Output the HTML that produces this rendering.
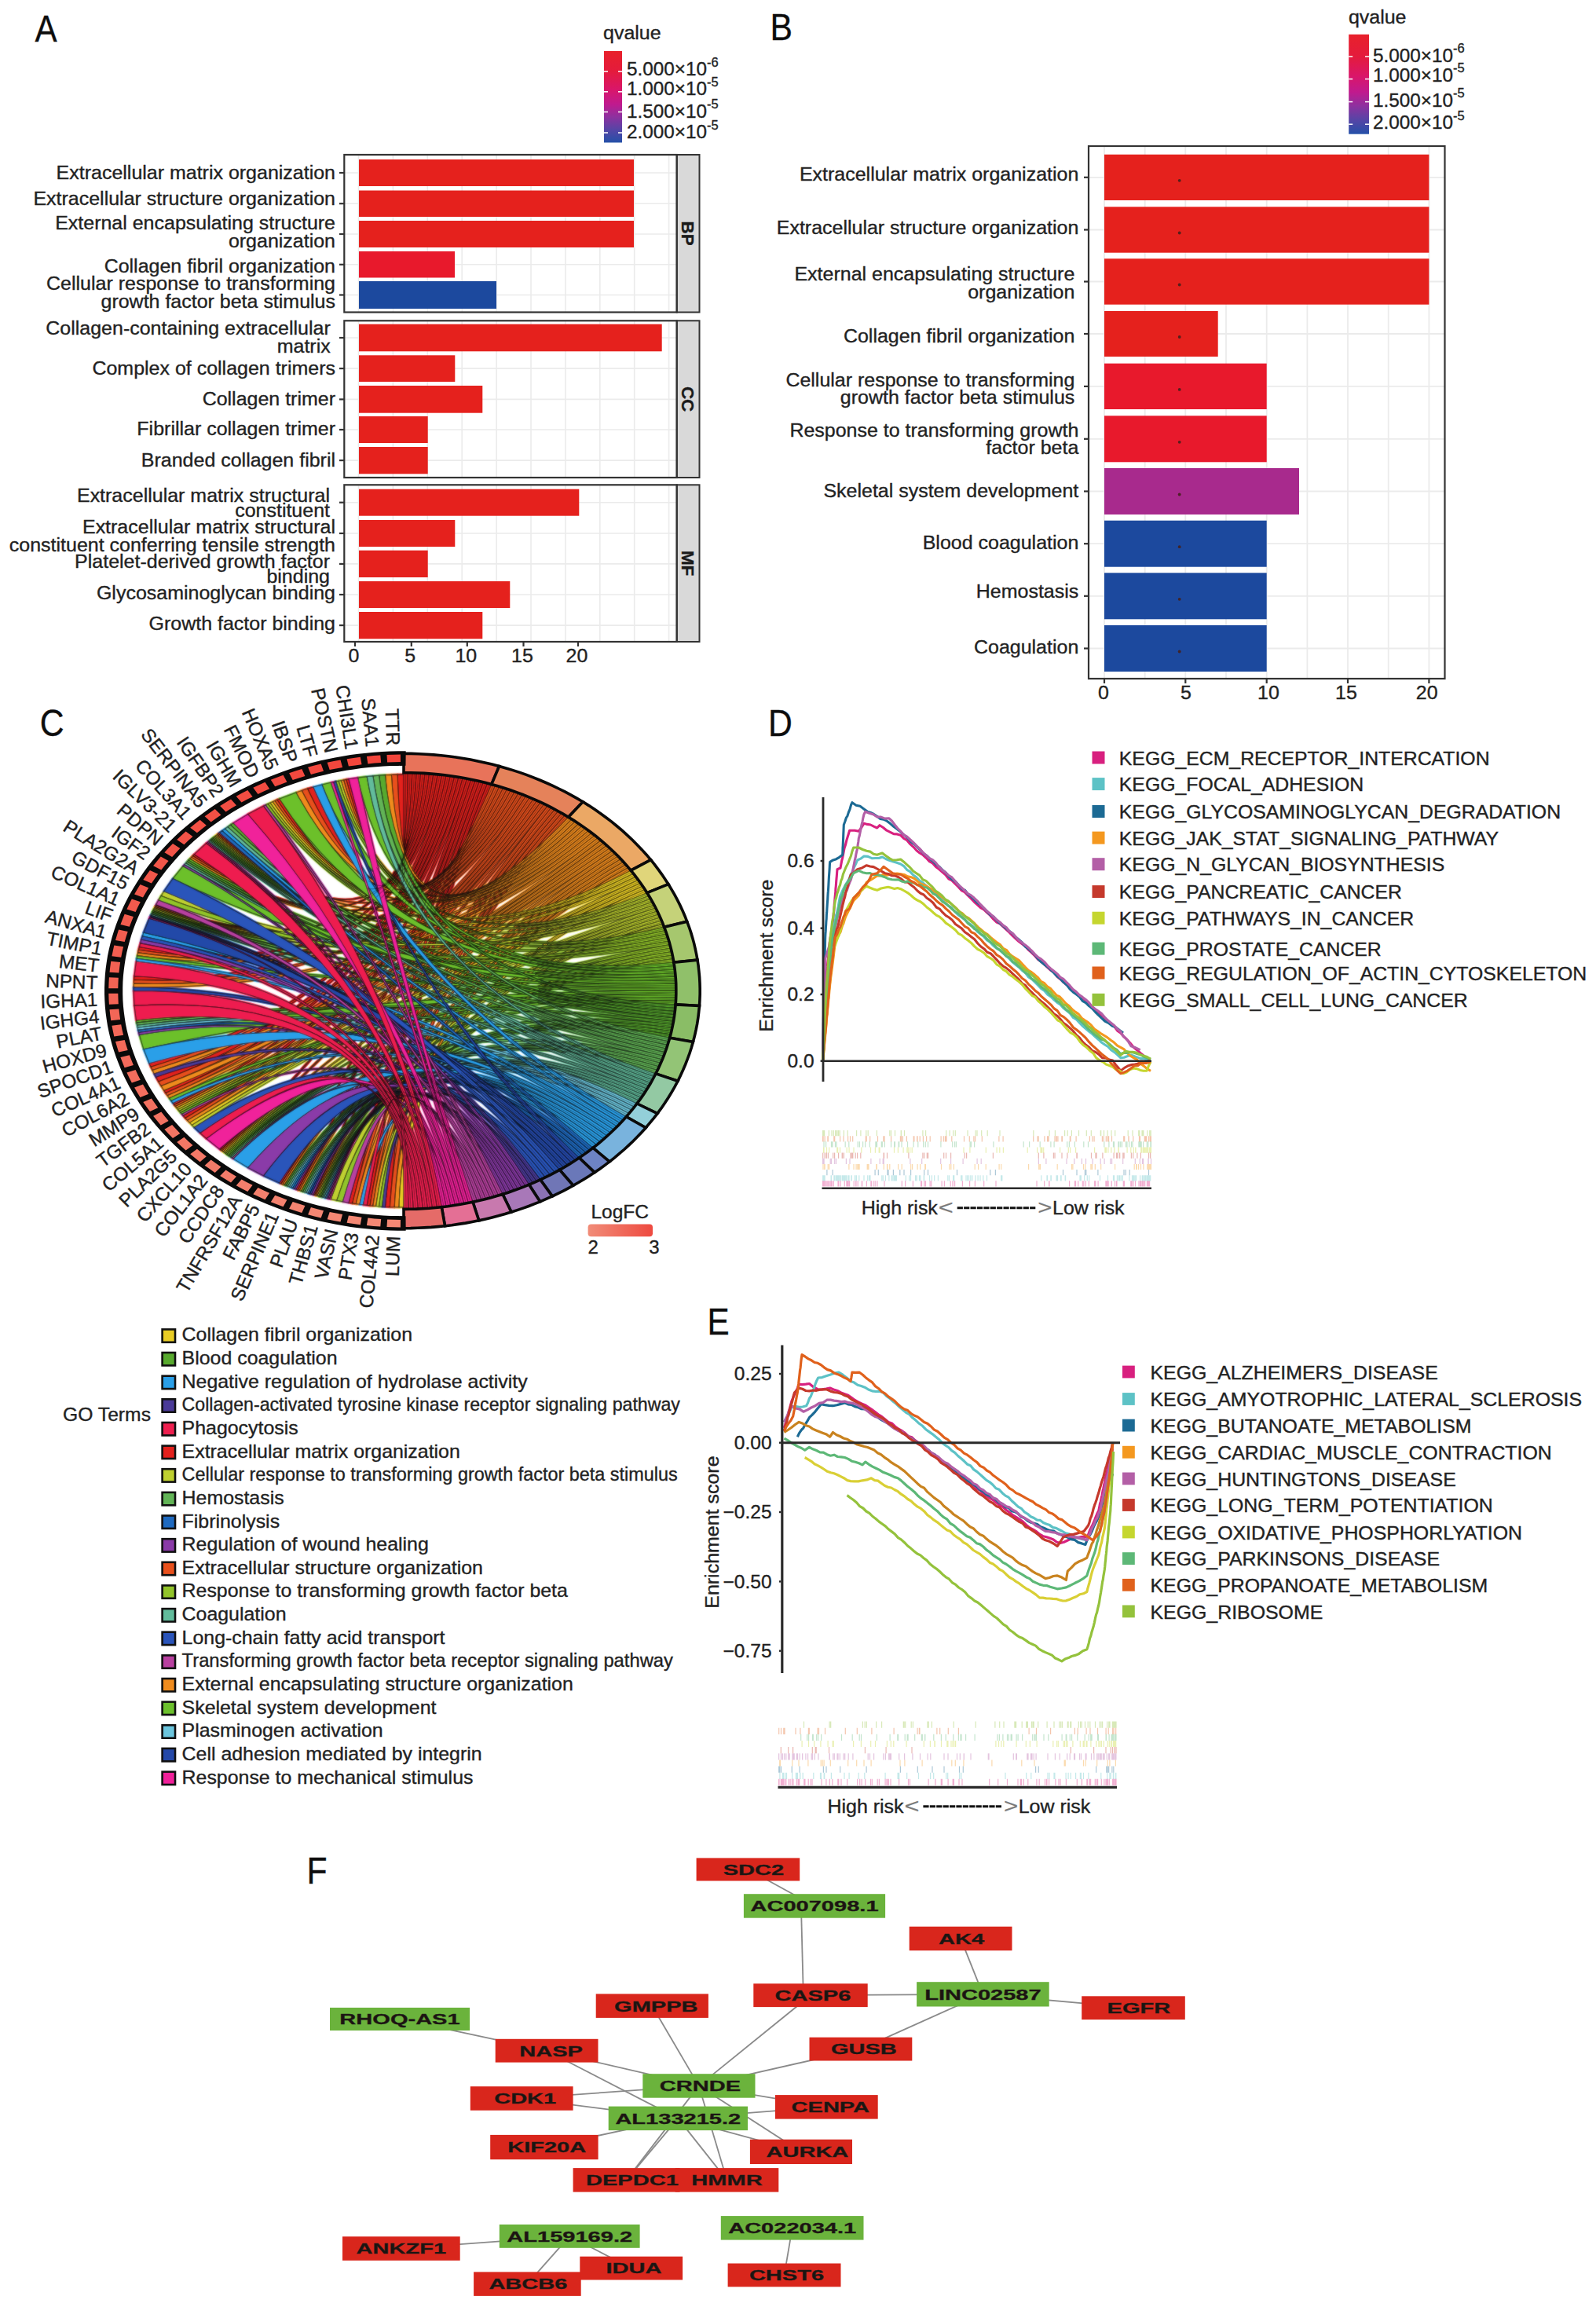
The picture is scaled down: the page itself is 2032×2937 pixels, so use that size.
<!DOCTYPE html>
<html><head><meta charset="utf-8"><title>figure</title>
<style>html,body{margin:0;padding:0;background:#fff}svg{display:block}
text{font-family:"Liberation Sans",sans-serif;stroke:#222;stroke-width:0.35px}
</style></head>
<body><svg width="2032" height="2937" viewBox="0 0 2032 2937">
<rect width="2032" height="2937" fill="#ffffff"/>
<text transform="translate(44.4,53.4) scale(0.8700,1)" font-size="48.5" fill="#0d0d0d">A</text>
<text transform="translate(980.6,50.6) scale(0.8800,1)" font-size="48.5" fill="#0d0d0d">B</text>
<rect x="438.3" y="197.0" width="423.4" height="200.5" fill="#fff"/>
<line x1="456.5" y1="197.0" x2="456.5" y2="397.5" stroke="#ebebeb" stroke-width="1.6"/>
<line x1="500.4" y1="197.0" x2="500.4" y2="397.5" stroke="#ebebeb" stroke-width="1.6"/>
<line x1="544.3" y1="197.0" x2="544.3" y2="397.5" stroke="#ebebeb" stroke-width="1.6"/>
<line x1="588.2" y1="197.0" x2="588.2" y2="397.5" stroke="#ebebeb" stroke-width="1.6"/>
<line x1="632.1" y1="197.0" x2="632.1" y2="397.5" stroke="#ebebeb" stroke-width="1.6"/>
<line x1="676.0" y1="197.0" x2="676.0" y2="397.5" stroke="#ebebeb" stroke-width="1.6"/>
<line x1="719.9" y1="197.0" x2="719.9" y2="397.5" stroke="#ebebeb" stroke-width="1.6"/>
<line x1="763.8" y1="197.0" x2="763.8" y2="397.5" stroke="#ebebeb" stroke-width="1.6"/>
<line x1="807.7" y1="197.0" x2="807.7" y2="397.5" stroke="#ebebeb" stroke-width="1.6"/>
<line x1="851.6" y1="197.0" x2="851.6" y2="397.5" stroke="#ebebeb" stroke-width="1.6"/>
<line x1="438.3" y1="220.0" x2="861.7" y2="220.0" stroke="#ebebeb" stroke-width="1.6"/>
<line x1="438.3" y1="259.2" x2="861.7" y2="259.2" stroke="#ebebeb" stroke-width="1.6"/>
<line x1="438.3" y1="298.0" x2="861.7" y2="298.0" stroke="#ebebeb" stroke-width="1.6"/>
<line x1="438.3" y1="336.8" x2="861.7" y2="336.8" stroke="#ebebeb" stroke-width="1.6"/>
<line x1="438.3" y1="375.5" x2="861.7" y2="375.5" stroke="#ebebeb" stroke-width="1.6"/>
<rect x="457.0" y="203.0" width="350.0" height="34.0" fill="#e5211d"/>
<line x1="432.0" y1="220.0" x2="438.3" y2="220.0" stroke="#333333" stroke-width="2.2"/>
<rect x="457.0" y="242.5" width="350.0" height="33.5" fill="#e5211d"/>
<line x1="432.0" y1="259.2" x2="438.3" y2="259.2" stroke="#333333" stroke-width="2.2"/>
<rect x="457.0" y="281.0" width="350.0" height="34.0" fill="#e5211d"/>
<line x1="432.0" y1="298.0" x2="438.3" y2="298.0" stroke="#333333" stroke-width="2.2"/>
<rect x="457.0" y="320.0" width="122.0" height="33.5" fill="#e8192c"/>
<line x1="432.0" y1="336.8" x2="438.3" y2="336.8" stroke="#333333" stroke-width="2.2"/>
<rect x="457.0" y="358.0" width="175.0" height="35.0" fill="#1c499e"/>
<line x1="432.0" y1="375.5" x2="438.3" y2="375.5" stroke="#333333" stroke-width="2.2"/>
<rect x="861.7" y="197.0" width="28.8" height="200.5" fill="#d9d9d9" stroke="#333333" stroke-width="2"/>
<rect x="438.3" y="197.0" width="423.4" height="200.5" fill="none" stroke="#333333" stroke-width="2.2"/>
<text transform="translate(868.0,297.2) rotate(90.00) scale(1.0200,1)" font-size="22" text-anchor="middle" font-weight="700" fill="#1a1a1a">BP</text>
<rect x="438.3" y="408.3" width="423.4" height="199.7" fill="#fff"/>
<line x1="456.5" y1="408.3" x2="456.5" y2="608.0" stroke="#ebebeb" stroke-width="1.6"/>
<line x1="500.4" y1="408.3" x2="500.4" y2="608.0" stroke="#ebebeb" stroke-width="1.6"/>
<line x1="544.3" y1="408.3" x2="544.3" y2="608.0" stroke="#ebebeb" stroke-width="1.6"/>
<line x1="588.2" y1="408.3" x2="588.2" y2="608.0" stroke="#ebebeb" stroke-width="1.6"/>
<line x1="632.1" y1="408.3" x2="632.1" y2="608.0" stroke="#ebebeb" stroke-width="1.6"/>
<line x1="676.0" y1="408.3" x2="676.0" y2="608.0" stroke="#ebebeb" stroke-width="1.6"/>
<line x1="719.9" y1="408.3" x2="719.9" y2="608.0" stroke="#ebebeb" stroke-width="1.6"/>
<line x1="763.8" y1="408.3" x2="763.8" y2="608.0" stroke="#ebebeb" stroke-width="1.6"/>
<line x1="807.7" y1="408.3" x2="807.7" y2="608.0" stroke="#ebebeb" stroke-width="1.6"/>
<line x1="851.6" y1="408.3" x2="851.6" y2="608.0" stroke="#ebebeb" stroke-width="1.6"/>
<line x1="438.3" y1="430.0" x2="861.7" y2="430.0" stroke="#ebebeb" stroke-width="1.6"/>
<line x1="438.3" y1="469.1" x2="861.7" y2="469.1" stroke="#ebebeb" stroke-width="1.6"/>
<line x1="438.3" y1="508.4" x2="861.7" y2="508.4" stroke="#ebebeb" stroke-width="1.6"/>
<line x1="438.3" y1="547.0" x2="861.7" y2="547.0" stroke="#ebebeb" stroke-width="1.6"/>
<line x1="438.3" y1="586.1" x2="861.7" y2="586.1" stroke="#ebebeb" stroke-width="1.6"/>
<rect x="457.0" y="412.7" width="385.7" height="34.6" fill="#e5211d"/>
<line x1="432.0" y1="430.0" x2="438.3" y2="430.0" stroke="#333333" stroke-width="2.2"/>
<rect x="457.0" y="452.3" width="122.3" height="33.7" fill="#e5211d"/>
<line x1="432.0" y1="469.1" x2="438.3" y2="469.1" stroke="#333333" stroke-width="2.2"/>
<rect x="457.0" y="491.0" width="157.3" height="34.7" fill="#e5211d"/>
<line x1="432.0" y1="508.4" x2="438.3" y2="508.4" stroke="#333333" stroke-width="2.2"/>
<rect x="457.0" y="530.0" width="87.7" height="34.0" fill="#e5211d"/>
<line x1="432.0" y1="547.0" x2="438.3" y2="547.0" stroke="#333333" stroke-width="2.2"/>
<rect x="457.0" y="569.0" width="87.7" height="34.3" fill="#e5211d"/>
<line x1="432.0" y1="586.1" x2="438.3" y2="586.1" stroke="#333333" stroke-width="2.2"/>
<rect x="861.7" y="408.3" width="28.8" height="199.7" fill="#d9d9d9" stroke="#333333" stroke-width="2"/>
<rect x="438.3" y="408.3" width="423.4" height="199.7" fill="none" stroke="#333333" stroke-width="2.2"/>
<text transform="translate(868.0,508.1) rotate(90.00) scale(1.0200,1)" font-size="22" text-anchor="middle" font-weight="700" fill="#1a1a1a">CC</text>
<rect x="438.3" y="617.3" width="423.4" height="199.7" fill="#fff"/>
<line x1="456.5" y1="617.3" x2="456.5" y2="817.0" stroke="#ebebeb" stroke-width="1.6"/>
<line x1="500.4" y1="617.3" x2="500.4" y2="817.0" stroke="#ebebeb" stroke-width="1.6"/>
<line x1="544.3" y1="617.3" x2="544.3" y2="817.0" stroke="#ebebeb" stroke-width="1.6"/>
<line x1="588.2" y1="617.3" x2="588.2" y2="817.0" stroke="#ebebeb" stroke-width="1.6"/>
<line x1="632.1" y1="617.3" x2="632.1" y2="817.0" stroke="#ebebeb" stroke-width="1.6"/>
<line x1="676.0" y1="617.3" x2="676.0" y2="817.0" stroke="#ebebeb" stroke-width="1.6"/>
<line x1="719.9" y1="617.3" x2="719.9" y2="817.0" stroke="#ebebeb" stroke-width="1.6"/>
<line x1="763.8" y1="617.3" x2="763.8" y2="817.0" stroke="#ebebeb" stroke-width="1.6"/>
<line x1="807.7" y1="617.3" x2="807.7" y2="817.0" stroke="#ebebeb" stroke-width="1.6"/>
<line x1="851.6" y1="617.3" x2="851.6" y2="817.0" stroke="#ebebeb" stroke-width="1.6"/>
<line x1="438.3" y1="639.7" x2="861.7" y2="639.7" stroke="#ebebeb" stroke-width="1.6"/>
<line x1="438.3" y1="679.0" x2="861.7" y2="679.0" stroke="#ebebeb" stroke-width="1.6"/>
<line x1="438.3" y1="717.9" x2="861.7" y2="717.9" stroke="#ebebeb" stroke-width="1.6"/>
<line x1="438.3" y1="757.0" x2="861.7" y2="757.0" stroke="#ebebeb" stroke-width="1.6"/>
<line x1="438.3" y1="796.1" x2="861.7" y2="796.1" stroke="#ebebeb" stroke-width="1.6"/>
<rect x="457.0" y="622.7" width="280.3" height="34.0" fill="#e5211d"/>
<line x1="432.0" y1="639.7" x2="438.3" y2="639.7" stroke="#333333" stroke-width="2.2"/>
<rect x="457.0" y="662.0" width="122.3" height="34.0" fill="#e5211d"/>
<line x1="432.0" y1="679.0" x2="438.3" y2="679.0" stroke="#333333" stroke-width="2.2"/>
<rect x="457.0" y="700.7" width="87.7" height="34.3" fill="#e5211d"/>
<line x1="432.0" y1="717.9" x2="438.3" y2="717.9" stroke="#333333" stroke-width="2.2"/>
<rect x="457.0" y="740.0" width="192.3" height="34.0" fill="#e5211d"/>
<line x1="432.0" y1="757.0" x2="438.3" y2="757.0" stroke="#333333" stroke-width="2.2"/>
<rect x="457.0" y="779.0" width="157.3" height="34.3" fill="#e5211d"/>
<line x1="432.0" y1="796.1" x2="438.3" y2="796.1" stroke="#333333" stroke-width="2.2"/>
<rect x="861.7" y="617.3" width="28.8" height="199.7" fill="#d9d9d9" stroke="#333333" stroke-width="2"/>
<rect x="438.3" y="617.3" width="423.4" height="199.7" fill="none" stroke="#333333" stroke-width="2.2"/>
<text transform="translate(868.0,717.1) rotate(90.00) scale(1.0200,1)" font-size="22" text-anchor="middle" font-weight="700" fill="#1a1a1a">MF</text>
<text transform="translate(427.0,228.3) scale(1.0200,1)" font-size="24.5" text-anchor="end" fill="#222222">Extracellular matrix organization</text>
<text transform="translate(427.0,261.0) scale(1.0200,1)" font-size="24.5" text-anchor="end" fill="#222222">Extracellular structure organization</text>
<text transform="translate(427.0,291.7) scale(1.0200,1)" font-size="24.5" text-anchor="end" fill="#222222">External encapsulating structure</text>
<text transform="translate(427.0,315.0) scale(1.0200,1)" font-size="24.5" text-anchor="end" fill="#222222">organization</text>
<text transform="translate(427.0,346.7) scale(1.0200,1)" font-size="24.5" text-anchor="end" fill="#222222">Collagen fibril organization</text>
<text transform="translate(427.0,369.3) scale(1.0200,1)" font-size="24.5" text-anchor="end" fill="#222222">Cellular response to transforming</text>
<text transform="translate(427.0,392.0) scale(1.0200,1)" font-size="24.5" text-anchor="end" fill="#222222">growth factor beta stimulus</text>
<text transform="translate(420.7,426.0) scale(1.0200,1)" font-size="24.5" text-anchor="end" fill="#222222">Collagen-containing extracellular</text>
<text transform="translate(420.7,448.7) scale(1.0200,1)" font-size="24.5" text-anchor="end" fill="#222222">matrix</text>
<text transform="translate(427.0,476.7) scale(1.0200,1)" font-size="24.5" text-anchor="end" fill="#222222">Complex of collagen trimers</text>
<text transform="translate(427.0,516.0) scale(1.0200,1)" font-size="24.5" text-anchor="end" fill="#222222">Collagen trimer</text>
<text transform="translate(427.0,554.0) scale(1.0200,1)" font-size="24.5" text-anchor="end" fill="#222222">Fibrillar collagen trimer</text>
<text transform="translate(427.0,594.3) scale(1.0200,1)" font-size="24.5" text-anchor="end" fill="#222222">Branded collagen fibril</text>
<text transform="translate(420.0,639.3) scale(1.0200,1)" font-size="24.5" text-anchor="end" fill="#222222">Extracellular matrix structural</text>
<text transform="translate(420.0,658.3) scale(1.0200,1)" font-size="24.5" text-anchor="end" fill="#222222">constituent</text>
<text transform="translate(427.0,679.3) scale(1.0200,1)" font-size="24.5" text-anchor="end" fill="#222222">Extracellular matrix structural</text>
<text transform="translate(427.0,702.3) scale(1.0200,1)" font-size="24.5" text-anchor="end" fill="#222222">constituent conferring tensile strength</text>
<text transform="translate(420.0,723.3) scale(1.0200,1)" font-size="24.5" text-anchor="end" fill="#222222">Platelet-derived growth factor</text>
<text transform="translate(420.0,742.3) scale(1.0200,1)" font-size="24.5" text-anchor="end" fill="#222222">binding</text>
<text transform="translate(427.0,763.3) scale(1.0200,1)" font-size="24.5" text-anchor="end" fill="#222222">Glycosaminoglycan binding</text>
<text transform="translate(427.0,801.7) scale(1.0200,1)" font-size="24.5" text-anchor="end" fill="#222222">Growth factor binding</text>
<line x1="452.0" y1="817.0" x2="452.0" y2="823.0" stroke="#333333" stroke-width="2.2"/>
<text transform="translate(450.5,843.3) scale(1.0200,1)" font-size="24.5" text-anchor="middle" fill="#222222">0</text>
<line x1="523.8" y1="817.0" x2="523.8" y2="823.0" stroke="#333333" stroke-width="2.2"/>
<text transform="translate(522.3,843.3) scale(1.0200,1)" font-size="24.5" text-anchor="middle" fill="#222222">5</text>
<line x1="594.8" y1="817.0" x2="594.8" y2="823.0" stroke="#333333" stroke-width="2.2"/>
<text transform="translate(593.3,843.3) scale(1.0200,1)" font-size="24.5" text-anchor="middle" fill="#222222">10</text>
<line x1="666.5" y1="817.0" x2="666.5" y2="823.0" stroke="#333333" stroke-width="2.2"/>
<text transform="translate(665.0,843.3) scale(1.0200,1)" font-size="24.5" text-anchor="middle" fill="#222222">15</text>
<line x1="736.0" y1="817.0" x2="736.0" y2="823.0" stroke="#333333" stroke-width="2.2"/>
<text transform="translate(734.5,843.3) scale(1.0200,1)" font-size="24.5" text-anchor="middle" fill="#222222">20</text>
<defs><linearGradient id="qg1" x1="0" y1="0" x2="0" y2="1"><stop offset="0" stop-color="#e8212b"/><stop offset="0.22" stop-color="#e41b3c"/><stop offset="0.42" stop-color="#d9166a"/><stop offset="0.58" stop-color="#c01a8e"/><stop offset="0.72" stop-color="#8d319f"/><stop offset="0.86" stop-color="#5545a6"/><stop offset="1" stop-color="#2450a8"/></linearGradient></defs>
<text transform="translate(768.0,50.3) scale(1.0200,1)" font-size="24.5" fill="#222222">qvalue</text>
<rect x="769" y="65" width="23.0" height="116.5" fill="url(#qg1)"/>
<line x1="769.0" y1="91.0" x2="774.0" y2="91.0" stroke="#fff" stroke-width="1.5"/>
<line x1="787.0" y1="91.0" x2="792.0" y2="91.0" stroke="#fff" stroke-width="1.5"/>
<line x1="769.0" y1="116.8" x2="774.0" y2="116.8" stroke="#fff" stroke-width="1.5"/>
<line x1="787.0" y1="116.8" x2="792.0" y2="116.8" stroke="#fff" stroke-width="1.5"/>
<line x1="769.0" y1="142.5" x2="774.0" y2="142.5" stroke="#fff" stroke-width="1.5"/>
<line x1="787.0" y1="142.5" x2="792.0" y2="142.5" stroke="#fff" stroke-width="1.5"/>
<line x1="769.0" y1="169.0" x2="774.0" y2="169.0" stroke="#fff" stroke-width="1.5"/>
<line x1="787.0" y1="169.0" x2="792.0" y2="169.0" stroke="#fff" stroke-width="1.5"/>
<text x="798" y="96.3" font-size="24.3" fill="#222222">5.000×10<tspan dy="-11.5" font-size="16.5">-6</tspan></text>
<text x="798" y="121" font-size="24.3" fill="#222222">1.000×10<tspan dy="-11.5" font-size="16.5">-5</tspan></text>
<text x="798" y="149.5" font-size="24.3" fill="#222222">1.500×10<tspan dy="-11.5" font-size="16.5">-5</tspan></text>
<text x="798" y="176.3" font-size="24.3" fill="#222222">2.000×10<tspan dy="-11.5" font-size="16.5">-5</tspan></text>
<rect x="1386.0" y="186.0" width="453.5" height="678.0" fill="#fff"/>
<line x1="1406.0" y1="186.0" x2="1406.0" y2="864.0" stroke="#ebebeb" stroke-width="1.8"/>
<line x1="1457.7" y1="186.0" x2="1457.7" y2="864.0" stroke="#ebebeb" stroke-width="1.8"/>
<line x1="1509.3" y1="186.0" x2="1509.3" y2="864.0" stroke="#ebebeb" stroke-width="1.8"/>
<line x1="1561.0" y1="186.0" x2="1561.0" y2="864.0" stroke="#ebebeb" stroke-width="1.8"/>
<line x1="1612.7" y1="186.0" x2="1612.7" y2="864.0" stroke="#ebebeb" stroke-width="1.8"/>
<line x1="1664.4" y1="186.0" x2="1664.4" y2="864.0" stroke="#ebebeb" stroke-width="1.8"/>
<line x1="1716.0" y1="186.0" x2="1716.0" y2="864.0" stroke="#ebebeb" stroke-width="1.8"/>
<line x1="1767.7" y1="186.0" x2="1767.7" y2="864.0" stroke="#ebebeb" stroke-width="1.8"/>
<line x1="1819.4" y1="186.0" x2="1819.4" y2="864.0" stroke="#ebebeb" stroke-width="1.8"/>
<line x1="1386.0" y1="225.8" x2="1839.5" y2="225.8" stroke="#ebebeb" stroke-width="1.8"/>
<line x1="1386.0" y1="292.5" x2="1839.5" y2="292.5" stroke="#ebebeb" stroke-width="1.8"/>
<line x1="1386.0" y1="358.5" x2="1839.5" y2="358.5" stroke="#ebebeb" stroke-width="1.8"/>
<line x1="1386.0" y1="425.0" x2="1839.5" y2="425.0" stroke="#ebebeb" stroke-width="1.8"/>
<line x1="1386.0" y1="491.9" x2="1839.5" y2="491.9" stroke="#ebebeb" stroke-width="1.8"/>
<line x1="1386.0" y1="558.8" x2="1839.5" y2="558.8" stroke="#ebebeb" stroke-width="1.8"/>
<line x1="1386.0" y1="625.5" x2="1839.5" y2="625.5" stroke="#ebebeb" stroke-width="1.8"/>
<line x1="1386.0" y1="692.2" x2="1839.5" y2="692.2" stroke="#ebebeb" stroke-width="1.8"/>
<line x1="1386.0" y1="758.8" x2="1839.5" y2="758.8" stroke="#ebebeb" stroke-width="1.8"/>
<line x1="1386.0" y1="825.5" x2="1839.5" y2="825.5" stroke="#ebebeb" stroke-width="1.8"/>
<rect x="1406.0" y="196.7" width="413.4" height="58.3" fill="#e5211d"/>
<line x1="1380.0" y1="225.8" x2="1386.0" y2="225.8" stroke="#333333" stroke-width="2.2"/>
<circle cx="1501.7" cy="229.8" r="1.9" fill="#45201c" opacity="0.9"/>
<rect x="1406.0" y="263.3" width="413.4" height="58.4" fill="#e5211d"/>
<line x1="1380.0" y1="292.5" x2="1386.0" y2="292.5" stroke="#333333" stroke-width="2.2"/>
<circle cx="1501.7" cy="296.5" r="1.9" fill="#45201c" opacity="0.9"/>
<rect x="1406.0" y="329.3" width="413.4" height="58.4" fill="#e5211d"/>
<line x1="1380.0" y1="358.5" x2="1386.0" y2="358.5" stroke="#333333" stroke-width="2.2"/>
<circle cx="1501.7" cy="362.5" r="1.9" fill="#45201c" opacity="0.9"/>
<rect x="1406.0" y="396.0" width="144.7" height="58.0" fill="#e5211d"/>
<line x1="1380.0" y1="425.0" x2="1386.0" y2="425.0" stroke="#333333" stroke-width="2.2"/>
<circle cx="1501.7" cy="429.0" r="1.9" fill="#45201c" opacity="0.9"/>
<rect x="1406.0" y="462.7" width="206.7" height="58.3" fill="#e8192c"/>
<line x1="1380.0" y1="491.9" x2="1386.0" y2="491.9" stroke="#333333" stroke-width="2.2"/>
<circle cx="1501.7" cy="495.9" r="1.9" fill="#45201c" opacity="0.9"/>
<rect x="1406.0" y="529.3" width="206.7" height="59.0" fill="#e8192c"/>
<line x1="1380.0" y1="558.8" x2="1386.0" y2="558.8" stroke="#333333" stroke-width="2.2"/>
<circle cx="1501.7" cy="562.8" r="1.9" fill="#45201c" opacity="0.9"/>
<rect x="1406.0" y="596.0" width="248.0" height="59.0" fill="#a82a8d"/>
<line x1="1380.0" y1="625.5" x2="1386.0" y2="625.5" stroke="#333333" stroke-width="2.2"/>
<circle cx="1501.7" cy="629.5" r="1.9" fill="#45201c" opacity="0.9"/>
<rect x="1406.0" y="662.7" width="206.7" height="59.0" fill="#1c499e"/>
<line x1="1380.0" y1="692.2" x2="1386.0" y2="692.2" stroke="#333333" stroke-width="2.2"/>
<circle cx="1501.7" cy="696.2" r="1.9" fill="#45201c" opacity="0.9"/>
<rect x="1406.0" y="729.3" width="206.7" height="59.0" fill="#1c499e"/>
<line x1="1380.0" y1="758.8" x2="1386.0" y2="758.8" stroke="#333333" stroke-width="2.2"/>
<circle cx="1501.7" cy="762.8" r="1.9" fill="#45201c" opacity="0.9"/>
<rect x="1406.0" y="796.0" width="206.7" height="59.0" fill="#1c499e"/>
<line x1="1380.0" y1="825.5" x2="1386.0" y2="825.5" stroke="#333333" stroke-width="2.2"/>
<circle cx="1501.7" cy="829.5" r="1.9" fill="#45201c" opacity="0.9"/>
<rect x="1386.0" y="186.0" width="453.5" height="678.0" fill="none" stroke="#333333" stroke-width="2.2"/>
<text transform="translate(1373.3,230.0) scale(1.0200,1)" font-size="24.5" text-anchor="end" fill="#222222">Extracellular matrix organization</text>
<text transform="translate(1373.3,298.3) scale(1.0200,1)" font-size="24.5" text-anchor="end" fill="#222222">Extracellular structure organization</text>
<text transform="translate(1368.3,357.3) scale(1.0200,1)" font-size="24.5" text-anchor="end" fill="#222222">External encapsulating structure</text>
<text transform="translate(1368.3,380.0) scale(1.0200,1)" font-size="24.5" text-anchor="end" fill="#222222">organization</text>
<text transform="translate(1368.3,436.0) scale(1.0200,1)" font-size="24.5" text-anchor="end" fill="#222222">Collagen fibril organization</text>
<text transform="translate(1368.3,491.7) scale(1.0200,1)" font-size="24.5" text-anchor="end" fill="#222222">Cellular response to transforming</text>
<text transform="translate(1368.3,514.0) scale(1.0200,1)" font-size="24.5" text-anchor="end" fill="#222222">growth factor beta stimulus</text>
<text transform="translate(1373.3,555.7) scale(1.0200,1)" font-size="24.5" text-anchor="end" fill="#222222">Response to transforming growth</text>
<text transform="translate(1373.3,578.3) scale(1.0200,1)" font-size="24.5" text-anchor="end" fill="#222222">factor beta</text>
<text transform="translate(1373.3,632.7) scale(1.0200,1)" font-size="24.5" text-anchor="end" fill="#222222">Skeletal system development</text>
<text transform="translate(1373.3,699.0) scale(1.0200,1)" font-size="24.5" text-anchor="end" fill="#222222">Blood coagulation</text>
<text transform="translate(1373.3,761.0) scale(1.0200,1)" font-size="24.5" text-anchor="end" fill="#222222">Hemostasis</text>
<text transform="translate(1373.3,831.7) scale(1.0200,1)" font-size="24.5" text-anchor="end" fill="#222222">Coagulation</text>
<line x1="1406.0" y1="864.0" x2="1406.0" y2="870.0" stroke="#333333" stroke-width="2.2"/>
<text transform="translate(1405.0,890.0) scale(1.0200,1)" font-size="24.5" text-anchor="middle" fill="#222222">0</text>
<line x1="1509.3" y1="864.0" x2="1509.3" y2="870.0" stroke="#333333" stroke-width="2.2"/>
<text transform="translate(1510.0,890.0) scale(1.0200,1)" font-size="24.5" text-anchor="middle" fill="#222222">5</text>
<line x1="1612.7" y1="864.0" x2="1612.7" y2="870.0" stroke="#333333" stroke-width="2.2"/>
<text transform="translate(1615.0,890.0) scale(1.0200,1)" font-size="24.5" text-anchor="middle" fill="#222222">10</text>
<line x1="1716.0" y1="864.0" x2="1716.0" y2="870.0" stroke="#333333" stroke-width="2.2"/>
<text transform="translate(1714.0,890.0) scale(1.0200,1)" font-size="24.5" text-anchor="middle" fill="#222222">15</text>
<line x1="1819.4" y1="864.0" x2="1819.4" y2="870.0" stroke="#333333" stroke-width="2.2"/>
<text transform="translate(1816.7,890.0) scale(1.0200,1)" font-size="24.5" text-anchor="middle" fill="#222222">20</text>
<defs><linearGradient id="qg2" x1="0" y1="0" x2="0" y2="1"><stop offset="0" stop-color="#e8212b"/><stop offset="0.22" stop-color="#e41b3c"/><stop offset="0.42" stop-color="#d9166a"/><stop offset="0.58" stop-color="#c01a8e"/><stop offset="0.72" stop-color="#8d319f"/><stop offset="0.86" stop-color="#5545a6"/><stop offset="1" stop-color="#2450a8"/></linearGradient></defs>
<text transform="translate(1716.9,29.6) scale(1.0200,1)" font-size="24.5" fill="#222222">qvalue</text>
<rect x="1717.2" y="43.8" width="25.8" height="126.9" fill="url(#qg2)"/>
<line x1="1717.2" y1="72.0" x2="1722.2" y2="72.0" stroke="#fff" stroke-width="1.5"/>
<line x1="1738.0" y1="72.0" x2="1743.0" y2="72.0" stroke="#fff" stroke-width="1.5"/>
<line x1="1717.2" y1="100.6" x2="1722.2" y2="100.6" stroke="#fff" stroke-width="1.5"/>
<line x1="1738.0" y1="100.6" x2="1743.0" y2="100.6" stroke="#fff" stroke-width="1.5"/>
<line x1="1717.2" y1="129.6" x2="1722.2" y2="129.6" stroke="#fff" stroke-width="1.5"/>
<line x1="1738.0" y1="129.6" x2="1743.0" y2="129.6" stroke="#fff" stroke-width="1.5"/>
<line x1="1717.2" y1="158.2" x2="1722.2" y2="158.2" stroke="#fff" stroke-width="1.5"/>
<line x1="1738.0" y1="158.2" x2="1743.0" y2="158.2" stroke="#fff" stroke-width="1.5"/>
<text x="1747.9" y="78.6" font-size="24.3" fill="#222222">5.000×10<tspan dy="-11.5" font-size="16.5">-6</tspan></text>
<text x="1747.9" y="103.7" font-size="24.3" fill="#222222">1.000×10<tspan dy="-11.5" font-size="16.5">-5</tspan></text>
<text x="1747.9" y="135.8" font-size="24.3" fill="#222222">1.500×10<tspan dy="-11.5" font-size="16.5">-5</tspan></text>
<text x="1747.9" y="164" font-size="24.3" fill="#222222">2.000×10<tspan dy="-11.5" font-size="16.5">-5</tspan></text>
<defs><filter id="cblur" x="-5%" y="-5%" width="110%" height="110%"><feGaussianBlur stdDeviation="0.9" result="b"/><feComposite in="SourceGraphic" in2="b" operator="arithmetic" k1="0" k2="0.55" k3="0.45" k4="0"/></filter></defs>
<g filter="url(#cblur)">
<g stroke-width="3.2" stroke-linejoin="round" opacity="0.9"><path d="M514.0,984.3Q514.0,1261.5 514.0,986.1L506.2,986.1Q514.0,1261.5 519.4,984.3Z" fill="#e3201c" stroke="#e3201c"/><path d="M519.4,984.3Q514.0,1261.5 444.0,991.8L440.8,992.4Q514.0,1261.5 524.8,984.4Z" fill="#e3201c" stroke="#e3201c"/><path d="M524.8,984.4Q514.0,1261.5 398.9,1002.0L391.5,1004.1Q514.0,1261.5 530.2,984.6Z" fill="#e3201c" stroke="#e3201c"/><path d="M530.2,984.6Q514.0,1261.5 355.8,1017.0L352.8,1018.2Q514.0,1261.5 535.6,984.8Z" fill="#e3201c" stroke="#e3201c"/><path d="M535.6,984.8Q514.0,1261.5 279.3,1060.2L277.9,1061.3Q514.0,1261.5 541.0,985.1Z" fill="#e3201c" stroke="#e3201c"/><path d="M541.0,985.1Q514.0,1261.5 247.3,1087.7L245.4,1089.5Q514.0,1261.5 546.4,985.5Z" fill="#e3201c" stroke="#e3201c"/><path d="M546.4,985.5Q514.0,1261.5 198.6,1151.8L197.9,1153.1Q514.0,1261.5 551.8,985.9Z" fill="#e3201c" stroke="#e3201c"/><path d="M551.8,985.9Q514.0,1261.5 177.4,1205.5L176.4,1209.2Q514.0,1261.5 557.2,986.4Z" fill="#e3201c" stroke="#e3201c"/><path d="M557.2,986.4Q514.0,1261.5 171.0,1242.7L170.6,1247.4Q514.0,1261.5 562.5,987.0Z" fill="#e3201c" stroke="#e3201c"/><path d="M562.5,987.0Q514.0,1261.5 190.0,1353.7L192.0,1358.2Q514.0,1261.5 567.9,987.6Z" fill="#e3201c" stroke="#e3201c"/><path d="M567.9,987.6Q514.0,1261.5 198.6,1371.2L201.8,1377.0Q514.0,1261.5 573.2,988.3Z" fill="#e3201c" stroke="#e3201c"/><path d="M573.2,988.3Q514.0,1261.5 208.7,1388.2L210.9,1391.5Q514.0,1261.5 578.5,989.1Z" fill="#e3201c" stroke="#e3201c"/><path d="M578.5,989.1Q514.0,1261.5 220.2,1404.6L221.8,1406.6Q514.0,1261.5 583.8,990.0Z" fill="#e3201c" stroke="#e3201c"/><path d="M583.8,990.0Q514.0,1261.5 233.1,1420.3L235.8,1423.4Q514.0,1261.5 589.1,990.9Z" fill="#e3201c" stroke="#e3201c"/><path d="M589.1,990.9Q514.0,1261.5 279.3,1462.8L280.9,1464.0Q514.0,1261.5 594.4,991.8Z" fill="#e3201c" stroke="#e3201c"/><path d="M594.4,991.8Q514.0,1261.5 355.8,1506.0L357.9,1506.9Q514.0,1261.5 599.6,992.9Z" fill="#e3201c" stroke="#e3201c"/><path d="M599.6,992.9Q514.0,1261.5 377.0,1514.1L379.2,1514.9Q514.0,1261.5 604.9,994.0Z" fill="#e3201c" stroke="#e3201c"/><path d="M604.9,994.0Q514.0,1261.5 398.9,1521.0L400.6,1521.5Q514.0,1261.5 610.1,995.1Z" fill="#e3201c" stroke="#e3201c"/><path d="M610.1,995.1Q514.0,1261.5 444.0,1531.2L448.7,1531.9Q514.0,1261.5 615.2,996.4Z" fill="#e3201c" stroke="#e3201c"/><path d="M615.2,996.4Q514.0,1261.5 467.2,1534.4L471.1,1534.8Q514.0,1261.5 620.4,997.7Z" fill="#e3201c" stroke="#e3201c"/><path d="M620.4,997.7Q514.0,1261.5 490.5,1536.3L496.4,1536.6Q514.0,1261.5 625.5,999.0Z" fill="#e3201c" stroke="#e3201c"/><path d="M625.5,999.0Q514.0,1261.5 506.2,986.1L498.4,986.4Q514.0,1261.5 630.5,1000.4Z" fill="#e8501c" stroke="#e8501c"/><path d="M630.5,1000.4Q514.0,1261.5 440.8,992.4L437.5,993.0Q514.0,1261.5 635.5,1001.9Z" fill="#e8501c" stroke="#e8501c"/><path d="M635.5,1001.9Q514.0,1261.5 391.5,1004.1L384.2,1006.4Q514.0,1261.5 640.4,1003.4Z" fill="#e8501c" stroke="#e8501c"/><path d="M640.4,1003.4Q514.0,1261.5 352.8,1018.2L349.9,1019.5Q514.0,1261.5 645.4,1005.0Z" fill="#e8501c" stroke="#e8501c"/><path d="M645.4,1005.0Q514.0,1261.5 277.9,1061.3L276.5,1062.4Q514.0,1261.5 650.2,1006.6Z" fill="#e8501c" stroke="#e8501c"/><path d="M650.2,1006.6Q514.0,1261.5 245.4,1089.5L243.6,1091.4Q514.0,1261.5 655.1,1008.3Z" fill="#e8501c" stroke="#e8501c"/><path d="M655.1,1008.3Q514.0,1261.5 197.9,1153.1L197.2,1154.4Q514.0,1261.5 659.9,1010.1Z" fill="#e8501c" stroke="#e8501c"/><path d="M659.9,1010.1Q514.0,1261.5 176.4,1209.2L175.6,1212.9Q514.0,1261.5 664.7,1011.9Z" fill="#e8501c" stroke="#e8501c"/><path d="M664.7,1011.9Q514.0,1261.5 170.6,1247.4L170.4,1252.1Q514.0,1261.5 669.4,1013.8Z" fill="#e8501c" stroke="#e8501c"/><path d="M669.4,1013.8Q514.0,1261.5 192.0,1358.2L194.1,1362.5Q514.0,1261.5 674.1,1015.7Z" fill="#e8501c" stroke="#e8501c"/><path d="M674.1,1015.7Q514.0,1261.5 201.8,1377.0L205.2,1382.6Q514.0,1261.5 678.8,1017.7Z" fill="#e8501c" stroke="#e8501c"/><path d="M678.8,1017.7Q514.0,1261.5 210.9,1391.5L213.2,1394.8Q514.0,1261.5 683.5,1019.8Z" fill="#e8501c" stroke="#e8501c"/><path d="M683.5,1019.8Q514.0,1261.5 221.8,1406.6L223.3,1408.6Q514.0,1261.5 688.0,1021.9Z" fill="#e8501c" stroke="#e8501c"/><path d="M688.0,1021.9Q514.0,1261.5 235.8,1423.4L238.6,1426.4Q514.0,1261.5 692.6,1024.0Z" fill="#e8501c" stroke="#e8501c"/><path d="M692.6,1024.0Q514.0,1261.5 280.9,1464.0L282.5,1465.1Q514.0,1261.5 697.1,1026.2Z" fill="#e8501c" stroke="#e8501c"/><path d="M697.1,1026.2Q514.0,1261.5 357.9,1506.9L360.0,1507.8Q514.0,1261.5 701.6,1028.5Z" fill="#e8501c" stroke="#e8501c"/><path d="M701.6,1028.5Q514.0,1261.5 379.2,1514.9L381.3,1515.6Q514.0,1261.5 706.0,1030.8Z" fill="#e8501c" stroke="#e8501c"/><path d="M706.0,1030.8Q514.0,1261.5 400.6,1521.5L402.3,1522.0Q514.0,1261.5 710.4,1033.2Z" fill="#e8501c" stroke="#e8501c"/><path d="M710.4,1033.2Q514.0,1261.5 448.7,1531.9L453.3,1532.6Q514.0,1261.5 714.7,1035.6Z" fill="#e8501c" stroke="#e8501c"/><path d="M714.7,1035.6Q514.0,1261.5 471.1,1534.8L474.9,1535.1Q514.0,1261.5 719.0,1038.1Z" fill="#e8501c" stroke="#e8501c"/><path d="M719.0,1038.1Q514.0,1261.5 496.4,1536.6L502.3,1536.8Q514.0,1261.5 723.3,1040.7Z" fill="#e8501c" stroke="#e8501c"/><path d="M723.3,1040.7Q514.0,1261.5 498.4,986.4L490.5,986.7Q514.0,1261.5 727.6,1043.4Z" fill="#f08c1e" stroke="#f08c1e"/><path d="M727.6,1043.4Q514.0,1261.5 437.5,993.0L434.2,993.6Q514.0,1261.5 732.0,1046.2Z" fill="#f08c1e" stroke="#f08c1e"/><path d="M732.0,1046.2Q514.0,1261.5 384.2,1006.4L377.0,1008.9Q514.0,1261.5 736.3,1049.0Z" fill="#f08c1e" stroke="#f08c1e"/><path d="M736.3,1049.0Q514.0,1261.5 349.9,1019.5L347.0,1020.8Q514.0,1261.5 740.5,1051.9Z" fill="#f08c1e" stroke="#f08c1e"/><path d="M740.5,1051.9Q514.0,1261.5 276.5,1062.4L275.1,1063.4Q514.0,1261.5 744.7,1054.8Z" fill="#f08c1e" stroke="#f08c1e"/><path d="M744.7,1054.8Q514.0,1261.5 243.6,1091.4L241.8,1093.2Q514.0,1261.5 748.8,1057.8Z" fill="#f08c1e" stroke="#f08c1e"/><path d="M748.8,1057.8Q514.0,1261.5 197.2,1154.4L196.5,1155.8Q514.0,1261.5 752.8,1060.8Z" fill="#f08c1e" stroke="#f08c1e"/><path d="M752.8,1060.8Q514.0,1261.5 175.6,1212.9L174.8,1216.6Q514.0,1261.5 756.8,1063.9Z" fill="#f08c1e" stroke="#f08c1e"/><path d="M756.8,1063.9Q514.0,1261.5 170.4,1252.1L170.2,1256.8Q514.0,1261.5 760.7,1067.1Z" fill="#f08c1e" stroke="#f08c1e"/><path d="M760.7,1067.1Q514.0,1261.5 194.1,1362.5L196.3,1366.9Q514.0,1261.5 764.6,1070.3Z" fill="#f08c1e" stroke="#f08c1e"/><path d="M764.6,1070.3Q514.0,1261.5 205.2,1382.6L208.7,1388.2Q514.0,1261.5 768.4,1073.5Z" fill="#f08c1e" stroke="#f08c1e"/><path d="M768.4,1073.5Q514.0,1261.5 213.2,1394.8L215.5,1398.1Q514.0,1261.5 772.1,1076.8Z" fill="#f08c1e" stroke="#f08c1e"/><path d="M772.1,1076.8Q514.0,1261.5 223.3,1408.6L224.9,1410.6Q514.0,1261.5 775.8,1080.1Z" fill="#f08c1e" stroke="#f08c1e"/><path d="M775.8,1080.1Q514.0,1261.5 238.6,1426.4L241.5,1429.4Q514.0,1261.5 779.4,1083.5Z" fill="#f08c1e" stroke="#f08c1e"/><path d="M779.4,1083.5Q514.0,1261.5 282.5,1465.1L284.0,1466.3Q514.0,1261.5 782.9,1087.0Z" fill="#f08c1e" stroke="#f08c1e"/><path d="M782.9,1087.0Q514.0,1261.5 360.0,1507.8L362.1,1508.6Q514.0,1261.5 786.4,1090.4Z" fill="#f08c1e" stroke="#f08c1e"/><path d="M786.4,1090.4Q514.0,1261.5 381.3,1515.6L383.5,1516.3Q514.0,1261.5 789.8,1094.0Z" fill="#f08c1e" stroke="#f08c1e"/><path d="M789.8,1094.0Q514.0,1261.5 402.3,1522.0L404.0,1522.4Q514.0,1261.5 793.1,1097.5Z" fill="#f08c1e" stroke="#f08c1e"/><path d="M793.1,1097.5Q514.0,1261.5 453.3,1532.6L457.9,1533.2Q514.0,1261.5 796.3,1101.1Z" fill="#f08c1e" stroke="#f08c1e"/><path d="M796.3,1101.1Q514.0,1261.5 474.9,1535.1L478.8,1535.5Q514.0,1261.5 799.5,1104.8Z" fill="#f08c1e" stroke="#f08c1e"/><path d="M799.5,1104.8Q514.0,1261.5 502.3,1536.8L508.1,1536.9Q514.0,1261.5 802.6,1108.5Z" fill="#f08c1e" stroke="#f08c1e"/><path d="M802.6,1108.5Q514.0,1261.5 347.0,1020.8L344.0,1022.1Q514.0,1261.5 805.8,1112.4Z" fill="#e8cc24" stroke="#e8cc24"/><path d="M805.8,1112.4Q514.0,1261.5 275.1,1063.4L273.7,1064.5Q514.0,1261.5 808.9,1116.4Z" fill="#e8cc24" stroke="#e8cc24"/><path d="M808.9,1116.4Q514.0,1261.5 196.5,1155.8L195.8,1157.1Q514.0,1261.5 812.0,1120.4Z" fill="#e8cc24" stroke="#e8cc24"/><path d="M812.0,1120.4Q514.0,1261.5 224.9,1410.6L226.5,1412.6Q514.0,1261.5 814.9,1124.5Z" fill="#e8cc24" stroke="#e8cc24"/><path d="M814.9,1124.5Q514.0,1261.5 241.5,1429.4L244.4,1432.4Q514.0,1261.5 817.7,1128.6Z" fill="#e8cc24" stroke="#e8cc24"/><path d="M817.7,1128.6Q514.0,1261.5 284.0,1466.3L285.6,1467.4Q514.0,1261.5 820.5,1132.7Z" fill="#e8cc24" stroke="#e8cc24"/><path d="M820.5,1132.7Q514.0,1261.5 508.1,1536.9L514.0,1536.9Q514.0,1261.5 823.2,1136.9Z" fill="#e8cc24" stroke="#e8cc24"/><path d="M823.2,1136.9Q514.0,1261.5 434.2,993.6L431.0,994.2Q514.0,1261.5 825.6,1140.8Z" fill="#bfd030" stroke="#bfd030"/><path d="M825.6,1140.8Q514.0,1261.5 344.0,1022.1L341.1,1023.4Q514.0,1261.5 827.8,1144.6Z" fill="#bfd030" stroke="#bfd030"/><path d="M827.8,1144.6Q514.0,1261.5 273.7,1064.5L272.3,1065.6Q514.0,1261.5 830.0,1148.5Z" fill="#bfd030" stroke="#bfd030"/><path d="M830.0,1148.5Q514.0,1261.5 208.7,1134.8L205.2,1140.4Q514.0,1261.5 832.2,1152.4Z" fill="#bfd030" stroke="#bfd030"/><path d="M832.2,1152.4Q514.0,1261.5 195.8,1157.1L195.1,1158.4Q514.0,1261.5 834.2,1156.3Z" fill="#bfd030" stroke="#bfd030"/><path d="M834.2,1156.3Q514.0,1261.5 226.5,1412.6L228.1,1414.5Q514.0,1261.5 836.2,1160.3Z" fill="#bfd030" stroke="#bfd030"/><path d="M836.2,1160.3Q514.0,1261.5 244.4,1432.4L247.3,1435.3Q514.0,1261.5 838.1,1164.3Z" fill="#bfd030" stroke="#bfd030"/><path d="M838.1,1164.3Q514.0,1261.5 285.6,1467.4L287.2,1468.5Q514.0,1261.5 840.0,1168.3Z" fill="#bfd030" stroke="#bfd030"/><path d="M840.0,1168.3Q514.0,1261.5 404.0,1522.4L405.7,1522.9Q514.0,1261.5 841.7,1172.3Z" fill="#bfd030" stroke="#bfd030"/><path d="M841.7,1172.3Q514.0,1261.5 421.2,1526.7L428.8,1528.3Q514.0,1261.5 843.4,1176.4Z" fill="#bfd030" stroke="#bfd030"/><path d="M843.4,1176.4Q514.0,1261.5 478.8,1535.5L482.7,1535.8Q514.0,1261.5 845.0,1180.4Z" fill="#bfd030" stroke="#bfd030"/><path d="M845.0,1180.4Q514.0,1261.5 431.0,994.2L427.7,994.9Q514.0,1261.5 846.6,1184.8Z" fill="#92c42a" stroke="#92c42a"/><path d="M846.6,1184.8Q514.0,1261.5 341.1,1023.4L338.2,1024.8Q514.0,1261.5 848.2,1189.3Z" fill="#92c42a" stroke="#92c42a"/><path d="M848.2,1189.3Q514.0,1261.5 272.3,1065.6L270.9,1066.7Q514.0,1261.5 849.6,1193.7Z" fill="#92c42a" stroke="#92c42a"/><path d="M849.6,1193.7Q514.0,1261.5 205.2,1140.4L201.8,1146.0Q514.0,1261.5 851.0,1198.2Z" fill="#92c42a" stroke="#92c42a"/><path d="M851.0,1198.2Q514.0,1261.5 195.1,1158.4L194.5,1159.8Q514.0,1261.5 852.2,1202.7Z" fill="#92c42a" stroke="#92c42a"/><path d="M852.2,1202.7Q514.0,1261.5 228.1,1414.5L229.8,1416.5Q514.0,1261.5 853.4,1207.2Z" fill="#92c42a" stroke="#92c42a"/><path d="M853.4,1207.2Q514.0,1261.5 287.2,1468.5L288.8,1469.7Q514.0,1261.5 854.5,1211.7Z" fill="#92c42a" stroke="#92c42a"/><path d="M854.5,1211.7Q514.0,1261.5 405.7,1522.9L407.4,1523.4Q514.0,1261.5 855.5,1216.2Z" fill="#92c42a" stroke="#92c42a"/><path d="M855.5,1216.2Q514.0,1261.5 428.8,1528.3L436.4,1529.8Q514.0,1261.5 856.3,1220.8Z" fill="#92c42a" stroke="#92c42a"/><path d="M856.3,1220.8Q514.0,1261.5 482.7,1535.8L486.6,1536.1Q514.0,1261.5 857.1,1225.3Z" fill="#92c42a" stroke="#92c42a"/><path d="M857.1,1225.3Q514.0,1261.5 467.2,988.6L455.6,990.1Q514.0,1261.5 857.8,1229.8Z" fill="#6cc02c" stroke="#6cc02c"/><path d="M857.8,1229.8Q514.0,1261.5 421.2,996.3L410.0,999.0Q514.0,1261.5 858.4,1234.2Z" fill="#6cc02c" stroke="#6cc02c"/><path d="M858.4,1234.2Q514.0,1261.5 377.0,1008.9L355.8,1017.0Q514.0,1261.5 858.9,1238.7Z" fill="#6cc02c" stroke="#6cc02c"/><path d="M858.9,1238.7Q514.0,1261.5 270.9,1066.7L269.5,1067.9Q514.0,1261.5 859.3,1243.1Z" fill="#6cc02c" stroke="#6cc02c"/><path d="M859.3,1243.1Q514.0,1261.5 241.8,1093.2L240.0,1095.1Q514.0,1261.5 859.7,1247.6Z" fill="#6cc02c" stroke="#6cc02c"/><path d="M859.7,1247.6Q514.0,1261.5 233.1,1102.7L220.2,1118.4Q514.0,1261.5 859.9,1252.1Z" fill="#6cc02c" stroke="#6cc02c"/><path d="M859.9,1252.1Q514.0,1261.5 194.5,1159.8L193.8,1161.1Q514.0,1261.5 860.0,1256.5Z" fill="#6cc02c" stroke="#6cc02c"/><path d="M860.0,1256.5Q514.0,1261.5 174.8,1216.6L174.0,1220.3Q514.0,1261.5 860.1,1261.0Z" fill="#6cc02c" stroke="#6cc02c"/><path d="M860.1,1261.0Q514.0,1261.5 177.4,1317.5L182.9,1335.8Q514.0,1261.5 860.1,1265.5Z" fill="#6cc02c" stroke="#6cc02c"/><path d="M860.1,1265.5Q514.0,1261.5 215.5,1398.1L217.8,1401.4Q514.0,1261.5 859.9,1270.0Z" fill="#6cc02c" stroke="#6cc02c"/><path d="M859.9,1270.0Q514.0,1261.5 229.8,1416.5L231.4,1418.4Q514.0,1261.5 859.7,1274.4Z" fill="#6cc02c" stroke="#6cc02c"/><path d="M859.7,1274.4Q514.0,1261.5 288.8,1469.7L290.5,1470.8Q514.0,1261.5 859.4,1278.9Z" fill="#6cc02c" stroke="#6cc02c"/><path d="M859.4,1278.9Q514.0,1261.5 490.5,986.7L482.7,987.2Q514.0,1261.5 859.0,1283.2Z" fill="#58aa2e" stroke="#58aa2e"/><path d="M859.0,1283.2Q514.0,1261.5 297.0,1047.9L293.4,1050.2Q514.0,1261.5 858.6,1287.4Z" fill="#58aa2e" stroke="#58aa2e"/><path d="M858.6,1287.4Q514.0,1261.5 269.5,1067.9L268.1,1069.0Q514.0,1261.5 858.1,1291.6Z" fill="#58aa2e" stroke="#58aa2e"/><path d="M858.1,1291.6Q514.0,1261.5 240.0,1095.1L238.3,1097.0Q514.0,1261.5 857.4,1295.9Z" fill="#58aa2e" stroke="#58aa2e"/><path d="M857.4,1295.9Q514.0,1261.5 193.8,1161.1L193.2,1162.5Q514.0,1261.5 856.7,1300.1Z" fill="#58aa2e" stroke="#58aa2e"/><path d="M856.7,1300.1Q514.0,1261.5 173.4,1299.0L173.9,1302.1Q514.0,1261.5 856.0,1304.3Z" fill="#58aa2e" stroke="#58aa2e"/><path d="M856.0,1304.3Q514.0,1261.5 290.5,1470.8L292.1,1471.9Q514.0,1261.5 855.1,1308.5Z" fill="#58aa2e" stroke="#58aa2e"/><path d="M855.1,1308.5Q514.0,1261.5 362.1,1508.6L364.2,1509.4Q514.0,1261.5 854.2,1312.7Z" fill="#58aa2e" stroke="#58aa2e"/><path d="M854.2,1312.7Q514.0,1261.5 383.5,1516.3L385.7,1517.0Q514.0,1261.5 853.1,1316.9Z" fill="#58aa2e" stroke="#58aa2e"/><path d="M853.1,1316.9Q514.0,1261.5 407.4,1523.4L409.1,1523.8Q514.0,1261.5 852.0,1321.0Z" fill="#58aa2e" stroke="#58aa2e"/><path d="M852.0,1321.0Q514.0,1261.5 482.7,987.2L474.9,987.9Q514.0,1261.5 850.7,1325.7Z" fill="#62b456" stroke="#62b456"/><path d="M850.7,1325.7Q514.0,1261.5 293.4,1050.2L289.8,1052.7Q514.0,1261.5 849.3,1330.4Z" fill="#62b456" stroke="#62b456"/><path d="M849.3,1330.4Q514.0,1261.5 268.1,1069.0L266.8,1070.1Q514.0,1261.5 847.7,1335.0Z" fill="#62b456" stroke="#62b456"/><path d="M847.7,1335.0Q514.0,1261.5 238.3,1097.0L236.5,1098.8Q514.0,1261.5 846.1,1339.6Z" fill="#62b456" stroke="#62b456"/><path d="M846.1,1339.6Q514.0,1261.5 193.2,1162.5L192.5,1163.8Q514.0,1261.5 844.4,1344.2Z" fill="#62b456" stroke="#62b456"/><path d="M844.4,1344.2Q514.0,1261.5 173.9,1302.1L174.5,1305.2Q514.0,1261.5 842.5,1348.7Z" fill="#62b456" stroke="#62b456"/><path d="M842.5,1348.7Q514.0,1261.5 292.1,1471.9L293.7,1473.0Q514.0,1261.5 840.6,1353.3Z" fill="#62b456" stroke="#62b456"/><path d="M840.6,1353.3Q514.0,1261.5 364.2,1509.4L366.3,1510.2Q514.0,1261.5 838.6,1357.8Z" fill="#62b456" stroke="#62b456"/><path d="M838.6,1357.8Q514.0,1261.5 385.7,1517.0L387.9,1517.7Q514.0,1261.5 836.4,1362.3Z" fill="#62b456" stroke="#62b456"/><path d="M836.4,1362.3Q514.0,1261.5 409.1,1523.8L410.8,1524.2Q514.0,1261.5 834.2,1366.7Z" fill="#62b456" stroke="#62b456"/><path d="M834.2,1366.7Q514.0,1261.5 474.9,987.9L467.2,988.6Q514.0,1261.5 832.2,1370.6Z" fill="#62bc9c" stroke="#62bc9c"/><path d="M832.2,1370.6Q514.0,1261.5 289.8,1052.7L286.3,1055.2Q514.0,1261.5 830.0,1374.5Z" fill="#62bc9c" stroke="#62bc9c"/><path d="M830.0,1374.5Q514.0,1261.5 266.8,1070.1L265.4,1071.2Q514.0,1261.5 827.8,1378.4Z" fill="#62bc9c" stroke="#62bc9c"/><path d="M827.8,1378.4Q514.0,1261.5 236.5,1098.8L234.8,1100.8Q514.0,1261.5 825.6,1382.3Z" fill="#62bc9c" stroke="#62bc9c"/><path d="M825.6,1382.3Q514.0,1261.5 192.5,1163.8L191.9,1165.2Q514.0,1261.5 823.2,1386.1Z" fill="#62bc9c" stroke="#62bc9c"/><path d="M823.2,1386.1Q514.0,1261.5 174.5,1305.2L175.2,1308.3Q514.0,1261.5 820.8,1389.9Z" fill="#62bc9c" stroke="#62bc9c"/><path d="M820.8,1389.9Q514.0,1261.5 293.7,1473.0L295.4,1474.1Q514.0,1261.5 818.3,1393.6Z" fill="#62bc9c" stroke="#62bc9c"/><path d="M818.3,1393.6Q514.0,1261.5 366.3,1510.2L368.5,1511.0Q514.0,1261.5 815.7,1397.3Z" fill="#62bc9c" stroke="#62bc9c"/><path d="M815.7,1397.3Q514.0,1261.5 387.9,1517.7L390.1,1518.4Q514.0,1261.5 813.1,1401.0Z" fill="#62bc9c" stroke="#62bc9c"/><path d="M813.1,1401.0Q514.0,1261.5 410.8,1524.2L412.6,1524.7Q514.0,1261.5 810.4,1404.7Z" fill="#62bc9c" stroke="#62bc9c"/><path d="M810.4,1404.7Q514.0,1261.5 175.2,1308.3L175.9,1311.4Q514.0,1261.5 807.1,1408.9Z" fill="#6cc6de" stroke="#6cc6de"/><path d="M807.1,1408.9Q514.0,1261.5 368.5,1511.0L370.6,1511.8Q514.0,1261.5 803.8,1413.1Z" fill="#6cc6de" stroke="#6cc6de"/><path d="M803.8,1413.1Q514.0,1261.5 390.1,1518.4L392.2,1519.1Q514.0,1261.5 800.3,1417.2Z" fill="#6cc6de" stroke="#6cc6de"/><path d="M800.3,1417.2Q514.0,1261.5 412.6,1524.7L414.3,1525.1Q514.0,1261.5 796.8,1421.3Z" fill="#6cc6de" stroke="#6cc6de"/><path d="M796.8,1421.3Q514.0,1261.5 410.0,999.0L398.9,1002.0Q514.0,1261.5 793.0,1425.6Z" fill="#2a9fe8" stroke="#2a9fe8"/><path d="M793.0,1425.6Q514.0,1261.5 286.3,1055.2L282.8,1057.7Q514.0,1261.5 789.1,1429.7Z" fill="#2a9fe8" stroke="#2a9fe8"/><path d="M789.1,1429.7Q514.0,1261.5 182.9,1187.2L181.4,1191.7Q514.0,1261.5 785.1,1433.9Z" fill="#2a9fe8" stroke="#2a9fe8"/><path d="M785.1,1433.9Q514.0,1261.5 174.0,1220.3L173.4,1224.0Q514.0,1261.5 781.0,1437.9Z" fill="#2a9fe8" stroke="#2a9fe8"/><path d="M781.0,1437.9Q514.0,1261.5 182.9,1335.8L190.0,1353.7Q514.0,1261.5 776.8,1441.9Z" fill="#2a9fe8" stroke="#2a9fe8"/><path d="M776.8,1441.9Q514.0,1261.5 217.8,1401.4L220.2,1404.6Q514.0,1261.5 772.5,1445.9Z" fill="#2a9fe8" stroke="#2a9fe8"/><path d="M772.5,1445.9Q514.0,1261.5 297.0,1475.1L315.7,1486.5Q514.0,1261.5 768.1,1449.7Z" fill="#2a9fe8" stroke="#2a9fe8"/><path d="M768.1,1449.7Q514.0,1261.5 370.6,1511.8L372.7,1512.6Q514.0,1261.5 763.6,1453.5Z" fill="#2a9fe8" stroke="#2a9fe8"/><path d="M763.6,1453.5Q514.0,1261.5 414.3,1525.1L416.0,1525.5Q514.0,1261.5 759.1,1457.3Z" fill="#2a9fe8" stroke="#2a9fe8"/><path d="M759.1,1457.3Q514.0,1261.5 457.9,1533.2L462.5,1533.8Q514.0,1261.5 754.4,1460.9Z" fill="#2a9fe8" stroke="#2a9fe8"/><path d="M754.4,1460.9Q514.0,1261.5 282.8,1057.7L279.3,1060.2Q514.0,1261.5 750.2,1464.2Z" fill="#1f6ac0" stroke="#1f6ac0"/><path d="M750.2,1464.2Q514.0,1261.5 175.9,1311.4L176.6,1314.5Q514.0,1261.5 745.8,1467.4Z" fill="#1f6ac0" stroke="#1f6ac0"/><path d="M745.8,1467.4Q514.0,1261.5 372.7,1512.6L374.9,1513.4Q514.0,1261.5 741.4,1470.5Z" fill="#1f6ac0" stroke="#1f6ac0"/><path d="M741.4,1470.5Q514.0,1261.5 392.2,1519.1L394.4,1519.7Q514.0,1261.5 736.9,1473.6Z" fill="#1f6ac0" stroke="#1f6ac0"/><path d="M736.9,1473.6Q514.0,1261.5 427.7,994.9L424.5,995.6Q514.0,1261.5 732.1,1476.8Z" fill="#2448a8" stroke="#2448a8"/><path d="M732.1,1476.8Q514.0,1261.5 191.9,1165.2L191.3,1166.5Q514.0,1261.5 727.2,1479.9Z" fill="#2448a8" stroke="#2448a8"/><path d="M727.2,1479.9Q514.0,1261.5 190.0,1169.3L182.9,1187.2Q514.0,1261.5 722.2,1483.0Z" fill="#2448a8" stroke="#2448a8"/><path d="M722.2,1483.0Q514.0,1261.5 170.2,1256.8L170.2,1261.5Q514.0,1261.5 717.1,1486.0Z" fill="#2448a8" stroke="#2448a8"/><path d="M717.1,1486.0Q514.0,1261.5 394.4,1519.7L396.6,1520.4Q514.0,1261.5 712.0,1488.9Z" fill="#2448a8" stroke="#2448a8"/><path d="M712.0,1488.9Q514.0,1261.5 220.2,1118.4L208.7,1134.8Q514.0,1261.5 706.0,1492.2Z" fill="#2a54ba" stroke="#2a54ba"/><path d="M706.0,1492.2Q514.0,1261.5 181.4,1191.7L179.9,1196.3Q514.0,1261.5 700.0,1495.3Z" fill="#2a54ba" stroke="#2a54ba"/><path d="M700.0,1495.3Q514.0,1261.5 247.3,1435.3L254.9,1442.5Q514.0,1261.5 693.8,1498.4Z" fill="#2a54ba" stroke="#2a54ba"/><path d="M693.8,1498.4Q514.0,1261.5 335.4,1496.8L355.8,1506.0Q514.0,1261.5 687.6,1501.4Z" fill="#2a54ba" stroke="#2a54ba"/><path d="M687.6,1501.4Q514.0,1261.5 191.3,1166.5L190.6,1167.9Q514.0,1261.5 682.9,1503.5Z" fill="#4a3a98" stroke="#4a3a98"/><path d="M682.9,1503.5Q514.0,1261.5 196.3,1366.9L198.6,1371.2Q514.0,1261.5 678.1,1505.6Z" fill="#4a3a98" stroke="#4a3a98"/><path d="M678.1,1505.6Q514.0,1261.5 486.6,1536.1L490.5,1536.3Q514.0,1261.5 673.3,1507.6Z" fill="#4a3a98" stroke="#4a3a98"/><path d="M673.3,1507.6Q514.0,1261.5 234.8,1100.8L233.1,1102.7Q514.0,1261.5 668.6,1509.6Z" fill="#8a3aa8" stroke="#8a3aa8"/><path d="M668.6,1509.6Q514.0,1261.5 179.9,1196.3L178.6,1200.9Q514.0,1261.5 663.9,1511.4Z" fill="#8a3aa8" stroke="#8a3aa8"/><path d="M663.9,1511.4Q514.0,1261.5 176.6,1314.5L177.4,1317.5Q514.0,1261.5 659.1,1513.2Z" fill="#8a3aa8" stroke="#8a3aa8"/><path d="M659.1,1513.2Q514.0,1261.5 315.7,1486.5L335.4,1496.8Q514.0,1261.5 654.3,1514.9Z" fill="#8a3aa8" stroke="#8a3aa8"/><path d="M654.3,1514.9Q514.0,1261.5 374.9,1513.4L377.0,1514.1Q514.0,1261.5 649.5,1516.6Z" fill="#8a3aa8" stroke="#8a3aa8"/><path d="M649.5,1516.6Q514.0,1261.5 396.6,1520.4L398.9,1521.0Q514.0,1261.5 644.6,1518.2Z" fill="#8a3aa8" stroke="#8a3aa8"/><path d="M644.6,1518.2Q514.0,1261.5 416.0,1525.5L417.8,1525.9Q514.0,1261.5 639.7,1519.8Z" fill="#8a3aa8" stroke="#8a3aa8"/><path d="M639.7,1519.8Q514.0,1261.5 338.2,1024.8L335.4,1026.2Q514.0,1261.5 634.4,1521.4Z" fill="#b840a0" stroke="#b840a0"/><path d="M634.4,1521.4Q514.0,1261.5 265.4,1071.2L264.1,1072.4Q514.0,1261.5 629.0,1523.0Z" fill="#b840a0" stroke="#b840a0"/><path d="M629.0,1523.0Q514.0,1261.5 201.8,1146.0L198.6,1151.8Q514.0,1261.5 623.7,1524.5Z" fill="#b840a0" stroke="#b840a0"/><path d="M623.7,1524.5Q514.0,1261.5 231.4,1418.4L233.1,1420.3Q514.0,1261.5 618.2,1525.9Z" fill="#b840a0" stroke="#b840a0"/><path d="M618.2,1525.9Q514.0,1261.5 295.4,1474.1L297.0,1475.1Q514.0,1261.5 612.8,1527.2Z" fill="#b840a0" stroke="#b840a0"/><path d="M612.8,1527.2Q514.0,1261.5 417.8,1525.9L419.5,1526.3Q514.0,1261.5 607.3,1528.5Z" fill="#b840a0" stroke="#b840a0"/><path d="M607.3,1528.5Q514.0,1261.5 436.4,1529.8L444.0,1531.2Q514.0,1261.5 601.8,1529.7Z" fill="#b840a0" stroke="#b840a0"/><path d="M601.8,1529.7Q514.0,1261.5 455.6,990.1L444.0,991.8Q514.0,1261.5 596.2,1530.8Z" fill="#f0209a" stroke="#f0209a"/><path d="M596.2,1530.8Q514.0,1261.5 424.5,995.6L421.2,996.3Q514.0,1261.5 590.6,1531.9Z" fill="#f0209a" stroke="#f0209a"/><path d="M590.6,1531.9Q514.0,1261.5 315.7,1036.5L297.0,1047.9Q514.0,1261.5 584.9,1532.9Z" fill="#f0209a" stroke="#f0209a"/><path d="M584.9,1532.9Q514.0,1261.5 264.1,1072.4L262.7,1073.5Q514.0,1261.5 579.3,1533.8Z" fill="#f0209a" stroke="#f0209a"/><path d="M579.3,1533.8Q514.0,1261.5 190.6,1167.9L190.0,1169.3Q514.0,1261.5 573.6,1534.6Z" fill="#f0209a" stroke="#f0209a"/><path d="M573.6,1534.6Q514.0,1261.5 262.7,1449.5L279.3,1462.8Q514.0,1261.5 567.9,1535.4Z" fill="#f0209a" stroke="#f0209a"/><path d="M567.9,1535.4Q514.0,1261.5 419.5,1526.3L421.2,1526.7Q514.0,1261.5 562.2,1536.0Z" fill="#f0209a" stroke="#f0209a"/><path d="M562.2,1536.0Q514.0,1261.5 335.4,1026.2L315.7,1036.5Q514.0,1261.5 556.2,1536.7Z" fill="#ee1f4f" stroke="#ee1f4f"/><path d="M556.2,1536.7Q514.0,1261.5 262.7,1073.5L247.3,1087.7Q514.0,1261.5 550.2,1537.2Z" fill="#ee1f4f" stroke="#ee1f4f"/><path d="M550.2,1537.2Q514.0,1261.5 178.6,1200.9L177.4,1205.5Q514.0,1261.5 544.2,1537.7Z" fill="#ee1f4f" stroke="#ee1f4f"/><path d="M544.2,1537.7Q514.0,1261.5 173.4,1224.0L171.0,1242.7Q514.0,1261.5 538.1,1538.1Z" fill="#ee1f4f" stroke="#ee1f4f"/><path d="M538.1,1538.1Q514.0,1261.5 170.2,1261.5L171.0,1280.3Q514.0,1261.5 532.1,1538.4Z" fill="#ee1f4f" stroke="#ee1f4f"/><path d="M532.1,1538.4Q514.0,1261.5 171.0,1280.3L173.4,1299.0Q514.0,1261.5 526.1,1538.6Z" fill="#ee1f4f" stroke="#ee1f4f"/><path d="M526.1,1538.6Q514.0,1261.5 254.9,1442.5L262.7,1449.5Q514.0,1261.5 520.0,1538.7Z" fill="#ee1f4f" stroke="#ee1f4f"/><path d="M520.0,1538.7Q514.0,1261.5 462.5,1533.8L467.2,1534.4Q514.0,1261.5 514.0,1538.7Z" fill="#ee1f4f" stroke="#ee1f4f"/></g>
<g stroke="#0a0a0a" stroke-opacity="0.8" stroke-width="1.1" stroke-linejoin="round"><path d="M514.0,984.3Q514.0,1261.5 514.0,986.1L506.2,986.1Q514.0,1261.5 519.4,984.3Z" fill="#e3201c"/><path d="M519.4,984.3Q514.0,1261.5 444.0,991.8L440.8,992.4Q514.0,1261.5 524.8,984.4Z" fill="#e3201c"/><path d="M524.8,984.4Q514.0,1261.5 398.9,1002.0L391.5,1004.1Q514.0,1261.5 530.2,984.6Z" fill="#e3201c"/><path d="M530.2,984.6Q514.0,1261.5 355.8,1017.0L352.8,1018.2Q514.0,1261.5 535.6,984.8Z" fill="#e3201c"/><path d="M535.6,984.8Q514.0,1261.5 279.3,1060.2L277.9,1061.3Q514.0,1261.5 541.0,985.1Z" fill="#e3201c"/><path d="M541.0,985.1Q514.0,1261.5 247.3,1087.7L245.4,1089.5Q514.0,1261.5 546.4,985.5Z" fill="#e3201c"/><path d="M546.4,985.5Q514.0,1261.5 198.6,1151.8L197.9,1153.1Q514.0,1261.5 551.8,985.9Z" fill="#e3201c"/><path d="M551.8,985.9Q514.0,1261.5 177.4,1205.5L176.4,1209.2Q514.0,1261.5 557.2,986.4Z" fill="#e3201c"/><path d="M557.2,986.4Q514.0,1261.5 171.0,1242.7L170.6,1247.4Q514.0,1261.5 562.5,987.0Z" fill="#e3201c"/><path d="M562.5,987.0Q514.0,1261.5 190.0,1353.7L192.0,1358.2Q514.0,1261.5 567.9,987.6Z" fill="#e3201c"/><path d="M567.9,987.6Q514.0,1261.5 198.6,1371.2L201.8,1377.0Q514.0,1261.5 573.2,988.3Z" fill="#e3201c"/><path d="M573.2,988.3Q514.0,1261.5 208.7,1388.2L210.9,1391.5Q514.0,1261.5 578.5,989.1Z" fill="#e3201c"/><path d="M578.5,989.1Q514.0,1261.5 220.2,1404.6L221.8,1406.6Q514.0,1261.5 583.8,990.0Z" fill="#e3201c"/><path d="M583.8,990.0Q514.0,1261.5 233.1,1420.3L235.8,1423.4Q514.0,1261.5 589.1,990.9Z" fill="#e3201c"/><path d="M589.1,990.9Q514.0,1261.5 279.3,1462.8L280.9,1464.0Q514.0,1261.5 594.4,991.8Z" fill="#e3201c"/><path d="M594.4,991.8Q514.0,1261.5 355.8,1506.0L357.9,1506.9Q514.0,1261.5 599.6,992.9Z" fill="#e3201c"/><path d="M599.6,992.9Q514.0,1261.5 377.0,1514.1L379.2,1514.9Q514.0,1261.5 604.9,994.0Z" fill="#e3201c"/><path d="M604.9,994.0Q514.0,1261.5 398.9,1521.0L400.6,1521.5Q514.0,1261.5 610.1,995.1Z" fill="#e3201c"/><path d="M610.1,995.1Q514.0,1261.5 444.0,1531.2L448.7,1531.9Q514.0,1261.5 615.2,996.4Z" fill="#e3201c"/><path d="M615.2,996.4Q514.0,1261.5 467.2,1534.4L471.1,1534.8Q514.0,1261.5 620.4,997.7Z" fill="#e3201c"/><path d="M620.4,997.7Q514.0,1261.5 490.5,1536.3L496.4,1536.6Q514.0,1261.5 625.5,999.0Z" fill="#e3201c"/><path d="M625.5,999.0Q514.0,1261.5 506.2,986.1L498.4,986.4Q514.0,1261.5 630.5,1000.4Z" fill="#e8501c"/><path d="M630.5,1000.4Q514.0,1261.5 440.8,992.4L437.5,993.0Q514.0,1261.5 635.5,1001.9Z" fill="#e8501c"/><path d="M635.5,1001.9Q514.0,1261.5 391.5,1004.1L384.2,1006.4Q514.0,1261.5 640.4,1003.4Z" fill="#e8501c"/><path d="M640.4,1003.4Q514.0,1261.5 352.8,1018.2L349.9,1019.5Q514.0,1261.5 645.4,1005.0Z" fill="#e8501c"/><path d="M645.4,1005.0Q514.0,1261.5 277.9,1061.3L276.5,1062.4Q514.0,1261.5 650.2,1006.6Z" fill="#e8501c"/><path d="M650.2,1006.6Q514.0,1261.5 245.4,1089.5L243.6,1091.4Q514.0,1261.5 655.1,1008.3Z" fill="#e8501c"/><path d="M655.1,1008.3Q514.0,1261.5 197.9,1153.1L197.2,1154.4Q514.0,1261.5 659.9,1010.1Z" fill="#e8501c"/><path d="M659.9,1010.1Q514.0,1261.5 176.4,1209.2L175.6,1212.9Q514.0,1261.5 664.7,1011.9Z" fill="#e8501c"/><path d="M664.7,1011.9Q514.0,1261.5 170.6,1247.4L170.4,1252.1Q514.0,1261.5 669.4,1013.8Z" fill="#e8501c"/><path d="M669.4,1013.8Q514.0,1261.5 192.0,1358.2L194.1,1362.5Q514.0,1261.5 674.1,1015.7Z" fill="#e8501c"/><path d="M674.1,1015.7Q514.0,1261.5 201.8,1377.0L205.2,1382.6Q514.0,1261.5 678.8,1017.7Z" fill="#e8501c"/><path d="M678.8,1017.7Q514.0,1261.5 210.9,1391.5L213.2,1394.8Q514.0,1261.5 683.5,1019.8Z" fill="#e8501c"/><path d="M683.5,1019.8Q514.0,1261.5 221.8,1406.6L223.3,1408.6Q514.0,1261.5 688.0,1021.9Z" fill="#e8501c"/><path d="M688.0,1021.9Q514.0,1261.5 235.8,1423.4L238.6,1426.4Q514.0,1261.5 692.6,1024.0Z" fill="#e8501c"/><path d="M692.6,1024.0Q514.0,1261.5 280.9,1464.0L282.5,1465.1Q514.0,1261.5 697.1,1026.2Z" fill="#e8501c"/><path d="M697.1,1026.2Q514.0,1261.5 357.9,1506.9L360.0,1507.8Q514.0,1261.5 701.6,1028.5Z" fill="#e8501c"/><path d="M701.6,1028.5Q514.0,1261.5 379.2,1514.9L381.3,1515.6Q514.0,1261.5 706.0,1030.8Z" fill="#e8501c"/><path d="M706.0,1030.8Q514.0,1261.5 400.6,1521.5L402.3,1522.0Q514.0,1261.5 710.4,1033.2Z" fill="#e8501c"/><path d="M710.4,1033.2Q514.0,1261.5 448.7,1531.9L453.3,1532.6Q514.0,1261.5 714.7,1035.6Z" fill="#e8501c"/><path d="M714.7,1035.6Q514.0,1261.5 471.1,1534.8L474.9,1535.1Q514.0,1261.5 719.0,1038.1Z" fill="#e8501c"/><path d="M719.0,1038.1Q514.0,1261.5 496.4,1536.6L502.3,1536.8Q514.0,1261.5 723.3,1040.7Z" fill="#e8501c"/><path d="M723.3,1040.7Q514.0,1261.5 498.4,986.4L490.5,986.7Q514.0,1261.5 727.6,1043.4Z" fill="#f08c1e"/><path d="M727.6,1043.4Q514.0,1261.5 437.5,993.0L434.2,993.6Q514.0,1261.5 732.0,1046.2Z" fill="#f08c1e"/><path d="M732.0,1046.2Q514.0,1261.5 384.2,1006.4L377.0,1008.9Q514.0,1261.5 736.3,1049.0Z" fill="#f08c1e"/><path d="M736.3,1049.0Q514.0,1261.5 349.9,1019.5L347.0,1020.8Q514.0,1261.5 740.5,1051.9Z" fill="#f08c1e"/><path d="M740.5,1051.9Q514.0,1261.5 276.5,1062.4L275.1,1063.4Q514.0,1261.5 744.7,1054.8Z" fill="#f08c1e"/><path d="M744.7,1054.8Q514.0,1261.5 243.6,1091.4L241.8,1093.2Q514.0,1261.5 748.8,1057.8Z" fill="#f08c1e"/><path d="M748.8,1057.8Q514.0,1261.5 197.2,1154.4L196.5,1155.8Q514.0,1261.5 752.8,1060.8Z" fill="#f08c1e"/><path d="M752.8,1060.8Q514.0,1261.5 175.6,1212.9L174.8,1216.6Q514.0,1261.5 756.8,1063.9Z" fill="#f08c1e"/><path d="M756.8,1063.9Q514.0,1261.5 170.4,1252.1L170.2,1256.8Q514.0,1261.5 760.7,1067.1Z" fill="#f08c1e"/><path d="M760.7,1067.1Q514.0,1261.5 194.1,1362.5L196.3,1366.9Q514.0,1261.5 764.6,1070.3Z" fill="#f08c1e"/><path d="M764.6,1070.3Q514.0,1261.5 205.2,1382.6L208.7,1388.2Q514.0,1261.5 768.4,1073.5Z" fill="#f08c1e"/><path d="M768.4,1073.5Q514.0,1261.5 213.2,1394.8L215.5,1398.1Q514.0,1261.5 772.1,1076.8Z" fill="#f08c1e"/><path d="M772.1,1076.8Q514.0,1261.5 223.3,1408.6L224.9,1410.6Q514.0,1261.5 775.8,1080.1Z" fill="#f08c1e"/><path d="M775.8,1080.1Q514.0,1261.5 238.6,1426.4L241.5,1429.4Q514.0,1261.5 779.4,1083.5Z" fill="#f08c1e"/><path d="M779.4,1083.5Q514.0,1261.5 282.5,1465.1L284.0,1466.3Q514.0,1261.5 782.9,1087.0Z" fill="#f08c1e"/><path d="M782.9,1087.0Q514.0,1261.5 360.0,1507.8L362.1,1508.6Q514.0,1261.5 786.4,1090.4Z" fill="#f08c1e"/><path d="M786.4,1090.4Q514.0,1261.5 381.3,1515.6L383.5,1516.3Q514.0,1261.5 789.8,1094.0Z" fill="#f08c1e"/><path d="M789.8,1094.0Q514.0,1261.5 402.3,1522.0L404.0,1522.4Q514.0,1261.5 793.1,1097.5Z" fill="#f08c1e"/><path d="M793.1,1097.5Q514.0,1261.5 453.3,1532.6L457.9,1533.2Q514.0,1261.5 796.3,1101.1Z" fill="#f08c1e"/><path d="M796.3,1101.1Q514.0,1261.5 474.9,1535.1L478.8,1535.5Q514.0,1261.5 799.5,1104.8Z" fill="#f08c1e"/><path d="M799.5,1104.8Q514.0,1261.5 502.3,1536.8L508.1,1536.9Q514.0,1261.5 802.6,1108.5Z" fill="#f08c1e"/><path d="M802.6,1108.5Q514.0,1261.5 347.0,1020.8L344.0,1022.1Q514.0,1261.5 805.8,1112.4Z" fill="#e8cc24"/><path d="M805.8,1112.4Q514.0,1261.5 275.1,1063.4L273.7,1064.5Q514.0,1261.5 808.9,1116.4Z" fill="#e8cc24"/><path d="M808.9,1116.4Q514.0,1261.5 196.5,1155.8L195.8,1157.1Q514.0,1261.5 812.0,1120.4Z" fill="#e8cc24"/><path d="M812.0,1120.4Q514.0,1261.5 224.9,1410.6L226.5,1412.6Q514.0,1261.5 814.9,1124.5Z" fill="#e8cc24"/><path d="M814.9,1124.5Q514.0,1261.5 241.5,1429.4L244.4,1432.4Q514.0,1261.5 817.7,1128.6Z" fill="#e8cc24"/><path d="M817.7,1128.6Q514.0,1261.5 284.0,1466.3L285.6,1467.4Q514.0,1261.5 820.5,1132.7Z" fill="#e8cc24"/><path d="M820.5,1132.7Q514.0,1261.5 508.1,1536.9L514.0,1536.9Q514.0,1261.5 823.2,1136.9Z" fill="#e8cc24"/><path d="M823.2,1136.9Q514.0,1261.5 434.2,993.6L431.0,994.2Q514.0,1261.5 825.6,1140.8Z" fill="#bfd030"/><path d="M825.6,1140.8Q514.0,1261.5 344.0,1022.1L341.1,1023.4Q514.0,1261.5 827.8,1144.6Z" fill="#bfd030"/><path d="M827.8,1144.6Q514.0,1261.5 273.7,1064.5L272.3,1065.6Q514.0,1261.5 830.0,1148.5Z" fill="#bfd030"/><path d="M830.0,1148.5Q514.0,1261.5 208.7,1134.8L205.2,1140.4Q514.0,1261.5 832.2,1152.4Z" fill="#bfd030"/><path d="M832.2,1152.4Q514.0,1261.5 195.8,1157.1L195.1,1158.4Q514.0,1261.5 834.2,1156.3Z" fill="#bfd030"/><path d="M834.2,1156.3Q514.0,1261.5 226.5,1412.6L228.1,1414.5Q514.0,1261.5 836.2,1160.3Z" fill="#bfd030"/><path d="M836.2,1160.3Q514.0,1261.5 244.4,1432.4L247.3,1435.3Q514.0,1261.5 838.1,1164.3Z" fill="#bfd030"/><path d="M838.1,1164.3Q514.0,1261.5 285.6,1467.4L287.2,1468.5Q514.0,1261.5 840.0,1168.3Z" fill="#bfd030"/><path d="M840.0,1168.3Q514.0,1261.5 404.0,1522.4L405.7,1522.9Q514.0,1261.5 841.7,1172.3Z" fill="#bfd030"/><path d="M841.7,1172.3Q514.0,1261.5 421.2,1526.7L428.8,1528.3Q514.0,1261.5 843.4,1176.4Z" fill="#bfd030"/><path d="M843.4,1176.4Q514.0,1261.5 478.8,1535.5L482.7,1535.8Q514.0,1261.5 845.0,1180.4Z" fill="#bfd030"/><path d="M845.0,1180.4Q514.0,1261.5 431.0,994.2L427.7,994.9Q514.0,1261.5 846.6,1184.8Z" fill="#92c42a"/><path d="M846.6,1184.8Q514.0,1261.5 341.1,1023.4L338.2,1024.8Q514.0,1261.5 848.2,1189.3Z" fill="#92c42a"/><path d="M848.2,1189.3Q514.0,1261.5 272.3,1065.6L270.9,1066.7Q514.0,1261.5 849.6,1193.7Z" fill="#92c42a"/><path d="M849.6,1193.7Q514.0,1261.5 205.2,1140.4L201.8,1146.0Q514.0,1261.5 851.0,1198.2Z" fill="#92c42a"/><path d="M851.0,1198.2Q514.0,1261.5 195.1,1158.4L194.5,1159.8Q514.0,1261.5 852.2,1202.7Z" fill="#92c42a"/><path d="M852.2,1202.7Q514.0,1261.5 228.1,1414.5L229.8,1416.5Q514.0,1261.5 853.4,1207.2Z" fill="#92c42a"/><path d="M853.4,1207.2Q514.0,1261.5 287.2,1468.5L288.8,1469.7Q514.0,1261.5 854.5,1211.7Z" fill="#92c42a"/><path d="M854.5,1211.7Q514.0,1261.5 405.7,1522.9L407.4,1523.4Q514.0,1261.5 855.5,1216.2Z" fill="#92c42a"/><path d="M855.5,1216.2Q514.0,1261.5 428.8,1528.3L436.4,1529.8Q514.0,1261.5 856.3,1220.8Z" fill="#92c42a"/><path d="M856.3,1220.8Q514.0,1261.5 482.7,1535.8L486.6,1536.1Q514.0,1261.5 857.1,1225.3Z" fill="#92c42a"/><path d="M857.1,1225.3Q514.0,1261.5 467.2,988.6L455.6,990.1Q514.0,1261.5 857.8,1229.8Z" fill="#6cc02c"/><path d="M857.8,1229.8Q514.0,1261.5 421.2,996.3L410.0,999.0Q514.0,1261.5 858.4,1234.2Z" fill="#6cc02c"/><path d="M858.4,1234.2Q514.0,1261.5 377.0,1008.9L355.8,1017.0Q514.0,1261.5 858.9,1238.7Z" fill="#6cc02c"/><path d="M858.9,1238.7Q514.0,1261.5 270.9,1066.7L269.5,1067.9Q514.0,1261.5 859.3,1243.1Z" fill="#6cc02c"/><path d="M859.3,1243.1Q514.0,1261.5 241.8,1093.2L240.0,1095.1Q514.0,1261.5 859.7,1247.6Z" fill="#6cc02c"/><path d="M859.7,1247.6Q514.0,1261.5 233.1,1102.7L220.2,1118.4Q514.0,1261.5 859.9,1252.1Z" fill="#6cc02c"/><path d="M859.9,1252.1Q514.0,1261.5 194.5,1159.8L193.8,1161.1Q514.0,1261.5 860.0,1256.5Z" fill="#6cc02c"/><path d="M860.0,1256.5Q514.0,1261.5 174.8,1216.6L174.0,1220.3Q514.0,1261.5 860.1,1261.0Z" fill="#6cc02c"/><path d="M860.1,1261.0Q514.0,1261.5 177.4,1317.5L182.9,1335.8Q514.0,1261.5 860.1,1265.5Z" fill="#6cc02c"/><path d="M860.1,1265.5Q514.0,1261.5 215.5,1398.1L217.8,1401.4Q514.0,1261.5 859.9,1270.0Z" fill="#6cc02c"/><path d="M859.9,1270.0Q514.0,1261.5 229.8,1416.5L231.4,1418.4Q514.0,1261.5 859.7,1274.4Z" fill="#6cc02c"/><path d="M859.7,1274.4Q514.0,1261.5 288.8,1469.7L290.5,1470.8Q514.0,1261.5 859.4,1278.9Z" fill="#6cc02c"/><path d="M859.4,1278.9Q514.0,1261.5 490.5,986.7L482.7,987.2Q514.0,1261.5 859.0,1283.2Z" fill="#58aa2e"/><path d="M859.0,1283.2Q514.0,1261.5 297.0,1047.9L293.4,1050.2Q514.0,1261.5 858.6,1287.4Z" fill="#58aa2e"/><path d="M858.6,1287.4Q514.0,1261.5 269.5,1067.9L268.1,1069.0Q514.0,1261.5 858.1,1291.6Z" fill="#58aa2e"/><path d="M858.1,1291.6Q514.0,1261.5 240.0,1095.1L238.3,1097.0Q514.0,1261.5 857.4,1295.9Z" fill="#58aa2e"/><path d="M857.4,1295.9Q514.0,1261.5 193.8,1161.1L193.2,1162.5Q514.0,1261.5 856.7,1300.1Z" fill="#58aa2e"/><path d="M856.7,1300.1Q514.0,1261.5 173.4,1299.0L173.9,1302.1Q514.0,1261.5 856.0,1304.3Z" fill="#58aa2e"/><path d="M856.0,1304.3Q514.0,1261.5 290.5,1470.8L292.1,1471.9Q514.0,1261.5 855.1,1308.5Z" fill="#58aa2e"/><path d="M855.1,1308.5Q514.0,1261.5 362.1,1508.6L364.2,1509.4Q514.0,1261.5 854.2,1312.7Z" fill="#58aa2e"/><path d="M854.2,1312.7Q514.0,1261.5 383.5,1516.3L385.7,1517.0Q514.0,1261.5 853.1,1316.9Z" fill="#58aa2e"/><path d="M853.1,1316.9Q514.0,1261.5 407.4,1523.4L409.1,1523.8Q514.0,1261.5 852.0,1321.0Z" fill="#58aa2e"/><path d="M852.0,1321.0Q514.0,1261.5 482.7,987.2L474.9,987.9Q514.0,1261.5 850.7,1325.7Z" fill="#62b456"/><path d="M850.7,1325.7Q514.0,1261.5 293.4,1050.2L289.8,1052.7Q514.0,1261.5 849.3,1330.4Z" fill="#62b456"/><path d="M849.3,1330.4Q514.0,1261.5 268.1,1069.0L266.8,1070.1Q514.0,1261.5 847.7,1335.0Z" fill="#62b456"/><path d="M847.7,1335.0Q514.0,1261.5 238.3,1097.0L236.5,1098.8Q514.0,1261.5 846.1,1339.6Z" fill="#62b456"/><path d="M846.1,1339.6Q514.0,1261.5 193.2,1162.5L192.5,1163.8Q514.0,1261.5 844.4,1344.2Z" fill="#62b456"/><path d="M844.4,1344.2Q514.0,1261.5 173.9,1302.1L174.5,1305.2Q514.0,1261.5 842.5,1348.7Z" fill="#62b456"/><path d="M842.5,1348.7Q514.0,1261.5 292.1,1471.9L293.7,1473.0Q514.0,1261.5 840.6,1353.3Z" fill="#62b456"/><path d="M840.6,1353.3Q514.0,1261.5 364.2,1509.4L366.3,1510.2Q514.0,1261.5 838.6,1357.8Z" fill="#62b456"/><path d="M838.6,1357.8Q514.0,1261.5 385.7,1517.0L387.9,1517.7Q514.0,1261.5 836.4,1362.3Z" fill="#62b456"/><path d="M836.4,1362.3Q514.0,1261.5 409.1,1523.8L410.8,1524.2Q514.0,1261.5 834.2,1366.7Z" fill="#62b456"/><path d="M834.2,1366.7Q514.0,1261.5 474.9,987.9L467.2,988.6Q514.0,1261.5 832.2,1370.6Z" fill="#62bc9c"/><path d="M832.2,1370.6Q514.0,1261.5 289.8,1052.7L286.3,1055.2Q514.0,1261.5 830.0,1374.5Z" fill="#62bc9c"/><path d="M830.0,1374.5Q514.0,1261.5 266.8,1070.1L265.4,1071.2Q514.0,1261.5 827.8,1378.4Z" fill="#62bc9c"/><path d="M827.8,1378.4Q514.0,1261.5 236.5,1098.8L234.8,1100.8Q514.0,1261.5 825.6,1382.3Z" fill="#62bc9c"/><path d="M825.6,1382.3Q514.0,1261.5 192.5,1163.8L191.9,1165.2Q514.0,1261.5 823.2,1386.1Z" fill="#62bc9c"/><path d="M823.2,1386.1Q514.0,1261.5 174.5,1305.2L175.2,1308.3Q514.0,1261.5 820.8,1389.9Z" fill="#62bc9c"/><path d="M820.8,1389.9Q514.0,1261.5 293.7,1473.0L295.4,1474.1Q514.0,1261.5 818.3,1393.6Z" fill="#62bc9c"/><path d="M818.3,1393.6Q514.0,1261.5 366.3,1510.2L368.5,1511.0Q514.0,1261.5 815.7,1397.3Z" fill="#62bc9c"/><path d="M815.7,1397.3Q514.0,1261.5 387.9,1517.7L390.1,1518.4Q514.0,1261.5 813.1,1401.0Z" fill="#62bc9c"/><path d="M813.1,1401.0Q514.0,1261.5 410.8,1524.2L412.6,1524.7Q514.0,1261.5 810.4,1404.7Z" fill="#62bc9c"/><path d="M810.4,1404.7Q514.0,1261.5 175.2,1308.3L175.9,1311.4Q514.0,1261.5 807.1,1408.9Z" fill="#6cc6de"/><path d="M807.1,1408.9Q514.0,1261.5 368.5,1511.0L370.6,1511.8Q514.0,1261.5 803.8,1413.1Z" fill="#6cc6de"/><path d="M803.8,1413.1Q514.0,1261.5 390.1,1518.4L392.2,1519.1Q514.0,1261.5 800.3,1417.2Z" fill="#6cc6de"/><path d="M800.3,1417.2Q514.0,1261.5 412.6,1524.7L414.3,1525.1Q514.0,1261.5 796.8,1421.3Z" fill="#6cc6de"/><path d="M796.8,1421.3Q514.0,1261.5 410.0,999.0L398.9,1002.0Q514.0,1261.5 793.0,1425.6Z" fill="#2a9fe8"/><path d="M793.0,1425.6Q514.0,1261.5 286.3,1055.2L282.8,1057.7Q514.0,1261.5 789.1,1429.7Z" fill="#2a9fe8"/><path d="M789.1,1429.7Q514.0,1261.5 182.9,1187.2L181.4,1191.7Q514.0,1261.5 785.1,1433.9Z" fill="#2a9fe8"/><path d="M785.1,1433.9Q514.0,1261.5 174.0,1220.3L173.4,1224.0Q514.0,1261.5 781.0,1437.9Z" fill="#2a9fe8"/><path d="M781.0,1437.9Q514.0,1261.5 182.9,1335.8L190.0,1353.7Q514.0,1261.5 776.8,1441.9Z" fill="#2a9fe8"/><path d="M776.8,1441.9Q514.0,1261.5 217.8,1401.4L220.2,1404.6Q514.0,1261.5 772.5,1445.9Z" fill="#2a9fe8"/><path d="M772.5,1445.9Q514.0,1261.5 297.0,1475.1L315.7,1486.5Q514.0,1261.5 768.1,1449.7Z" fill="#2a9fe8"/><path d="M768.1,1449.7Q514.0,1261.5 370.6,1511.8L372.7,1512.6Q514.0,1261.5 763.6,1453.5Z" fill="#2a9fe8"/><path d="M763.6,1453.5Q514.0,1261.5 414.3,1525.1L416.0,1525.5Q514.0,1261.5 759.1,1457.3Z" fill="#2a9fe8"/><path d="M759.1,1457.3Q514.0,1261.5 457.9,1533.2L462.5,1533.8Q514.0,1261.5 754.4,1460.9Z" fill="#2a9fe8"/><path d="M754.4,1460.9Q514.0,1261.5 282.8,1057.7L279.3,1060.2Q514.0,1261.5 750.2,1464.2Z" fill="#1f6ac0"/><path d="M750.2,1464.2Q514.0,1261.5 175.9,1311.4L176.6,1314.5Q514.0,1261.5 745.8,1467.4Z" fill="#1f6ac0"/><path d="M745.8,1467.4Q514.0,1261.5 372.7,1512.6L374.9,1513.4Q514.0,1261.5 741.4,1470.5Z" fill="#1f6ac0"/><path d="M741.4,1470.5Q514.0,1261.5 392.2,1519.1L394.4,1519.7Q514.0,1261.5 736.9,1473.6Z" fill="#1f6ac0"/><path d="M736.9,1473.6Q514.0,1261.5 427.7,994.9L424.5,995.6Q514.0,1261.5 732.1,1476.8Z" fill="#2448a8"/><path d="M732.1,1476.8Q514.0,1261.5 191.9,1165.2L191.3,1166.5Q514.0,1261.5 727.2,1479.9Z" fill="#2448a8"/><path d="M727.2,1479.9Q514.0,1261.5 190.0,1169.3L182.9,1187.2Q514.0,1261.5 722.2,1483.0Z" fill="#2448a8"/><path d="M722.2,1483.0Q514.0,1261.5 170.2,1256.8L170.2,1261.5Q514.0,1261.5 717.1,1486.0Z" fill="#2448a8"/><path d="M717.1,1486.0Q514.0,1261.5 394.4,1519.7L396.6,1520.4Q514.0,1261.5 712.0,1488.9Z" fill="#2448a8"/><path d="M712.0,1488.9Q514.0,1261.5 220.2,1118.4L208.7,1134.8Q514.0,1261.5 706.0,1492.2Z" fill="#2a54ba"/><path d="M706.0,1492.2Q514.0,1261.5 181.4,1191.7L179.9,1196.3Q514.0,1261.5 700.0,1495.3Z" fill="#2a54ba"/><path d="M700.0,1495.3Q514.0,1261.5 247.3,1435.3L254.9,1442.5Q514.0,1261.5 693.8,1498.4Z" fill="#2a54ba"/><path d="M693.8,1498.4Q514.0,1261.5 335.4,1496.8L355.8,1506.0Q514.0,1261.5 687.6,1501.4Z" fill="#2a54ba"/><path d="M687.6,1501.4Q514.0,1261.5 191.3,1166.5L190.6,1167.9Q514.0,1261.5 682.9,1503.5Z" fill="#4a3a98"/><path d="M682.9,1503.5Q514.0,1261.5 196.3,1366.9L198.6,1371.2Q514.0,1261.5 678.1,1505.6Z" fill="#4a3a98"/><path d="M678.1,1505.6Q514.0,1261.5 486.6,1536.1L490.5,1536.3Q514.0,1261.5 673.3,1507.6Z" fill="#4a3a98"/><path d="M673.3,1507.6Q514.0,1261.5 234.8,1100.8L233.1,1102.7Q514.0,1261.5 668.6,1509.6Z" fill="#8a3aa8"/><path d="M668.6,1509.6Q514.0,1261.5 179.9,1196.3L178.6,1200.9Q514.0,1261.5 663.9,1511.4Z" fill="#8a3aa8"/><path d="M663.9,1511.4Q514.0,1261.5 176.6,1314.5L177.4,1317.5Q514.0,1261.5 659.1,1513.2Z" fill="#8a3aa8"/><path d="M659.1,1513.2Q514.0,1261.5 315.7,1486.5L335.4,1496.8Q514.0,1261.5 654.3,1514.9Z" fill="#8a3aa8"/><path d="M654.3,1514.9Q514.0,1261.5 374.9,1513.4L377.0,1514.1Q514.0,1261.5 649.5,1516.6Z" fill="#8a3aa8"/><path d="M649.5,1516.6Q514.0,1261.5 396.6,1520.4L398.9,1521.0Q514.0,1261.5 644.6,1518.2Z" fill="#8a3aa8"/><path d="M644.6,1518.2Q514.0,1261.5 416.0,1525.5L417.8,1525.9Q514.0,1261.5 639.7,1519.8Z" fill="#8a3aa8"/><path d="M639.7,1519.8Q514.0,1261.5 338.2,1024.8L335.4,1026.2Q514.0,1261.5 634.4,1521.4Z" fill="#b840a0"/><path d="M634.4,1521.4Q514.0,1261.5 265.4,1071.2L264.1,1072.4Q514.0,1261.5 629.0,1523.0Z" fill="#b840a0"/><path d="M629.0,1523.0Q514.0,1261.5 201.8,1146.0L198.6,1151.8Q514.0,1261.5 623.7,1524.5Z" fill="#b840a0"/><path d="M623.7,1524.5Q514.0,1261.5 231.4,1418.4L233.1,1420.3Q514.0,1261.5 618.2,1525.9Z" fill="#b840a0"/><path d="M618.2,1525.9Q514.0,1261.5 295.4,1474.1L297.0,1475.1Q514.0,1261.5 612.8,1527.2Z" fill="#b840a0"/><path d="M612.8,1527.2Q514.0,1261.5 417.8,1525.9L419.5,1526.3Q514.0,1261.5 607.3,1528.5Z" fill="#b840a0"/><path d="M607.3,1528.5Q514.0,1261.5 436.4,1529.8L444.0,1531.2Q514.0,1261.5 601.8,1529.7Z" fill="#b840a0"/><path d="M601.8,1529.7Q514.0,1261.5 455.6,990.1L444.0,991.8Q514.0,1261.5 596.2,1530.8Z" fill="#f0209a"/><path d="M596.2,1530.8Q514.0,1261.5 424.5,995.6L421.2,996.3Q514.0,1261.5 590.6,1531.9Z" fill="#f0209a"/><path d="M590.6,1531.9Q514.0,1261.5 315.7,1036.5L297.0,1047.9Q514.0,1261.5 584.9,1532.9Z" fill="#f0209a"/><path d="M584.9,1532.9Q514.0,1261.5 264.1,1072.4L262.7,1073.5Q514.0,1261.5 579.3,1533.8Z" fill="#f0209a"/><path d="M579.3,1533.8Q514.0,1261.5 190.6,1167.9L190.0,1169.3Q514.0,1261.5 573.6,1534.6Z" fill="#f0209a"/><path d="M573.6,1534.6Q514.0,1261.5 262.7,1449.5L279.3,1462.8Q514.0,1261.5 567.9,1535.4Z" fill="#f0209a"/><path d="M567.9,1535.4Q514.0,1261.5 419.5,1526.3L421.2,1526.7Q514.0,1261.5 562.2,1536.0Z" fill="#f0209a"/><path d="M562.2,1536.0Q514.0,1261.5 335.4,1026.2L315.7,1036.5Q514.0,1261.5 556.2,1536.7Z" fill="#ee1f4f"/><path d="M556.2,1536.7Q514.0,1261.5 262.7,1073.5L247.3,1087.7Q514.0,1261.5 550.2,1537.2Z" fill="#ee1f4f"/><path d="M550.2,1537.2Q514.0,1261.5 178.6,1200.9L177.4,1205.5Q514.0,1261.5 544.2,1537.7Z" fill="#ee1f4f"/><path d="M544.2,1537.7Q514.0,1261.5 173.4,1224.0L171.0,1242.7Q514.0,1261.5 538.1,1538.1Z" fill="#ee1f4f"/><path d="M538.1,1538.1Q514.0,1261.5 170.2,1261.5L171.0,1280.3Q514.0,1261.5 532.1,1538.4Z" fill="#ee1f4f"/><path d="M532.1,1538.4Q514.0,1261.5 171.0,1280.3L173.4,1299.0Q514.0,1261.5 526.1,1538.6Z" fill="#ee1f4f"/><path d="M526.1,1538.6Q514.0,1261.5 254.9,1442.5L262.7,1449.5Q514.0,1261.5 520.0,1538.7Z" fill="#ee1f4f"/><path d="M520.0,1538.7Q514.0,1261.5 462.5,1533.8L467.2,1534.4Q514.0,1261.5 514.0,1538.7Z" fill="#ee1f4f"/></g>
<path d="M516.7,984.3Q514.0,1261.5 510.1,986.1M522.1,984.3Q514.0,1261.5 442.4,992.1M527.5,984.5Q514.0,1261.5 395.2,1003.0M532.9,984.7Q514.0,1261.5 354.3,1017.6M538.3,984.9Q514.0,1261.5 278.6,1060.7M543.7,985.3Q514.0,1261.5 246.4,1088.6M549.1,985.7Q514.0,1261.5 198.3,1152.4M554.5,986.2Q514.0,1261.5 176.9,1207.3M559.8,986.7Q514.0,1261.5 170.8,1245.1M565.2,987.3Q514.0,1261.5 191.0,1355.9M570.5,988.0Q514.0,1261.5 200.2,1374.1M575.9,988.7Q514.0,1261.5 209.8,1389.9M581.2,989.5Q514.0,1261.5 221.0,1405.6M586.5,990.4Q514.0,1261.5 234.5,1421.9M591.7,991.3Q514.0,1261.5 280.1,1463.4M597.0,992.3Q514.0,1261.5 356.9,1506.5M602.2,993.4Q514.0,1261.5 378.1,1514.5M607.5,994.6Q514.0,1261.5 399.7,1521.3M612.7,995.8Q514.0,1261.5 446.3,1531.5M617.8,997.0Q514.0,1261.5 469.1,1534.6M623.0,998.4Q514.0,1261.5 493.5,1536.4M628.0,999.7Q514.0,1261.5 502.3,986.2M633.0,1001.2Q514.0,1261.5 439.1,992.7M638.0,1002.7Q514.0,1261.5 387.9,1005.3M642.9,1004.2Q514.0,1261.5 351.4,1018.8M647.8,1005.8Q514.0,1261.5 277.2,1061.8M652.7,1007.5Q514.0,1261.5 244.5,1090.4M657.5,1009.2Q514.0,1261.5 197.6,1153.8M662.3,1011.0Q514.0,1261.5 176.0,1211.0M667.1,1012.8Q514.0,1261.5 170.5,1249.7M671.8,1014.7Q514.0,1261.5 193.1,1360.3M676.5,1016.7Q514.0,1261.5 203.5,1379.8M681.1,1018.7Q514.0,1261.5 212.0,1393.2M685.8,1020.8Q514.0,1261.5 222.5,1407.6M690.3,1022.9Q514.0,1261.5 237.2,1424.9M694.9,1025.1Q514.0,1261.5 281.7,1464.5M699.4,1027.4Q514.0,1261.5 359.0,1507.3M703.8,1029.7Q514.0,1261.5 380.3,1515.2M708.2,1032.0Q514.0,1261.5 401.4,1521.7M712.6,1034.4Q514.0,1261.5 451.0,1532.3M716.9,1036.9Q514.0,1261.5 473.0,1535.0M721.1,1039.4Q514.0,1261.5 499.3,1536.7M725.5,1042.0Q514.0,1261.5 494.4,986.5M729.8,1044.8Q514.0,1261.5 435.9,993.3M734.1,1047.6Q514.0,1261.5 380.6,1007.6M738.4,1050.4Q514.0,1261.5 348.4,1020.1M742.6,1053.3Q514.0,1261.5 275.8,1062.9M746.7,1056.3Q514.0,1261.5 242.7,1092.3M750.8,1059.3Q514.0,1261.5 196.9,1155.1M754.8,1062.4Q514.0,1261.5 175.2,1214.7M758.8,1065.5Q514.0,1261.5 170.3,1254.4M762.7,1068.7Q514.0,1261.5 195.2,1364.7M766.5,1071.9Q514.0,1261.5 206.9,1385.4M770.3,1075.2Q514.0,1261.5 214.3,1396.5M774.0,1078.5Q514.0,1261.5 224.1,1409.6M777.6,1081.8Q514.0,1261.5 240.0,1427.9M781.2,1085.2Q514.0,1261.5 283.2,1465.7M784.7,1088.7Q514.0,1261.5 361.1,1508.2M788.1,1092.2Q514.0,1261.5 382.4,1516.0M791.4,1095.7Q514.0,1261.5 403.1,1522.2M794.7,1099.3Q514.0,1261.5 455.6,1532.9M797.9,1103.0Q514.0,1261.5 476.9,1535.3M801.1,1106.6Q514.0,1261.5 505.2,1536.8M804.2,1110.4Q514.0,1261.5 345.5,1021.4M807.4,1114.4Q514.0,1261.5 274.4,1064.0M810.4,1118.4Q514.0,1261.5 196.2,1156.4M813.4,1122.5Q514.0,1261.5 225.7,1411.6M816.3,1126.5Q514.0,1261.5 242.9,1430.9M819.1,1130.7Q514.0,1261.5 284.8,1466.8M821.9,1134.8Q514.0,1261.5 511.1,1536.9M824.4,1138.8Q514.0,1261.5 432.6,993.9M826.7,1142.7Q514.0,1261.5 342.6,1022.8M829.0,1146.5Q514.0,1261.5 273.0,1065.1M831.1,1150.4Q514.0,1261.5 206.9,1137.6M833.2,1154.4Q514.0,1261.5 195.5,1157.8M835.2,1158.3Q514.0,1261.5 227.3,1413.5M837.2,1162.3Q514.0,1261.5 245.8,1433.9M839.1,1166.3Q514.0,1261.5 286.4,1468.0M840.8,1170.3Q514.0,1261.5 404.8,1522.7M842.6,1174.3Q514.0,1261.5 425.0,1527.5M844.2,1178.4Q514.0,1261.5 480.8,1535.6M845.8,1182.6Q514.0,1261.5 429.3,994.6M847.4,1187.1Q514.0,1261.5 339.7,1024.1M848.9,1191.5Q514.0,1261.5 271.6,1066.2M850.3,1196.0Q514.0,1261.5 203.5,1143.2M851.6,1200.4Q514.0,1261.5 194.8,1159.1M852.8,1204.9Q514.0,1261.5 228.9,1415.5M853.9,1209.4Q514.0,1261.5 288.0,1469.1M855.0,1214.0Q514.0,1261.5 406.5,1523.1M855.9,1218.5Q514.0,1261.5 432.6,1529.1M856.8,1223.0Q514.0,1261.5 484.7,1535.9M857.5,1227.5Q514.0,1261.5 461.4,989.3M858.1,1232.0Q514.0,1261.5 415.6,997.6M858.7,1236.4Q514.0,1261.5 366.3,1012.8M859.1,1240.9Q514.0,1261.5 270.2,1067.3M859.5,1245.4Q514.0,1261.5 240.9,1094.1M859.8,1249.8Q514.0,1261.5 226.5,1110.4M860.0,1254.3Q514.0,1261.5 194.1,1160.5M860.1,1258.8Q514.0,1261.5 174.4,1218.4M860.1,1263.3Q514.0,1261.5 179.9,1326.7M860.0,1267.7Q514.0,1261.5 216.6,1399.8M859.8,1272.2Q514.0,1261.5 230.6,1417.4M859.6,1276.7Q514.0,1261.5 289.6,1470.2M859.2,1281.0Q514.0,1261.5 486.6,986.9M858.8,1285.3Q514.0,1261.5 295.2,1049.0M858.3,1289.5Q514.0,1261.5 268.8,1068.4M857.8,1293.8Q514.0,1261.5 239.2,1096.0M857.1,1298.0Q514.0,1261.5 193.5,1161.8M856.4,1302.2Q514.0,1261.5 173.6,1300.6M855.5,1306.4Q514.0,1261.5 291.3,1471.3M854.6,1310.6Q514.0,1261.5 363.2,1509.0M853.7,1314.8Q514.0,1261.5 384.6,1516.7M852.6,1319.0Q514.0,1261.5 408.3,1523.6M851.4,1323.4Q514.0,1261.5 478.8,987.5M850.0,1328.0Q514.0,1261.5 291.6,1051.5M848.5,1332.7Q514.0,1261.5 267.4,1069.5M846.9,1337.3Q514.0,1261.5 237.4,1097.9M845.2,1341.9Q514.0,1261.5 192.8,1163.2M843.5,1346.5Q514.0,1261.5 174.2,1303.7M841.6,1351.0Q514.0,1261.5 292.9,1472.4M839.6,1355.5Q514.0,1261.5 365.3,1509.8M837.5,1360.0Q514.0,1261.5 386.8,1517.4M835.3,1364.5Q514.0,1261.5 410.0,1524.0M833.2,1368.7Q514.0,1261.5 471.1,988.2M831.1,1372.6Q514.0,1261.5 288.0,1053.9M828.9,1376.5Q514.0,1261.5 266.1,1070.7M826.7,1380.3Q514.0,1261.5 235.7,1099.8M824.4,1384.2Q514.0,1261.5 192.2,1164.5M822.0,1388.0Q514.0,1261.5 174.8,1306.8M819.5,1391.7Q514.0,1261.5 294.5,1473.5M817.0,1395.5Q514.0,1261.5 367.4,1510.6M814.4,1399.2Q514.0,1261.5 389.0,1518.1M811.7,1402.9Q514.0,1261.5 411.7,1524.5M808.7,1406.8Q514.0,1261.5 175.5,1309.8M805.5,1411.0Q514.0,1261.5 369.5,1511.4M802.1,1415.2Q514.0,1261.5 391.1,1518.7M798.6,1419.3Q514.0,1261.5 413.4,1524.9M794.9,1423.4Q514.0,1261.5 404.4,1000.4M791.1,1427.7Q514.0,1261.5 284.5,1056.4M787.1,1431.8Q514.0,1261.5 182.1,1189.5M783.0,1435.9Q514.0,1261.5 173.7,1222.1M778.9,1439.9Q514.0,1261.5 186.3,1344.8M774.7,1443.9Q514.0,1261.5 219.0,1403.0M770.3,1447.8Q514.0,1261.5 306.2,1481.0M765.9,1451.6Q514.0,1261.5 371.7,1512.2M761.4,1455.4Q514.0,1261.5 415.2,1525.3M756.8,1459.1Q514.0,1261.5 460.2,1533.5M752.3,1462.6Q514.0,1261.5 281.0,1058.9M748.0,1465.8Q514.0,1261.5 176.2,1312.9M743.6,1468.9Q514.0,1261.5 373.8,1513.0M739.2,1472.0Q514.0,1261.5 393.3,1519.4M734.5,1475.2Q514.0,1261.5 426.1,995.2M729.6,1478.4Q514.0,1261.5 191.6,1165.9M724.7,1481.5Q514.0,1261.5 186.3,1178.2M719.7,1484.5Q514.0,1261.5 170.2,1259.1M714.6,1487.4Q514.0,1261.5 395.5,1520.1M709.0,1490.5Q514.0,1261.5 214.3,1126.5M703.0,1493.8Q514.0,1261.5 180.7,1194.0M696.9,1496.9Q514.0,1261.5 251.0,1438.9M690.7,1499.9Q514.0,1261.5 345.5,1501.6M685.2,1502.4Q514.0,1261.5 190.9,1167.2M680.5,1504.6Q514.0,1261.5 197.5,1369.1M675.7,1506.6Q514.0,1261.5 488.6,1536.2M670.9,1508.6Q514.0,1261.5 234.0,1101.7M666.2,1510.5Q514.0,1261.5 179.3,1198.6M661.5,1512.3Q514.0,1261.5 177.0,1316.0M656.7,1514.1Q514.0,1261.5 325.4,1491.8M651.9,1515.8Q514.0,1261.5 375.9,1513.7M647.0,1517.4Q514.0,1261.5 397.8,1520.7M642.2,1519.0Q514.0,1261.5 416.9,1525.7M637.1,1520.6Q514.0,1261.5 336.8,1025.5M631.7,1522.2Q514.0,1261.5 264.7,1071.8M626.4,1523.7Q514.0,1261.5 200.2,1148.9M621.0,1525.2Q514.0,1261.5 232.3,1419.4M615.5,1526.6Q514.0,1261.5 296.2,1474.6M610.1,1527.9Q514.0,1261.5 418.6,1526.1M604.6,1529.1Q514.0,1261.5 440.2,1530.5M599.0,1530.3Q514.0,1261.5 449.8,990.9M593.4,1531.4Q514.0,1261.5 422.9,995.9M587.8,1532.4Q514.0,1261.5 306.2,1042.0M582.1,1533.3Q514.0,1261.5 263.4,1072.9M576.4,1534.2Q514.0,1261.5 190.3,1168.6M570.7,1535.0Q514.0,1261.5 270.9,1456.3M565.0,1535.7Q514.0,1261.5 420.4,1526.5M559.2,1536.4Q514.0,1261.5 325.4,1031.2M553.2,1537.0Q514.0,1261.5 254.9,1080.5M547.2,1537.5Q514.0,1261.5 178.0,1203.2M541.2,1537.9Q514.0,1261.5 172.0,1233.3M535.1,1538.2Q514.0,1261.5 170.4,1270.9M529.1,1538.5Q514.0,1261.5 172.0,1289.7M523.1,1538.7Q514.0,1261.5 258.7,1446.0M517.0,1538.7Q514.0,1261.5 464.9,1534.1" fill="none" stroke="#0a0a0a" stroke-width="0.9" stroke-dasharray="175 3000" opacity="0.55"/>
</g>
<path d="M514.0,959.3 L523.5,959.4 L533.0,959.7 L542.5,960.2 L552.0,960.9 L561.5,961.7 L570.9,962.8 L580.3,964.0 L589.7,965.5 L599.0,967.1 L608.2,968.9 L617.4,970.9 L626.5,973.1 L635.6,975.4 L625.8,998.5 L617.5,996.3 L609.1,994.3 L600.6,992.4 L592.1,990.8 L583.6,989.3 L575.0,988.0 L566.3,986.8 L557.7,985.9 L549.0,985.1 L540.2,984.4 L531.5,984.0 L522.8,983.7 L514.0,983.6Z" fill="#e8735a" stroke="#0a0a0a" stroke-width="3.6" stroke-linejoin="miter"/>
<path d="M635.6,975.4 L644.3,977.9 L653.1,980.6 L661.7,983.4 L670.2,986.4 L678.6,989.6 L687.0,993.0 L695.2,996.5 L703.3,1000.1 L711.3,1004.0 L719.2,1007.9 L727.0,1012.1 L734.6,1016.4 L742.1,1020.8 L723.7,1040.2 L716.8,1036.1 L709.8,1032.2 L702.7,1028.3 L695.4,1024.7 L688.1,1021.2 L680.6,1017.8 L673.0,1014.6 L665.4,1011.5 L657.6,1008.6 L649.8,1005.8 L641.9,1003.2 L633.9,1000.8 L625.8,998.5Z" fill="#e5825a" stroke="#0a0a0a" stroke-width="3.6" stroke-linejoin="miter"/>
<path d="M742.1,1020.8 L749.8,1025.6 L757.3,1030.6 L764.7,1035.7 L771.9,1041.0 L779.0,1046.4 L785.8,1052.0 L792.5,1057.7 L799.0,1063.6 L805.3,1069.5 L811.4,1075.7 L817.4,1081.9 L823.1,1088.2 L828.6,1094.7 L803.2,1108.1 L798.2,1102.2 L792.9,1096.3 L787.5,1090.6 L781.9,1085.0 L776.1,1079.5 L770.1,1074.1 L764.0,1068.9 L757.7,1063.7 L751.2,1058.7 L744.5,1053.9 L737.7,1049.2 L730.8,1044.6 L723.7,1040.2Z" fill="#eba865" stroke="#0a0a0a" stroke-width="3.6" stroke-linejoin="miter"/>
<path d="M828.6,1094.7 L833.4,1100.7 L838.1,1106.9 L842.6,1113.1 L846.9,1119.4 L851.0,1125.7 L823.9,1136.7 L820.1,1130.8 L816.1,1125.0 L812.0,1119.3 L807.7,1113.7 L803.2,1108.1Z" fill="#e0d57a" stroke="#0a0a0a" stroke-width="3.6" stroke-linejoin="miter"/>
<path d="M851.0,1125.7 L855.0,1132.3 L858.8,1138.9 L862.4,1145.7 L865.8,1152.4 L869.0,1159.3 L872.0,1166.2 L874.7,1173.2 L845.7,1180.3 L843.2,1173.9 L840.4,1167.5 L837.5,1161.2 L834.4,1155.0 L831.1,1148.8 L827.6,1142.7 L823.9,1136.7Z" fill="#c5d279" stroke="#0a0a0a" stroke-width="3.6" stroke-linejoin="miter"/>
<path d="M874.7,1173.2 L877.3,1180.0 L879.6,1186.9 L881.7,1193.9 L883.6,1200.9 L885.2,1207.9 L886.7,1215.0 L888.0,1222.1 L857.9,1225.2 L856.7,1218.7 L855.4,1212.2 L853.8,1205.8 L852.1,1199.3 L850.1,1192.9 L848.0,1186.6 L845.7,1180.3Z" fill="#a6c76e" stroke="#0a0a0a" stroke-width="3.6" stroke-linejoin="miter"/>
<path d="M888.0,1222.1 L889.1,1229.3 L889.9,1236.6 L890.6,1243.9 L891.0,1251.2 L891.2,1258.5 L891.2,1265.9 L890.9,1273.2 L890.5,1280.5 L860.2,1278.9 L860.6,1272.2 L860.8,1265.5 L860.8,1258.8 L860.7,1252.0 L860.3,1245.3 L859.7,1238.6 L858.9,1231.9 L857.9,1225.2Z" fill="#90c06a" stroke="#0a0a0a" stroke-width="3.6" stroke-linejoin="miter"/>
<path d="M890.5,1280.5 L889.7,1288.2 L888.8,1295.9 L887.6,1303.6 L886.1,1311.2 L884.4,1318.8 L882.4,1326.4 L852.8,1321.2 L854.6,1314.2 L856.1,1307.2 L857.5,1300.2 L858.6,1293.1 L859.5,1286.0 L860.2,1278.9Z" fill="#8abd66" stroke="#0a0a0a" stroke-width="3.6" stroke-linejoin="miter"/>
<path d="M882.4,1326.4 L880.3,1333.7 L878.0,1340.9 L875.4,1348.0 L872.6,1355.2 L869.6,1362.2 L866.4,1369.2 L863.0,1376.2 L834.9,1366.9 L838.1,1360.6 L841.0,1354.1 L843.8,1347.6 L846.3,1341.1 L848.7,1334.5 L850.8,1327.8 L852.8,1321.2Z" fill="#93c476" stroke="#0a0a0a" stroke-width="3.6" stroke-linejoin="miter"/>
<path d="M863.0,1376.2 L859.2,1383.3 L855.2,1390.3 L851.0,1397.3 L846.6,1404.1 L841.9,1410.9 L837.0,1417.6 L811.0,1405.0 L815.5,1398.9 L819.8,1392.7 L823.9,1386.3 L827.8,1380.0 L831.4,1373.5 L834.9,1366.9Z" fill="#93c9a3" stroke="#0a0a0a" stroke-width="3.6" stroke-linejoin="miter"/>
<path d="M837.0,1417.6 L832.3,1423.7 L827.3,1429.7 L822.2,1435.7 L797.4,1421.7 L802.1,1416.2 L806.6,1410.7 L811.0,1405.0Z" fill="#93cfd9" stroke="#0a0a0a" stroke-width="3.6" stroke-linejoin="miter"/>
<path d="M822.2,1435.7 L817.0,1441.5 L811.7,1447.1 L806.1,1452.7 L800.4,1458.1 L794.6,1463.5 L788.5,1468.7 L782.4,1473.9 L776.0,1478.9 L755.0,1461.4 L760.8,1456.8 L766.4,1452.1 L772.0,1447.2 L777.4,1442.3 L782.6,1437.3 L787.7,1432.2 L792.6,1427.0 L797.4,1421.7Z" fill="#79b3dd" stroke="#0a0a0a" stroke-width="3.6" stroke-linejoin="miter"/>
<path d="M776.0,1478.9 L769.8,1483.6 L763.5,1488.2 L757.0,1492.6 L737.4,1474.0 L743.4,1469.9 L749.2,1465.7 L755.0,1461.4Z" fill="#6d83c4" stroke="#0a0a0a" stroke-width="3.6" stroke-linejoin="miter"/>
<path d="M757.0,1492.6 L750.4,1497.0 L743.6,1501.2 L736.8,1505.3 L729.8,1509.3 L712.5,1489.4 L718.9,1485.7 L725.2,1481.9 L731.3,1478.0 L737.4,1474.0Z" fill="#6a78b9" stroke="#0a0a0a" stroke-width="3.6" stroke-linejoin="miter"/>
<path d="M729.8,1509.3 L723.3,1512.9 L716.7,1516.4 L710.0,1519.7 L703.2,1522.9 L688.0,1501.9 L694.2,1498.9 L700.4,1495.8 L706.5,1492.7 L712.5,1489.4Z" fill="#7076b6" stroke="#0a0a0a" stroke-width="3.6" stroke-linejoin="miter"/>
<path d="M703.2,1522.9 L695.4,1526.4 L687.6,1529.8 L673.6,1508.2 L680.8,1505.1 L688.0,1501.9Z" fill="#8b72b4" stroke="#0a0a0a" stroke-width="3.6" stroke-linejoin="miter"/>
<path d="M687.6,1529.8 L680.4,1532.7 L673.2,1535.5 L665.9,1538.1 L658.5,1540.6 L651.0,1543.0 L640.0,1520.4 L646.9,1518.2 L653.6,1515.8 L660.4,1513.4 L667.0,1510.9 L673.6,1508.2Z" fill="#a878b8" stroke="#0a0a0a" stroke-width="3.6" stroke-linejoin="miter"/>
<path d="M651.0,1543.0 L642.9,1545.5 L634.7,1547.8 L626.4,1549.9 L618.1,1551.9 L609.7,1553.8 L602.0,1530.3 L609.7,1528.6 L617.4,1526.7 L625.0,1524.8 L632.5,1522.6 L640.0,1520.4Z" fill="#c879ae" stroke="#0a0a0a" stroke-width="3.6" stroke-linejoin="miter"/>
<path d="M609.7,1553.8 L601.2,1555.5 L592.6,1557.1 L583.9,1558.4 L575.2,1559.7 L566.5,1560.7 L562.3,1536.7 L570.3,1535.7 L578.3,1534.5 L586.2,1533.3 L594.1,1531.8 L602.0,1530.3Z" fill="#e46f95" stroke="#0a0a0a" stroke-width="3.6" stroke-linejoin="miter"/>
<path d="M566.5,1560.7 L557.8,1561.6 L549.1,1562.4 L540.3,1562.9 L531.6,1563.3 L522.8,1563.6 L514.0,1563.7 L514.0,1539.4 L522.1,1539.3 L530.1,1539.1 L538.2,1538.7 L546.2,1538.2 L554.3,1537.5 L562.3,1536.7Z" fill="#e56b68" stroke="#0a0a0a" stroke-width="3.6" stroke-linejoin="miter"/>
<path d="M516.7,956.3 L506.6,956.3 L496.5,956.6 L486.4,957.1 L476.3,957.8 L466.3,958.7 L456.3,959.8 L446.3,961.1 L436.4,962.7 L426.5,964.4 L416.7,966.4 L407.0,968.6 L397.3,970.9 L387.7,973.5 L378.3,976.3 L368.9,979.3 L359.6,982.5 L350.4,985.9 L341.3,989.4 L332.4,993.2 L323.6,997.1 L314.9,1001.3 L306.3,1005.6 L297.9,1010.1 L289.7,1014.8 L281.6,1019.6 L273.7,1024.6 L265.9,1029.8 L258.4,1035.2 L251.0,1040.7 L243.7,1046.4 L236.7,1052.2 L229.9,1058.1 L223.2,1064.2 L216.8,1070.5 L210.6,1076.9 L204.6,1083.4 L198.8,1090.0 L193.2,1096.8 L187.9,1103.6 L182.8,1110.6 L177.9,1117.7 L173.3,1124.9 L168.9,1132.2 L164.7,1139.6 L160.8,1147.0 L157.1,1154.6 L153.7,1162.2 L150.6,1169.9 L147.7,1177.6 L145.0,1185.4 L142.6,1193.3 L140.5,1201.2 L138.6,1209.2 L137.0,1217.1 L135.7,1225.2 L134.6,1233.2 L133.8,1241.3 L133.3,1249.4 L133.0,1257.5 L133.0,1265.5 L133.3,1273.6 L133.8,1281.7 L134.6,1289.8 L135.7,1297.8 L137.0,1305.9 L138.6,1313.8 L140.5,1321.8 L142.6,1329.7 L145.0,1337.6 L147.7,1345.4 L150.6,1353.1 L153.7,1360.8 L157.1,1368.4 L160.8,1376.0 L164.7,1383.4 L168.9,1390.8 L173.3,1398.1 L177.9,1405.3 L182.8,1412.4 L187.9,1419.4 L193.2,1426.2 L198.8,1433.0 L204.6,1439.6 L210.6,1446.1 L216.8,1452.5 L223.2,1458.8 L229.9,1464.9 L236.7,1470.8 L243.7,1476.6 L251.0,1482.3 L258.4,1487.8 L265.9,1493.2 L273.7,1498.4 L281.6,1503.4 L289.7,1508.2 L297.9,1512.9 L306.3,1517.4 L314.9,1521.7 L323.6,1525.9 L332.4,1529.8 L341.3,1533.6 L350.4,1537.1 L359.6,1540.5 L368.9,1543.7 L378.3,1546.7 L387.7,1549.5 L397.3,1552.1 L407.0,1554.4 L416.7,1556.6 L426.5,1558.6 L436.4,1560.3 L446.3,1561.9 L456.3,1563.2 L466.3,1564.3 L476.3,1565.2 L486.4,1565.9 L496.5,1566.4 L506.6,1566.7 L516.7,1566.7 L516.5,1548.2 L507.0,1548.1 L497.5,1547.9 L488.1,1547.4 L478.6,1546.8 L469.2,1545.9 L459.8,1544.9 L450.4,1543.6 L441.1,1542.2 L431.8,1540.5 L422.6,1538.7 L413.5,1536.6 L404.4,1534.4 L395.4,1532.0 L386.5,1529.4 L377.7,1526.6 L369.0,1523.6 L360.3,1520.4 L351.8,1517.0 L343.4,1513.5 L335.1,1509.8 L327.0,1505.9 L319.0,1501.9 L311.1,1497.6 L303.3,1493.2 L295.7,1488.7 L288.3,1484.0 L281.0,1479.1 L273.9,1474.1 L266.9,1468.9 L260.2,1463.6 L253.6,1458.1 L247.1,1452.5 L240.9,1446.8 L234.9,1440.9 L229.0,1434.9 L223.4,1428.8 L218.0,1422.6 L212.7,1416.2 L207.7,1409.8 L202.9,1403.2 L198.3,1396.6 L194.0,1389.8 L189.8,1383.0 L185.9,1376.0 L182.3,1369.0 L178.8,1361.9 L175.6,1354.8 L172.6,1347.6 L169.9,1340.3 L167.4,1333.0 L165.2,1325.6 L163.2,1318.1 L161.4,1310.7 L159.9,1303.2 L158.7,1295.6 L157.7,1288.1 L156.9,1280.5 L156.4,1272.9 L156.2,1265.3 L156.2,1257.7 L156.4,1250.1 L156.9,1242.5 L157.7,1234.9 L158.7,1227.4 L159.9,1219.8 L161.4,1212.3 L163.2,1204.9 L165.2,1197.4 L167.4,1190.0 L169.9,1182.7 L172.6,1175.4 L175.6,1168.2 L178.8,1161.1 L182.3,1154.0 L185.9,1147.0 L189.8,1140.0 L194.0,1133.2 L198.3,1126.4 L202.9,1119.8 L207.7,1113.2 L212.7,1106.8 L218.0,1100.4 L223.4,1094.2 L229.0,1088.1 L234.9,1082.1 L240.9,1076.2 L247.1,1070.5 L253.6,1064.9 L260.2,1059.4 L266.9,1054.1 L273.9,1048.9 L281.0,1043.9 L288.3,1039.0 L295.7,1034.3 L303.3,1029.8 L311.1,1025.4 L319.0,1021.1 L327.0,1017.1 L335.1,1013.2 L343.4,1009.5 L351.8,1006.0 L360.3,1002.6 L369.0,999.4 L377.7,996.4 L386.5,993.6 L395.4,991.0 L404.4,988.6 L413.5,986.4 L422.6,984.3 L431.8,982.5 L441.1,980.8 L450.4,979.4 L459.8,978.1 L469.2,977.1 L478.6,976.2 L488.1,975.6 L497.5,975.1 L507.0,974.9 L516.5,974.8Z" fill="#0a0a0a"/>
<path d="M509.9,960.6 L501.2,960.7 L492.5,961.0 L493.1,970.6 L501.6,970.3 L510.0,970.1Z" fill="#f2453b"/>
<path d="M484.3,961.5 L475.6,962.1 L466.9,962.9 L468.4,972.4 L476.8,971.6 L485.2,971.0Z" fill="#f2453b"/>
<path d="M458.8,963.8 L450.2,964.9 L441.6,966.2 L443.9,975.6 L452.2,974.4 L460.5,973.3Z" fill="#f2463c"/>
<path d="M433.5,967.5 L425.0,969.1 L416.6,970.8 L419.7,980.1 L427.9,978.4 L436.1,976.9Z" fill="#f2473d"/>
<path d="M408.7,972.6 L400.3,974.6 L392.1,976.8 L395.9,985.9 L404.0,983.8 L412.0,981.8Z" fill="#f2483e"/>
<path d="M384.3,979.0 L376.2,981.5 L368.1,984.2 L372.7,993.0 L380.6,990.4 L388.4,988.0Z" fill="#f2493f"/>
<path d="M360.6,986.8 L352.6,989.7 L344.8,992.8 L350.2,1001.3 L357.8,998.4 L365.4,995.5Z" fill="#f24a40"/>
<path d="M337.5,995.8 L329.9,999.2 L322.3,1002.7 L328.4,1010.9 L335.7,1007.5 L343.1,1004.3Z" fill="#f24c41"/>
<path d="M315.3,1006.1 L307.9,1009.8 L300.7,1013.7 L307.5,1021.6 L314.5,1017.8 L321.6,1014.2Z" fill="#f24d42"/>
<path d="M294.0,1017.5 L287.0,1021.7 L280.1,1026.0 L287.5,1033.5 L294.2,1029.3 L301.0,1025.3Z" fill="#f24e43"/>
<path d="M273.7,1030.1 L267.1,1034.7 L260.6,1039.3 L268.6,1046.4 L274.9,1041.9 L281.4,1037.5Z" fill="#f25044"/>
<path d="M254.6,1043.8 L248.3,1048.7 L242.2,1053.7 L250.9,1060.3 L256.8,1055.5 L262.8,1050.7Z" fill="#f25145"/>
<path d="M236.6,1058.5 L230.8,1063.7 L225.2,1069.0 L234.4,1075.2 L239.8,1070.0 L245.5,1065.0Z" fill="#f25347"/>
<path d="M220.0,1074.1 L214.6,1079.6 L209.4,1085.3 L219.1,1090.9 L224.2,1085.4 L229.3,1080.1Z" fill="#f25448"/>
<path d="M204.7,1090.6 L199.8,1096.4 L195.1,1102.3 L205.3,1107.4 L209.8,1101.7 L214.6,1096.1Z" fill="#f25649"/>
<path d="M190.9,1107.9 L186.5,1114.0 L182.3,1120.1 L192.9,1124.6 L196.9,1118.7 L201.2,1112.8Z" fill="#f2574a"/>
<path d="M178.5,1126.0 L174.7,1132.2 L171.1,1138.6 L182.0,1142.5 L185.5,1136.4 L189.2,1130.3Z" fill="#f2594c"/>
<path d="M167.8,1144.6 L164.5,1151.1 L161.4,1157.6 L172.6,1160.9 L175.6,1154.6 L178.8,1148.3Z" fill="#f25a4d"/>
<path d="M158.6,1163.8 L155.9,1170.5 L153.4,1177.1 L164.8,1179.8 L167.3,1173.4 L169.9,1166.9Z" fill="#f25c4e"/>
<path d="M151.1,1183.5 L149.0,1190.2 L147.0,1197.1 L158.7,1199.1 L160.6,1192.5 L162.7,1186.0Z" fill="#f25e50"/>
<path d="M145.3,1203.5 L143.8,1210.4 L142.4,1217.3 L154.2,1218.7 L155.5,1212.0 L157.1,1205.3Z" fill="#f25f51"/>
<path d="M141.3,1223.8 L140.3,1230.7 L139.5,1237.7 L151.4,1238.4 L152.2,1231.7 L153.1,1225.0Z" fill="#f26153"/>
<path d="M138.9,1244.2 L138.5,1251.2 L138.3,1258.2 L150.3,1258.3 L150.5,1251.6 L150.8,1244.8Z" fill="#f26354"/>
<path d="M138.3,1264.8 L138.5,1271.8 L138.9,1278.8 L150.8,1278.2 L150.5,1271.4 L150.3,1264.7Z" fill="#f26456"/>
<path d="M139.5,1285.3 L140.3,1292.3 L141.3,1299.2 L153.1,1298.0 L152.2,1291.3 L151.4,1284.6Z" fill="#f36657"/>
<path d="M142.4,1305.7 L143.8,1312.6 L145.3,1319.5 L157.1,1317.7 L155.5,1311.0 L154.2,1304.3Z" fill="#f36859"/>
<path d="M147.0,1325.9 L149.0,1332.8 L151.1,1339.5 L162.7,1337.0 L160.6,1330.5 L158.7,1323.9Z" fill="#f36a5a"/>
<path d="M153.4,1345.9 L155.9,1352.5 L158.6,1359.2 L169.9,1356.1 L167.3,1349.6 L164.8,1343.2Z" fill="#f36b5c"/>
<path d="M161.4,1365.4 L164.5,1371.9 L167.8,1378.4 L178.8,1374.7 L175.6,1368.4 L172.6,1362.1Z" fill="#f36d5d"/>
<path d="M171.1,1384.4 L174.7,1390.8 L178.5,1397.0 L189.2,1392.7 L185.5,1386.6 L182.0,1380.5Z" fill="#f36f5f"/>
<path d="M182.3,1402.9 L186.5,1409.0 L190.9,1415.1 L201.2,1410.2 L196.9,1404.3 L192.9,1398.4Z" fill="#f37160"/>
<path d="M195.1,1420.7 L199.8,1426.6 L204.7,1432.4 L214.6,1426.9 L209.8,1421.3 L205.3,1415.6Z" fill="#f37362"/>
<path d="M209.4,1437.7 L214.6,1443.4 L220.0,1448.9 L229.3,1442.9 L224.2,1437.6 L219.1,1432.1Z" fill="#f37563"/>
<path d="M225.2,1454.0 L230.8,1459.3 L236.6,1464.5 L245.5,1458.0 L239.8,1453.0 L234.4,1447.8Z" fill="#f37765"/>
<path d="M242.2,1469.3 L248.3,1474.3 L254.6,1479.2 L262.8,1472.3 L256.8,1467.5 L250.9,1462.7Z" fill="#f37867"/>
<path d="M260.6,1483.7 L267.1,1488.3 L273.7,1492.9 L281.4,1485.5 L274.9,1481.1 L268.6,1476.6Z" fill="#f37a68"/>
<path d="M280.1,1497.0 L287.0,1501.3 L294.0,1505.5 L301.0,1497.7 L294.2,1493.7 L287.5,1489.5Z" fill="#f37c6a"/>
<path d="M300.7,1509.3 L307.9,1513.2 L315.3,1516.9 L321.6,1508.8 L314.5,1505.2 L307.5,1501.4Z" fill="#f37e6c"/>
<path d="M322.3,1520.3 L329.9,1523.8 L337.5,1527.2 L343.1,1518.7 L335.7,1515.5 L328.4,1512.1Z" fill="#f3806d"/>
<path d="M344.8,1530.2 L352.6,1533.3 L360.6,1536.2 L365.4,1527.5 L357.8,1524.6 L350.2,1521.7Z" fill="#f3826f"/>
<path d="M368.1,1538.8 L376.2,1541.5 L384.3,1544.0 L388.4,1535.0 L380.6,1532.6 L372.7,1530.0Z" fill="#f38471"/>
<path d="M392.1,1546.2 L400.3,1548.4 L408.7,1550.4 L412.0,1541.2 L404.0,1539.2 L395.9,1537.1Z" fill="#f38672"/>
<path d="M416.6,1552.2 L425.0,1553.9 L433.5,1555.5 L436.1,1546.1 L427.9,1544.6 L419.7,1542.9Z" fill="#f48874"/>
<path d="M441.6,1556.8 L450.2,1558.1 L458.8,1559.2 L460.5,1549.7 L452.2,1548.6 L443.9,1547.4Z" fill="#f48874"/>
<path d="M466.9,1560.1 L475.6,1560.9 L484.3,1561.5 L485.2,1552.0 L476.8,1551.4 L468.4,1550.6Z" fill="#f48874"/>
<path d="M492.5,1562.0 L501.2,1562.3 L509.9,1562.4 L510.0,1552.9 L501.6,1552.7 L493.1,1552.4Z" fill="#f48874"/>
<text transform="translate(500.8,949.3) rotate(88.2)" font-size="24.3" text-anchor="end" dy="0.35em" fill="#222222">TTR</text>
<text transform="translate(474.4,950.7) rotate(84.7)" font-size="24.3" text-anchor="end" dy="0.35em" fill="#222222">SAA1</text>
<text transform="translate(448.2,953.6) rotate(81.2)" font-size="24.3" text-anchor="end" dy="0.35em" fill="#222222">CHI3L1</text>
<text transform="translate(422.3,957.9) rotate(77.6)" font-size="24.3" text-anchor="end" dy="0.35em" fill="#222222">POSTN</text>
<text transform="translate(396.8,963.5) rotate(74.1)" font-size="24.3" text-anchor="end" dy="0.35em" fill="#222222">LTF</text>
<text transform="translate(371.9,970.5) rotate(70.5)" font-size="24.3" text-anchor="end" dy="0.35em" fill="#222222">IBSP</text>
<text transform="translate(347.6,978.9) rotate(66.9)" font-size="24.3" text-anchor="end" dy="0.35em" fill="#222222">HOXA5</text>
<text transform="translate(324.0,988.6) rotate(63.2)" font-size="24.3" text-anchor="end" dy="0.35em" fill="#222222">FMOD</text>
<text transform="translate(301.3,999.5) rotate(59.5)" font-size="24.3" text-anchor="end" dy="0.35em" fill="#222222">IGHM</text>
<text transform="translate(279.5,1011.7) rotate(55.8)" font-size="24.3" text-anchor="end" dy="0.35em" fill="#222222">IGFBP2</text>
<text transform="translate(258.9,1025.0) rotate(52.0)" font-size="24.3" text-anchor="end" dy="0.35em" fill="#222222">SERPINA5</text>
<text transform="translate(239.3,1039.5) rotate(48.2)" font-size="24.3" text-anchor="end" dy="0.35em" fill="#222222">COL3A1</text>
<text transform="translate(221.1,1055.0) rotate(44.3)" font-size="24.3" text-anchor="end" dy="0.35em" fill="#222222">IGLV3-21</text>
<text transform="translate(204.2,1071.5) rotate(40.3)" font-size="24.3" text-anchor="end" dy="0.35em" fill="#222222">PDPN</text>
<text transform="translate(188.7,1088.9) rotate(36.3)" font-size="24.3" text-anchor="end" dy="0.35em" fill="#222222">IGF2</text>
<text transform="translate(174.8,1107.2) rotate(32.2)" font-size="24.3" text-anchor="end" dy="0.35em" fill="#222222">PLA2G2A</text>
<text transform="translate(162.4,1126.2) rotate(28.1)" font-size="24.3" text-anchor="end" dy="0.35em" fill="#222222">GDF15</text>
<text transform="translate(151.6,1145.9) rotate(23.9)" font-size="24.3" text-anchor="end" dy="0.35em" fill="#222222">COL1A1</text>
<text transform="translate(142.6,1166.1) rotate(19.6)" font-size="24.3" text-anchor="end" dy="0.35em" fill="#222222">LIF</text>
<text transform="translate(135.3,1186.8) rotate(15.3)" font-size="24.3" text-anchor="end" dy="0.35em" fill="#222222">ANXA1</text>
<text transform="translate(129.8,1207.9) rotate(11.0)" font-size="24.3" text-anchor="end" dy="0.35em" fill="#222222">TIMP1</text>
<text transform="translate(126.1,1229.2) rotate(6.6)" font-size="24.3" text-anchor="end" dy="0.35em" fill="#222222">MET</text>
<text transform="translate(124.3,1250.7) rotate(2.2)" font-size="24.3" text-anchor="end" dy="0.35em" fill="#222222">NPNT</text>
<text transform="translate(124.3,1272.3) rotate(-2.2)" font-size="24.3" text-anchor="end" dy="0.35em" fill="#222222">IGHA1</text>
<text transform="translate(126.1,1293.8) rotate(-6.6)" font-size="24.3" text-anchor="end" dy="0.35em" fill="#222222">IGHG4</text>
<text transform="translate(129.8,1315.1) rotate(-11.0)" font-size="24.3" text-anchor="end" dy="0.35em" fill="#222222">PLAT</text>
<text transform="translate(135.3,1336.2) rotate(-15.3)" font-size="24.3" text-anchor="end" dy="0.35em" fill="#222222">HOXD9</text>
<text transform="translate(142.6,1356.9) rotate(-19.6)" font-size="24.3" text-anchor="end" dy="0.35em" fill="#222222">SPOCD1</text>
<text transform="translate(151.6,1377.1) rotate(-23.9)" font-size="24.3" text-anchor="end" dy="0.35em" fill="#222222">COL4A1</text>
<text transform="translate(162.4,1396.8) rotate(-28.1)" font-size="24.3" text-anchor="end" dy="0.35em" fill="#222222">COL6A2</text>
<text transform="translate(174.8,1415.8) rotate(-32.2)" font-size="24.3" text-anchor="end" dy="0.35em" fill="#222222">MMP9</text>
<text transform="translate(188.7,1434.1) rotate(-36.3)" font-size="24.3" text-anchor="end" dy="0.35em" fill="#222222">TGFB2</text>
<text transform="translate(204.2,1451.5) rotate(-40.3)" font-size="24.3" text-anchor="end" dy="0.35em" fill="#222222">COL5A1</text>
<text transform="translate(221.1,1468.0) rotate(-44.3)" font-size="24.3" text-anchor="end" dy="0.35em" fill="#222222">PLA2G5</text>
<text transform="translate(239.3,1483.5) rotate(-48.2)" font-size="24.3" text-anchor="end" dy="0.35em" fill="#222222">CXCL10</text>
<text transform="translate(258.9,1498.0) rotate(-52.0)" font-size="24.3" text-anchor="end" dy="0.35em" fill="#222222">COL1A2</text>
<text transform="translate(279.5,1511.3) rotate(-55.8)" font-size="24.3" text-anchor="end" dy="0.35em" fill="#222222">CCDC8</text>
<text transform="translate(301.3,1523.5) rotate(-59.5)" font-size="24.3" text-anchor="end" dy="0.35em" fill="#222222">TNFRSF12A</text>
<text transform="translate(324.0,1534.4) rotate(-63.2)" font-size="24.3" text-anchor="end" dy="0.35em" fill="#222222">FABP5</text>
<text transform="translate(347.6,1544.1) rotate(-66.9)" font-size="24.3" text-anchor="end" dy="0.35em" fill="#222222">SERPINE1</text>
<text transform="translate(371.9,1552.5) rotate(-70.5)" font-size="24.3" text-anchor="end" dy="0.35em" fill="#222222">PLAU</text>
<text transform="translate(396.8,1559.5) rotate(-74.1)" font-size="24.3" text-anchor="end" dy="0.35em" fill="#222222">THBS1</text>
<text transform="translate(422.3,1565.1) rotate(-77.6)" font-size="24.3" text-anchor="end" dy="0.35em" fill="#222222">VASN</text>
<text transform="translate(448.2,1569.4) rotate(-81.2)" font-size="24.3" text-anchor="end" dy="0.35em" fill="#222222">PTX3</text>
<text transform="translate(474.4,1572.3) rotate(-84.7)" font-size="24.3" text-anchor="end" dy="0.35em" fill="#222222">COL4A2</text>
<text transform="translate(500.8,1573.7) rotate(-88.2)" font-size="24.3" text-anchor="end" dy="0.35em" fill="#222222">LUM</text>
<text transform="translate(50.8,937.0) scale(0.8800,1)" font-size="48.5" fill="#0d0d0d">C</text>
<defs><linearGradient id="lfc" x1="0" y1="0" x2="1" y2="0"><stop offset="0" stop-color="#f18c78"/><stop offset="1" stop-color="#ee4a40"/></linearGradient></defs>
<text transform="translate(752.5,1551.3) scale(1.0200,1)" font-size="24" fill="#222222">LogFC</text>
<rect x="748.6" y="1558.5" width="82.4" height="15.8" rx="4" fill="url(#lfc)"/>
<text transform="translate(755.2,1596.0) scale(1.0200,1)" font-size="23.5" text-anchor="middle" fill="#222222">2</text>
<text transform="translate(833.0,1596.0) scale(1.0200,1)" font-size="23.5" text-anchor="middle" fill="#222222">3</text>
<text transform="translate(80.0,1809.0) scale(1.0200,1)" font-size="24.2" fill="#222222">GO Terms</text>
<rect x="206.6" y="1692.4" width="16.4" height="16.4" fill="#e8cc24" stroke="#111" stroke-width="2.6"/>
<text transform="translate(231.6,1707.4) scale(1.0170,1)" font-size="24.5" fill="#222222">Collagen fibril organization</text>
<rect x="206.6" y="1722.0" width="16.4" height="16.4" fill="#58aa2e" stroke="#111" stroke-width="2.6"/>
<text transform="translate(231.6,1737.0) scale(1.0170,1)" font-size="24.5" fill="#222222">Blood coagulation</text>
<rect x="206.6" y="1751.7" width="16.4" height="16.4" fill="#2a9fe8" stroke="#111" stroke-width="2.6"/>
<text transform="translate(231.6,1766.7) scale(1.0170,1)" font-size="24.5" fill="#222222">Negative regulation of hydrolase activity</text>
<rect x="206.6" y="1781.3" width="16.4" height="16.4" fill="#4a3a98" stroke="#111" stroke-width="2.6"/>
<text transform="translate(231.6,1796.3) scale(0.9450,1)" font-size="24.5" fill="#222222">Collagen-activated tyrosine kinase receptor signaling pathway</text>
<rect x="206.6" y="1811.0" width="16.4" height="16.4" fill="#ee1f4f" stroke="#111" stroke-width="2.6"/>
<text transform="translate(231.6,1826.0) scale(1.0170,1)" font-size="24.5" fill="#222222">Phagocytosis</text>
<rect x="206.6" y="1840.6" width="16.4" height="16.4" fill="#e3201c" stroke="#111" stroke-width="2.6"/>
<text transform="translate(231.6,1855.6) scale(1.0170,1)" font-size="24.5" fill="#222222">Extracellular matrix organization</text>
<rect x="206.6" y="1870.2" width="16.4" height="16.4" fill="#bfd030" stroke="#111" stroke-width="2.6"/>
<text transform="translate(231.6,1885.2) scale(0.9560,1)" font-size="24.5" fill="#222222">Cellular response to transforming growth factor beta stimulus</text>
<rect x="206.6" y="1899.9" width="16.4" height="16.4" fill="#62b456" stroke="#111" stroke-width="2.6"/>
<text transform="translate(231.6,1914.9) scale(1.0170,1)" font-size="24.5" fill="#222222">Hemostasis</text>
<rect x="206.6" y="1929.5" width="16.4" height="16.4" fill="#1f6ac0" stroke="#111" stroke-width="2.6"/>
<text transform="translate(231.6,1944.5) scale(1.0170,1)" font-size="24.5" fill="#222222">Fibrinolysis</text>
<rect x="206.6" y="1959.2" width="16.4" height="16.4" fill="#8a3aa8" stroke="#111" stroke-width="2.6"/>
<text transform="translate(231.6,1974.2) scale(1.0170,1)" font-size="24.5" fill="#222222">Regulation of wound healing</text>
<rect x="206.6" y="1988.8" width="16.4" height="16.4" fill="#e8501c" stroke="#111" stroke-width="2.6"/>
<text transform="translate(231.6,2003.8) scale(1.0170,1)" font-size="24.5" fill="#222222">Extracellular structure organization</text>
<rect x="206.6" y="2018.4" width="16.4" height="16.4" fill="#92c42a" stroke="#111" stroke-width="2.6"/>
<text transform="translate(231.6,2033.4) scale(1.0170,1)" font-size="24.5" fill="#222222">Response to transforming growth factor beta</text>
<rect x="206.6" y="2048.1" width="16.4" height="16.4" fill="#62bc9c" stroke="#111" stroke-width="2.6"/>
<text transform="translate(231.6,2063.1) scale(1.0170,1)" font-size="24.5" fill="#222222">Coagulation</text>
<rect x="206.6" y="2077.7" width="16.4" height="16.4" fill="#2a54ba" stroke="#111" stroke-width="2.6"/>
<text transform="translate(231.6,2092.7) scale(1.0170,1)" font-size="24.5" fill="#222222">Long-chain fatty acid transport</text>
<rect x="206.6" y="2107.4" width="16.4" height="16.4" fill="#b840a0" stroke="#111" stroke-width="2.6"/>
<text transform="translate(231.6,2122.4) scale(0.9710,1)" font-size="24.5" fill="#222222">Transforming growth factor beta receptor signaling pathway</text>
<rect x="206.6" y="2137.0" width="16.4" height="16.4" fill="#f08c1e" stroke="#111" stroke-width="2.6"/>
<text transform="translate(231.6,2152.0) scale(1.0170,1)" font-size="24.5" fill="#222222">External encapsulating structure organization</text>
<rect x="206.6" y="2166.6" width="16.4" height="16.4" fill="#6cc02c" stroke="#111" stroke-width="2.6"/>
<text transform="translate(231.6,2181.6) scale(1.0170,1)" font-size="24.5" fill="#222222">Skeletal system development</text>
<rect x="206.6" y="2196.3" width="16.4" height="16.4" fill="#6cc6de" stroke="#111" stroke-width="2.6"/>
<text transform="translate(231.6,2211.3) scale(1.0170,1)" font-size="24.5" fill="#222222">Plasminogen activation</text>
<rect x="206.6" y="2225.9" width="16.4" height="16.4" fill="#2448a8" stroke="#111" stroke-width="2.6"/>
<text transform="translate(231.6,2240.9) scale(1.0170,1)" font-size="24.5" fill="#222222">Cell adhesion mediated by integrin</text>
<rect x="206.6" y="2255.6" width="16.4" height="16.4" fill="#f0209a" stroke="#111" stroke-width="2.6"/>
<text transform="translate(231.6,2270.6) scale(1.0170,1)" font-size="24.5" fill="#222222">Response to mechanical stimulus</text>
<text transform="translate(978.1,937.1) scale(0.8800,1)" font-size="48.5" fill="#0d0d0d">D</text>
<path d="M1047.7,1350.7 L1047.8,1346.1 L1047.9,1341.6 L1048.0,1338.5 L1048.1,1333.1 L1048.2,1330.0 L1048.3,1325.4 L1048.4,1320.6 L1048.6,1317.4 L1048.7,1312.2 L1048.8,1308.9 L1048.9,1304.0 L1049.0,1299.9 L1049.1,1296.4 L1049.2,1293.2 L1049.3,1287.5 L1049.4,1283.5 L1049.6,1280.2 L1049.7,1276.8 L1049.8,1271.8 L1049.9,1267.3 L1050.0,1263.3 L1050.4,1260.2 L1050.8,1254.0 L1051.2,1251.6 L1051.7,1246.2 L1052.1,1241.7 L1052.5,1237.5 L1052.9,1233.7 L1053.3,1230.7 L1053.8,1225.1 L1054.2,1221.8 L1054.6,1217.8 L1055.0,1213.1 L1055.4,1209.3 L1055.8,1204.0 L1056.2,1199.9 L1056.7,1196.7 L1057.5,1191.9 L1058.3,1188.7 L1059.2,1184.0 L1060.0,1180.0 L1060.3,1175.5 L1060.7,1172.0 L1061.0,1167.7 L1061.3,1163.3 L1061.7,1160.3 L1062.0,1156.0 L1062.3,1150.9 L1062.7,1147.6 L1063.0,1143.4 L1063.3,1140.1 L1063.7,1135.7 L1064.0,1130.6 L1064.3,1128.1 L1064.7,1122.1 L1065.0,1118.7 L1065.3,1115.4 L1065.7,1110.0 L1066.0,1106.7 L1070.0,1105.0 L1070.8,1100.8 L1071.7,1095.7 L1072.5,1092.9 L1073.3,1088.9 L1074.2,1084.3 L1075.0,1080.0 L1076.4,1075.8 L1077.9,1069.6 L1079.3,1065.0 L1081.7,1057.3 L1088.3,1057.3 L1093.3,1058.3 L1096.7,1053.8 L1100.0,1048.3 L1104.2,1049.4 L1108.3,1050.0 L1112.5,1052.2 L1116.7,1054.0 L1120.0,1050.7 L1124.4,1053.5 L1128.9,1057.2 L1133.3,1059.3 L1137.8,1061.6 L1142.2,1061.9 L1146.7,1063.3 L1150.7,1067.4 L1154.8,1069.7 L1158.9,1074.7 L1163.0,1078.3 L1167.0,1082.7 L1171.1,1086.0 L1175.2,1088.5 L1179.3,1092.3 L1183.3,1096.6 L1187.4,1098.9 L1191.5,1103.5 L1195.6,1106.5 L1199.6,1110.0 L1203.7,1113.6 L1207.8,1118.8 L1211.9,1121.0 L1215.9,1125.0 L1220.0,1128.9 L1224.1,1133.6 L1228.1,1135.6 L1232.2,1140.0 L1236.3,1143.9 L1240.4,1148.3 L1244.4,1151.8 L1248.5,1155.6 L1252.6,1157.9 L1256.7,1161.9 L1260.7,1165.4 L1264.8,1170.2 L1268.9,1174.1 L1273.0,1175.9 L1277.0,1179.7 L1281.1,1183.4 L1285.2,1187.1 L1289.3,1191.3 L1293.3,1195.0 L1297.4,1198.8 L1301.4,1201.8 L1305.5,1204.8 L1309.5,1209.4 L1313.5,1212.9 L1317.6,1217.0 L1321.6,1221.5 L1325.7,1224.5 L1329.7,1227.8 L1333.7,1231.6 L1337.8,1235.4 L1341.8,1237.7 L1345.9,1243.2 L1349.9,1246.5 L1353.9,1250.4 L1358.0,1253.8 L1362.0,1256.6 L1366.1,1260.2 L1370.1,1263.2 L1374.1,1268.0 L1378.2,1270.4 L1382.2,1274.0 L1386.3,1278.0 L1390.3,1281.5 L1394.3,1285.6 L1398.4,1288.6 L1402.4,1292.1 L1406.5,1296.1 L1410.5,1299.6 L1414.5,1303.8 L1418.6,1306.7 L1422.6,1312.2 L1426.7,1315.0 L1430.8,1319.8 L1435.0,1323.4 L1439.2,1328.2 L1443.3,1333.3 L1447.5,1336.7 L1451.7,1340.5 L1455.8,1343.8 L1460.0,1348.3" fill="none" stroke="#d8207f" stroke-width="3.1" stroke-linejoin="round"/>
<path d="M1047.7,1350.7 L1047.9,1347.4 L1048.1,1343.8 L1048.3,1338.6 L1048.5,1334.6 L1048.8,1329.8 L1049.0,1325.8 L1049.2,1322.3 L1049.4,1318.1 L1049.6,1315.4 L1049.8,1309.9 L1050.1,1305.6 L1050.3,1303.7 L1050.5,1298.7 L1050.7,1293.9 L1050.9,1290.8 L1051.2,1285.6 L1051.4,1282.7 L1051.6,1279.7 L1051.8,1275.5 L1052.0,1271.1 L1052.2,1266.1 L1052.5,1262.4 L1052.7,1257.9 L1052.9,1255.3 L1053.1,1250.7 L1053.3,1246.7 L1053.8,1243.3 L1054.2,1238.3 L1054.7,1234.1 L1055.1,1231.4 L1055.6,1227.7 L1056.0,1223.4 L1056.4,1219.3 L1056.9,1215.4 L1057.3,1211.2 L1057.8,1206.1 L1058.2,1202.7 L1058.7,1198.3 L1059.1,1193.6 L1059.6,1189.6 L1060.0,1186.7 L1060.9,1181.9 L1061.8,1177.7 L1062.7,1174.4 L1063.6,1170.7 L1064.5,1165.3 L1065.5,1162.2 L1066.4,1158.0 L1067.3,1153.7 L1068.2,1148.2 L1069.1,1143.6 L1070.0,1140.0 L1072.2,1135.0 L1074.4,1130.4 L1076.7,1126.0 L1078.9,1122.5 L1081.1,1118.7 L1083.3,1113.3 L1085.4,1109.5 L1087.5,1104.1 L1089.6,1099.9 L1091.7,1095.0 L1095.8,1093.2 L1100.0,1090.0 L1105.0,1090.4 L1110.0,1092.7 L1114.4,1092.5 L1118.9,1092.5 L1123.3,1091.0 L1127.8,1093.5 L1132.2,1095.3 L1136.7,1096.7 L1141.7,1098.3 L1146.7,1100.0 L1150.7,1102.6 L1154.7,1107.3 L1158.7,1109.6 L1162.7,1114.0 L1166.7,1116.7 L1170.8,1121.3 L1174.8,1123.6 L1178.9,1127.3 L1183.0,1132.1 L1187.1,1135.2 L1191.2,1137.6 L1195.3,1141.1 L1199.4,1144.7 L1203.4,1150.0 L1207.5,1153.4 L1211.6,1155.5 L1215.7,1160.6 L1219.8,1164.6 L1223.9,1167.4 L1228.0,1170.4 L1232.0,1174.4 L1236.1,1177.1 L1240.2,1180.4 L1244.3,1186.1 L1248.4,1189.0 L1252.5,1192.4 L1256.6,1196.9 L1260.6,1199.4 L1264.7,1203.9 L1268.8,1207.4 L1272.9,1209.7 L1277.0,1213.4 L1281.1,1217.1 L1285.2,1220.6 L1289.2,1224.9 L1293.3,1228.3 L1297.4,1231.5 L1301.4,1235.5 L1305.5,1238.6 L1309.6,1244.0 L1313.6,1246.5 L1317.7,1250.4 L1321.7,1254.4 L1325.8,1258.8 L1329.9,1261.4 L1333.9,1266.2 L1338.0,1269.0 L1342.0,1272.8 L1346.1,1276.4 L1350.1,1279.0 L1354.2,1283.6 L1358.3,1286.8 L1362.3,1290.1 L1366.4,1295.5 L1370.4,1297.8 L1374.5,1302.2 L1378.6,1306.4 L1382.6,1309.8 L1386.7,1313.3 L1390.7,1316.3 L1394.7,1320.0 L1398.7,1323.5 L1402.7,1327.3 L1406.7,1330.0 L1410.7,1332.5 L1414.7,1336.8 L1418.7,1339.4 L1422.7,1342.8 L1426.7,1346.7 L1431.1,1346.2 L1435.6,1344.5 L1440.0,1343.3 L1444.2,1344.6 L1448.3,1346.1 L1452.5,1347.6 L1456.7,1347.7 L1460.8,1349.1 L1465.0,1350.0" fill="none" stroke="#5dc2c6" stroke-width="3.1" stroke-linejoin="round"/>
<path d="M1047.7,1350.7 L1047.7,1346.5 L1047.8,1342.4 L1047.8,1338.6 L1047.9,1333.9 L1048.0,1330.0 L1048.0,1325.7 L1048.1,1322.5 L1048.1,1317.9 L1048.2,1314.1 L1048.3,1310.1 L1048.3,1304.4 L1048.4,1300.9 L1048.4,1297.6 L1048.5,1293.2 L1048.5,1287.5 L1048.6,1283.3 L1048.7,1280.0 L1048.8,1275.7 L1048.9,1270.8 L1049.0,1267.0 L1049.0,1262.6 L1049.1,1259.7 L1049.2,1255.9 L1049.3,1252.0 L1049.4,1246.2 L1049.5,1243.3 L1049.6,1239.1 L1049.7,1233.8 L1049.8,1231.3 L1049.9,1227.4 L1050.0,1221.6 L1050.1,1219.1 L1050.2,1213.7 L1050.3,1209.8 L1050.4,1206.8 L1050.5,1202.3 L1050.6,1196.7 L1050.7,1193.3 L1050.9,1189.2 L1051.2,1185.4 L1051.4,1181.0 L1051.7,1176.7 L1051.9,1172.9 L1052.2,1169.8 L1052.4,1164.3 L1052.7,1161.5 L1052.9,1157.2 L1053.2,1152.3 L1053.4,1149.0 L1053.7,1145.6 L1053.9,1141.4 L1054.2,1136.4 L1054.4,1134.4 L1054.7,1130.0 L1054.9,1126.4 L1055.2,1120.5 L1055.4,1116.8 L1055.7,1112.3 L1055.9,1109.9 L1056.2,1104.8 L1056.4,1100.5 L1056.7,1097.3 L1060.7,1094.9 L1064.7,1093.7 L1068.7,1091.3 L1072.7,1088.3 L1072.9,1083.5 L1073.0,1079.0 L1073.2,1076.5 L1073.4,1071.5 L1073.6,1067.5 L1073.8,1061.9 L1074.0,1057.5 L1074.1,1054.7 L1074.3,1050.0 L1075.9,1045.8 L1077.4,1041.0 L1078.9,1038.8 L1080.4,1034.1 L1082.0,1030.4 L1083.5,1024.8 L1085.0,1021.7 L1090.0,1025.2 L1095.0,1026.3 L1100.0,1030.0 L1104.2,1033.1 L1108.3,1034.5 L1112.5,1036.5 L1116.7,1039.3 L1120.8,1042.4 L1125.0,1043.2 L1129.2,1045.2 L1133.3,1048.3 L1137.8,1052.3 L1142.2,1055.5 L1146.7,1059.1 L1151.1,1063.1 L1155.6,1066.8 L1160.0,1071.7 L1164.0,1074.7 L1168.1,1078.6 L1172.1,1082.3 L1176.2,1087.0 L1180.2,1089.6 L1184.2,1093.8 L1188.3,1096.8 L1192.3,1100.8 L1196.4,1103.8 L1200.4,1108.0 L1204.4,1111.2 L1208.5,1116.4 L1212.5,1119.7 L1216.6,1122.6 L1220.6,1126.9 L1224.6,1131.6 L1228.7,1133.5 L1232.7,1138.7 L1236.8,1141.6 L1240.8,1145.4 L1244.8,1149.8 L1248.9,1152.5 L1252.9,1156.5 L1257.0,1160.6 L1261.0,1164.9 L1265.1,1167.2 L1269.1,1171.9 L1273.1,1175.4 L1277.2,1178.9 L1281.2,1182.1 L1285.3,1185.6 L1289.3,1188.7 L1293.3,1193.3 L1297.4,1196.3 L1301.4,1200.0 L1305.5,1205.3 L1309.5,1208.0 L1313.6,1211.6 L1317.6,1215.3 L1321.7,1220.8 L1325.7,1224.6 L1329.8,1228.0 L1333.8,1230.9 L1337.9,1234.7 L1341.9,1238.6 L1346.0,1242.8 L1350.0,1245.9 L1354.0,1250.4 L1358.1,1253.8 L1362.1,1259.1 L1366.2,1262.9 L1370.2,1265.8 L1374.3,1269.0 L1378.3,1274.4 L1382.4,1276.7 L1386.4,1280.6 L1390.5,1283.7 L1394.5,1288.3 L1398.6,1292.3 L1402.6,1296.2 L1406.7,1300.0 L1411.3,1302.3 L1416.0,1306.0 L1420.7,1307.9 L1425.3,1311.5 L1430.0,1315.0" fill="none" stroke="#1c6a94" stroke-width="3.1" stroke-linejoin="round"/>
<path d="M1047.7,1350.7 L1048.0,1345.7 L1048.4,1342.3 L1048.8,1337.5 L1049.2,1333.4 L1049.5,1330.0 L1049.9,1325.7 L1050.3,1322.5 L1050.7,1318.3 L1051.0,1314.7 L1051.4,1310.5 L1051.8,1306.5 L1052.2,1302.8 L1052.5,1297.7 L1052.9,1293.5 L1053.3,1290.9 L1053.7,1285.0 L1054.0,1282.2 L1054.4,1278.0 L1054.8,1272.6 L1055.2,1270.3 L1055.5,1266.4 L1055.9,1261.7 L1056.3,1257.9 L1056.7,1253.3 L1057.2,1249.9 L1057.7,1244.3 L1058.2,1241.1 L1058.7,1236.9 L1059.2,1233.6 L1059.7,1229.4 L1060.3,1225.3 L1060.8,1220.7 L1061.3,1217.3 L1061.8,1212.7 L1062.3,1208.6 L1062.8,1203.5 L1063.3,1200.0 L1065.6,1194.5 L1067.8,1190.3 L1070.0,1186.7 L1071.3,1182.4 L1072.7,1177.8 L1074.0,1175.4 L1075.3,1170.8 L1076.7,1166.7 L1078.7,1162.9 L1080.7,1158.9 L1082.7,1155.1 L1084.7,1150.6 L1086.7,1146.7 L1093.3,1140.0 L1095.8,1134.7 L1098.3,1132.3 L1100.8,1128.0 L1103.3,1123.3 L1107.8,1120.6 L1112.2,1117.9 L1116.7,1115.0 L1120.8,1114.9 L1125.0,1113.2 L1129.2,1114.3 L1133.3,1113.3 L1137.8,1112.6 L1142.2,1112.0 L1146.7,1112.7 L1151.1,1113.5 L1155.6,1115.8 L1160.0,1116.7 L1164.2,1118.5 L1168.3,1122.2 L1172.5,1125.2 L1176.7,1126.7 L1180.8,1128.9 L1185.0,1131.6 L1189.2,1134.6 L1193.3,1136.7 L1197.3,1140.6 L1201.3,1143.6 L1205.3,1147.0 L1209.3,1149.1 L1213.3,1152.6 L1217.3,1156.1 L1221.3,1160.5 L1225.3,1162.9 L1229.3,1166.8 L1233.3,1168.9 L1237.3,1172.4 L1241.3,1176.2 L1245.3,1180.4 L1249.3,1183.8 L1253.3,1187.1 L1257.3,1189.5 L1261.3,1193.4 L1265.3,1196.6 L1269.3,1199.9 L1273.3,1202.5 L1277.3,1207.5 L1281.3,1209.3 L1285.3,1214.4 L1289.3,1217.6 L1293.3,1220.0 L1297.3,1222.5 L1301.3,1227.0 L1305.3,1231.4 L1309.3,1235.3 L1313.3,1237.7 L1317.3,1240.8 L1321.3,1244.3 L1325.3,1249.4 L1329.3,1251.4 L1333.3,1255.7 L1337.3,1258.3 L1341.3,1262.7 L1345.3,1267.2 L1349.3,1269.0 L1353.3,1273.3 L1357.3,1277.7 L1361.3,1280.7 L1365.3,1285.2 L1369.3,1288.4 L1373.3,1291.1 L1377.3,1296.2 L1381.3,1299.0 L1385.3,1301.6 L1389.3,1305.2 L1393.3,1310.0 L1397.5,1312.9 L1401.7,1315.7 L1405.8,1318.3 L1410.0,1320.9 L1414.2,1324.2 L1418.3,1327.1 L1422.5,1331.2 L1426.7,1333.3 L1430.8,1335.6 L1435.0,1340.6 L1439.2,1344.1 L1443.3,1346.7 L1447.7,1349.2 L1452.0,1354.3 L1456.3,1357.1 L1460.7,1360.9 L1465.0,1363.3" fill="none" stroke="#f4981f" stroke-width="3.1" stroke-linejoin="round"/>
<path d="M1047.7,1350.7 L1047.7,1346.0 L1047.8,1342.1 L1047.8,1338.0 L1047.9,1335.1 L1048.0,1330.1 L1048.0,1325.4 L1048.1,1321.4 L1048.1,1316.9 L1048.2,1312.3 L1048.3,1308.2 L1048.3,1305.7 L1048.4,1300.3 L1048.4,1297.6 L1048.5,1291.9 L1048.5,1287.8 L1048.6,1284.2 L1048.7,1280.0 L1048.8,1275.3 L1048.9,1271.7 L1049.1,1269.0 L1049.2,1264.8 L1049.3,1260.7 L1049.5,1256.3 L1049.6,1252.9 L1049.7,1249.0 L1049.9,1244.1 L1050.0,1240.5 L1050.1,1235.0 L1050.3,1232.5 L1050.4,1227.9 L1050.5,1224.6 L1050.7,1220.0 L1052.2,1215.9 L1053.8,1210.6 L1055.3,1205.7 L1056.9,1203.2 L1058.4,1197.0 L1060.0,1193.3 L1061.0,1189.3 L1062.0,1185.0 L1063.0,1180.9 L1064.0,1177.9 L1065.0,1174.4 L1066.0,1168.8 L1067.0,1165.7 L1068.0,1160.9 L1069.0,1157.5 L1070.0,1153.3 L1071.7,1148.9 L1073.3,1144.3 L1075.0,1140.1 L1076.7,1136.0 L1078.3,1133.4 L1080.0,1128.3 L1081.7,1123.6 L1083.3,1120.0 L1084.2,1116.9 L1085.0,1113.1 L1085.8,1107.9 L1086.7,1103.2 L1087.5,1099.3 L1088.3,1095.1 L1089.2,1091.7 L1090.0,1087.1 L1090.8,1083.4 L1091.7,1080.0 L1092.2,1075.2 L1092.8,1071.7 L1093.3,1067.3 L1094.3,1063.8 L1095.2,1059.1 L1096.2,1054.0 L1097.1,1049.6 L1098.1,1045.5 L1099.0,1040.8 L1100.0,1036.7 L1101.7,1033.3 L1106.7,1035.2 L1111.7,1036.8 L1116.7,1040.0 L1121.7,1040.1 L1126.7,1042.1 L1131.7,1041.7 L1135.4,1045.0 L1139.2,1050.0 L1142.9,1054.5 L1146.7,1058.3 L1150.7,1062.9 L1154.8,1065.2 L1158.9,1069.0 L1163.0,1072.7 L1167.0,1076.8 L1171.1,1080.6 L1175.2,1085.5 L1179.3,1089.0 L1183.3,1092.7 L1187.4,1094.6 L1191.5,1098.4 L1195.6,1103.6 L1199.6,1107.7 L1203.7,1110.5 L1207.8,1114.5 L1211.9,1116.9 L1215.9,1121.5 L1220.0,1126.4 L1224.1,1129.9 L1228.1,1133.7 L1232.2,1137.7 L1236.3,1139.9 L1240.4,1143.3 L1244.4,1147.1 L1248.5,1151.7 L1252.6,1155.8 L1256.7,1160.1 L1260.7,1163.3 L1264.8,1166.9 L1268.9,1170.9 L1273.0,1173.9 L1277.0,1177.9 L1281.1,1180.5 L1285.2,1185.8 L1289.3,1188.3 L1293.3,1192.7 L1297.4,1197.2 L1301.4,1200.3 L1305.5,1203.2 L1309.5,1206.5 L1313.5,1210.4 L1317.6,1214.9 L1321.6,1218.7 L1325.7,1221.1 L1329.7,1224.6 L1333.7,1229.3 L1337.8,1233.1 L1341.8,1236.3 L1345.9,1239.6 L1349.9,1244.1 L1353.9,1246.4 L1358.0,1250.7 L1362.0,1254.7 L1366.1,1259.5 L1370.1,1262.5 L1374.1,1266.6 L1378.2,1269.4 L1382.2,1272.5 L1386.3,1276.2 L1390.3,1281.4 L1394.3,1284.5 L1398.4,1287.3 L1402.4,1290.3 L1406.5,1295.0 L1410.5,1299.1 L1414.5,1302.2 L1418.6,1305.5 L1422.6,1310.0 L1426.7,1313.3 L1430.0,1318.9 L1433.3,1321.9 L1436.7,1326.1 L1440.0,1331.7 L1445.8,1333.8 L1451.7,1336.7" fill="none" stroke="#b35fa6" stroke-width="3.1" stroke-linejoin="round"/>
<path d="M1047.7,1350.7 L1047.9,1346.5 L1048.2,1343.1 L1048.5,1338.0 L1048.8,1335.3 L1049.1,1331.2 L1049.4,1326.7 L1049.6,1322.0 L1049.9,1319.7 L1050.2,1314.3 L1050.5,1311.4 L1050.8,1306.1 L1051.1,1302.1 L1051.3,1299.2 L1051.6,1294.2 L1051.9,1291.7 L1052.2,1286.7 L1052.5,1282.0 L1052.7,1278.1 L1053.0,1274.5 L1053.3,1271.0 L1053.6,1267.7 L1053.9,1261.9 L1054.2,1258.4 L1054.4,1254.0 L1054.7,1251.7 L1055.0,1246.7 L1055.5,1241.8 L1056.0,1237.5 L1056.5,1233.4 L1057.1,1230.0 L1057.6,1227.0 L1058.1,1222.9 L1058.6,1218.5 L1059.1,1214.9 L1059.6,1210.7 L1060.1,1205.3 L1060.6,1200.8 L1061.2,1198.4 L1061.7,1193.3 L1063.3,1189.4 L1065.0,1183.4 L1066.7,1180.0 L1067.7,1176.0 L1068.7,1171.1 L1069.7,1166.7 L1070.7,1162.3 L1071.7,1157.6 L1072.7,1152.9 L1073.7,1149.2 L1074.7,1145.0 L1075.7,1142.0 L1076.7,1136.7 L1078.0,1131.2 L1079.3,1128.4 L1080.7,1122.0 L1082.0,1117.7 L1083.3,1113.3 L1087.5,1110.7 L1091.7,1106.7 L1097.5,1104.9 L1103.3,1101.7 L1107.8,1103.0 L1112.2,1103.6 L1116.7,1106.0 L1121.7,1108.8 L1126.7,1111.7 L1131.1,1112.5 L1135.6,1114.8 L1140.0,1115.0 L1144.0,1116.7 L1148.0,1119.4 L1152.0,1122.9 L1156.0,1123.3 L1160.0,1126.7 L1164.0,1129.8 L1168.0,1134.0 L1172.0,1137.3 L1176.0,1139.0 L1180.0,1143.3 L1184.0,1145.9 L1188.1,1149.5 L1192.1,1155.0 L1196.2,1157.1 L1200.2,1161.7 L1204.3,1165.6 L1208.3,1168.0 L1212.4,1171.4 L1216.4,1176.5 L1220.5,1179.3 L1224.5,1182.1 L1228.6,1186.7 L1232.6,1189.4 L1236.7,1192.8 L1240.7,1195.8 L1244.8,1201.0 L1248.8,1205.0 L1252.9,1207.9 L1256.9,1212.2 L1261.0,1213.7 L1265.0,1217.7 L1269.0,1221.9 L1273.1,1226.5 L1277.1,1230.0 L1281.2,1232.4 L1285.2,1235.6 L1289.3,1239.6 L1293.3,1243.3 L1297.4,1247.2 L1301.4,1252.1 L1305.5,1254.4 L1309.6,1259.7 L1313.6,1263.4 L1317.7,1267.5 L1321.7,1271.3 L1325.8,1274.9 L1329.9,1278.2 L1333.9,1282.1 L1338.0,1286.1 L1342.0,1290.9 L1346.1,1293.3 L1350.1,1297.5 L1354.2,1302.6 L1358.3,1305.4 L1362.3,1308.9 L1366.4,1312.7 L1370.4,1317.8 L1374.5,1321.2 L1378.6,1326.6 L1382.6,1330.3 L1386.7,1333.3 L1390.8,1337.7 L1395.0,1339.5 L1399.2,1342.4 L1403.3,1346.7 L1407.8,1346.9 L1412.2,1348.9 L1416.7,1350.0 L1420.0,1354.9 L1423.3,1358.8 L1426.7,1363.3 L1431.7,1359.4 L1436.7,1356.7 L1440.7,1355.5 L1444.8,1355.0 L1448.8,1354.2 L1452.9,1353.4 L1456.9,1352.7 L1461.0,1351.3 L1465.0,1350.0" fill="none" stroke="#c5392c" stroke-width="3.1" stroke-linejoin="round"/>
<path d="M1047.7,1350.7 L1048.0,1345.7 L1048.3,1343.2 L1048.6,1338.0 L1048.9,1334.5 L1049.3,1330.0 L1049.6,1326.7 L1049.9,1321.4 L1050.2,1317.4 L1050.5,1313.3 L1050.9,1309.0 L1051.2,1306.6 L1051.5,1301.8 L1051.8,1297.2 L1052.1,1293.2 L1052.4,1290.4 L1052.8,1285.3 L1053.1,1280.6 L1053.4,1277.8 L1053.7,1273.4 L1054.0,1270.0 L1054.4,1264.0 L1054.7,1260.7 L1055.0,1256.7 L1055.6,1253.2 L1056.1,1249.1 L1056.7,1245.1 L1057.2,1239.0 L1057.8,1235.4 L1058.3,1230.8 L1058.9,1226.8 L1059.4,1224.4 L1060.0,1219.3 L1060.6,1215.9 L1061.1,1210.6 L1061.7,1206.7 L1063.3,1203.3 L1065.0,1198.2 L1066.7,1193.6 L1068.3,1190.0 L1069.5,1186.3 L1070.7,1182.4 L1071.9,1176.3 L1073.1,1173.1 L1074.3,1168.8 L1075.5,1163.7 L1076.7,1160.0 L1079.2,1155.5 L1081.7,1150.9 L1084.2,1146.8 L1086.7,1143.3 L1093.3,1136.7 L1098.3,1132.0 L1103.3,1128.3 L1107.8,1130.2 L1112.2,1132.0 L1116.7,1133.3 L1121.7,1131.0 L1126.7,1130.0 L1130.7,1129.3 L1134.7,1130.3 L1138.7,1131.4 L1142.7,1130.6 L1146.7,1131.7 L1151.1,1134.0 L1155.6,1136.6 L1160.0,1140.0 L1164.0,1143.6 L1168.0,1146.1 L1172.0,1148.0 L1176.0,1151.1 L1180.0,1155.0 L1184.0,1158.0 L1188.1,1161.7 L1192.1,1165.1 L1196.2,1167.2 L1200.2,1170.6 L1204.3,1175.1 L1208.3,1177.7 L1212.4,1180.7 L1216.4,1184.0 L1220.5,1188.7 L1224.5,1190.6 L1228.6,1194.4 L1232.6,1197.2 L1236.7,1200.6 L1240.7,1204.9 L1244.8,1208.5 L1248.8,1210.4 L1252.9,1213.3 L1256.9,1217.7 L1261.0,1219.8 L1265.0,1222.7 L1269.0,1227.9 L1273.1,1230.1 L1277.1,1234.3 L1281.2,1236.6 L1285.2,1241.0 L1289.3,1243.3 L1293.3,1246.7 L1297.4,1249.9 L1301.5,1253.5 L1305.6,1258.6 L1309.7,1262.7 L1313.8,1267.3 L1317.9,1269.4 L1322.0,1274.5 L1326.1,1277.9 L1330.2,1282.1 L1334.2,1285.3 L1338.3,1289.5 L1342.4,1294.0 L1346.5,1298.8 L1350.6,1301.0 L1354.7,1305.7 L1358.8,1310.4 L1362.9,1314.7 L1367.0,1316.9 L1371.1,1320.7 L1375.2,1326.4 L1379.2,1330.4 L1383.3,1333.3 L1387.5,1337.5 L1391.7,1340.7 L1395.8,1346.8 L1400.0,1350.0 L1404.2,1351.8 L1408.3,1355.1 L1412.5,1356.5 L1416.7,1358.3 L1421.1,1361.8 L1425.6,1363.1 L1430.0,1366.7 L1434.4,1365.1 L1438.9,1361.6 L1443.3,1360.0 L1447.5,1360.6 L1451.7,1362.4 L1455.8,1363.2 L1460.0,1363.3 L1462.5,1356.8 L1465.0,1351.7" fill="none" stroke="#c5d62f" stroke-width="3.1" stroke-linejoin="round"/>
<path d="M1047.7,1350.7 L1047.9,1346.0 L1048.1,1342.3 L1048.4,1338.5 L1048.6,1334.2 L1048.8,1329.6 L1049.1,1325.8 L1049.3,1322.8 L1049.6,1319.1 L1049.8,1313.2 L1050.0,1310.2 L1050.3,1306.6 L1050.5,1301.0 L1050.7,1298.7 L1051.0,1293.0 L1051.2,1290.1 L1051.4,1285.9 L1051.7,1282.0 L1051.9,1277.2 L1052.2,1273.4 L1052.4,1269.7 L1052.6,1265.3 L1052.9,1261.8 L1053.1,1257.3 L1053.3,1253.3 L1053.8,1249.2 L1054.2,1244.3 L1054.7,1241.6 L1055.1,1237.3 L1055.6,1232.8 L1056.0,1229.9 L1056.4,1225.9 L1056.9,1221.2 L1057.3,1216.6 L1057.8,1213.3 L1058.2,1208.5 L1058.7,1204.5 L1059.1,1201.2 L1059.6,1196.4 L1060.0,1193.3 L1060.9,1189.0 L1061.8,1184.9 L1062.7,1179.6 L1063.6,1176.7 L1064.5,1171.2 L1065.5,1168.4 L1066.4,1164.2 L1067.3,1159.4 L1068.2,1154.2 L1069.1,1150.9 L1070.0,1146.7 L1071.3,1142.4 L1072.7,1139.7 L1074.0,1133.9 L1075.3,1131.5 L1076.7,1126.7 L1080.0,1122.8 L1083.3,1117.2 L1086.7,1111.7 L1093.3,1108.3 L1098.3,1110.7 L1103.3,1111.7 L1107.8,1111.5 L1112.2,1113.8 L1116.7,1113.3 L1121.7,1115.0 L1126.7,1116.7 L1131.1,1118.8 L1135.6,1119.8 L1140.0,1120.0 L1144.0,1119.9 L1148.0,1122.0 L1152.0,1122.9 L1156.0,1121.7 L1160.0,1123.3 L1164.0,1124.3 L1168.0,1126.6 L1172.0,1126.6 L1176.0,1129.5 L1180.0,1130.0 L1184.0,1133.0 L1188.1,1137.6 L1192.1,1139.6 L1196.2,1143.8 L1200.2,1148.2 L1204.3,1150.1 L1208.3,1153.6 L1212.4,1157.6 L1216.4,1160.7 L1220.5,1163.5 L1224.5,1167.3 L1228.6,1170.7 L1232.6,1175.8 L1236.7,1178.7 L1240.7,1182.7 L1244.8,1184.5 L1248.8,1189.3 L1252.9,1191.3 L1256.9,1195.7 L1261.0,1199.3 L1265.0,1202.2 L1269.0,1206.8 L1273.1,1209.5 L1277.1,1213.0 L1281.2,1217.2 L1285.2,1218.9 L1289.3,1224.3 L1293.3,1226.7 L1297.3,1230.6 L1301.3,1233.6 L1305.3,1238.1 L1309.3,1240.5 L1313.3,1245.7 L1317.3,1248.4 L1321.3,1251.6 L1325.3,1256.0 L1329.3,1258.9 L1333.3,1262.0 L1337.3,1266.8 L1341.3,1268.9 L1345.3,1274.2 L1349.3,1276.5 L1353.3,1281.0 L1357.3,1285.3 L1361.3,1288.1 L1365.3,1291.8 L1369.3,1294.7 L1373.3,1297.6 L1377.3,1301.2 L1381.3,1305.1 L1385.3,1309.7 L1389.3,1312.9 L1393.3,1316.7 L1397.3,1319.4 L1401.3,1322.9 L1405.3,1323.9 L1409.3,1326.7 L1413.3,1330.0 L1417.8,1334.2 L1422.2,1336.7 L1426.7,1341.7 L1430.8,1340.2 L1435.0,1340.5 L1439.2,1339.6 L1443.3,1340.0 L1447.7,1341.4 L1452.0,1342.7 L1456.3,1345.2 L1460.7,1346.9 L1465.0,1348.3" fill="none" stroke="#5db877" stroke-width="3.1" stroke-linejoin="round"/>
<path d="M1047.7,1350.7 L1048.0,1346.0 L1048.4,1342.9 L1048.7,1338.6 L1049.1,1333.9 L1049.4,1331.6 L1049.7,1326.1 L1050.1,1321.9 L1050.4,1317.8 L1050.8,1315.0 L1051.1,1311.5 L1051.5,1307.3 L1051.8,1302.5 L1052.2,1298.1 L1052.5,1293.6 L1052.9,1291.0 L1053.2,1286.8 L1053.6,1282.3 L1053.9,1279.0 L1054.2,1274.5 L1054.6,1271.6 L1054.9,1267.2 L1055.3,1262.1 L1055.6,1259.6 L1056.0,1253.7 L1056.3,1250.7 L1056.7,1246.7 L1057.2,1242.4 L1057.7,1237.9 L1058.2,1233.4 L1058.7,1230.9 L1059.2,1225.1 L1059.7,1222.2 L1060.3,1218.9 L1060.8,1213.1 L1061.3,1209.1 L1061.8,1205.9 L1062.3,1201.6 L1062.8,1197.7 L1063.3,1193.3 L1065.6,1189.6 L1067.8,1183.7 L1070.0,1180.0 L1071.3,1175.6 L1072.7,1171.6 L1074.0,1167.0 L1075.3,1164.9 L1076.7,1160.0 L1081.7,1156.7 L1083.3,1152.8 L1085.0,1148.3 L1086.7,1143.3 L1093.3,1136.7 L1098.3,1129.7 L1103.3,1125.0 L1106.7,1119.9 L1110.0,1113.3 L1116.7,1111.7 L1120.8,1108.0 L1125.0,1103.3 L1130.8,1107.4 L1136.7,1111.7 L1141.7,1113.0 L1146.7,1113.3 L1151.1,1116.0 L1155.6,1118.3 L1160.0,1121.7 L1164.0,1123.5 L1168.0,1126.4 L1172.0,1128.7 L1176.0,1132.0 L1180.0,1135.0 L1184.0,1139.2 L1188.1,1142.7 L1192.1,1146.7 L1196.2,1150.0 L1200.2,1152.6 L1204.3,1156.9 L1208.3,1160.3 L1212.4,1164.7 L1216.4,1167.7 L1220.5,1170.8 L1224.5,1175.3 L1228.6,1179.6 L1232.6,1181.6 L1236.7,1186.7 L1240.7,1188.4 L1244.8,1192.6 L1248.8,1196.1 L1252.9,1200.9 L1256.9,1205.0 L1261.0,1208.2 L1265.0,1210.9 L1269.0,1215.7 L1273.1,1218.1 L1277.1,1221.6 L1281.2,1226.7 L1285.2,1229.7 L1289.3,1233.5 L1293.3,1236.7 L1297.4,1240.9 L1301.4,1245.5 L1305.5,1248.3 L1309.6,1253.1 L1313.6,1256.7 L1317.7,1260.9 L1321.7,1263.9 L1325.8,1268.5 L1329.9,1272.0 L1333.9,1275.4 L1338.0,1279.1 L1342.0,1283.9 L1346.1,1286.6 L1350.1,1292.4 L1354.2,1294.6 L1358.3,1298.2 L1362.3,1302.3 L1366.4,1308.0 L1370.4,1310.7 L1374.5,1314.1 L1378.6,1317.8 L1382.6,1321.7 L1386.7,1326.7 L1390.7,1330.8 L1394.7,1334.3 L1398.7,1338.1 L1402.7,1341.9 L1406.7,1345.0 L1410.7,1348.4 L1414.7,1353.9 L1418.7,1357.7 L1422.7,1363.0 L1426.7,1366.7 L1431.1,1365.1 L1435.6,1363.1 L1440.0,1360.0 L1444.4,1356.8 L1448.9,1356.4 L1453.3,1353.3 L1459.2,1353.4 L1465.0,1351.7" fill="none" stroke="#e0611c" stroke-width="3.1" stroke-linejoin="round"/>
<path d="M1047.7,1350.7 L1047.9,1347.5 L1048.0,1341.5 L1048.2,1337.5 L1048.4,1333.2 L1048.6,1328.8 L1048.8,1326.5 L1049.0,1322.2 L1049.2,1317.7 L1049.4,1314.0 L1049.6,1309.4 L1049.8,1304.5 L1050.0,1299.9 L1050.1,1295.7 L1050.3,1293.0 L1050.5,1287.6 L1050.7,1283.7 L1050.9,1279.8 L1051.1,1274.8 L1051.3,1271.1 L1051.5,1267.0 L1051.7,1263.3 L1052.0,1259.6 L1052.3,1254.7 L1052.6,1250.4 L1052.9,1247.7 L1053.2,1242.5 L1053.5,1239.1 L1053.9,1234.4 L1054.2,1229.0 L1054.5,1225.6 L1054.8,1221.5 L1055.1,1218.1 L1055.4,1213.0 L1055.7,1209.6 L1056.0,1205.1 L1056.4,1200.2 L1056.7,1196.7 L1057.2,1193.3 L1057.8,1187.4 L1058.3,1184.9 L1058.9,1179.3 L1059.4,1174.7 L1060.0,1171.0 L1060.6,1168.1 L1061.1,1164.4 L1061.7,1158.1 L1062.2,1155.0 L1062.8,1150.8 L1063.3,1146.7 L1064.6,1143.2 L1065.8,1137.6 L1067.1,1134.2 L1068.3,1129.7 L1069.6,1126.6 L1070.8,1121.1 L1072.1,1118.5 L1073.3,1113.3 L1075.3,1108.2 L1077.3,1103.4 L1079.3,1099.8 L1081.3,1094.7 L1083.3,1090.0 L1085.0,1083.6 L1086.7,1079.0 L1093.3,1079.0 L1098.3,1081.5 L1103.3,1083.3 L1107.8,1084.1 L1112.2,1087.3 L1116.7,1088.3 L1123.3,1086.0 L1127.8,1089.4 L1132.2,1092.6 L1136.7,1095.0 L1141.7,1094.8 L1146.7,1094.0 L1150.7,1097.2 L1154.7,1100.8 L1158.7,1104.4 L1162.7,1109.0 L1166.7,1111.7 L1170.8,1114.4 L1174.8,1119.7 L1178.9,1121.4 L1183.0,1125.4 L1187.1,1129.2 L1191.2,1134.2 L1195.3,1136.9 L1199.4,1140.2 L1203.4,1144.9 L1207.5,1147.1 L1211.6,1151.2 L1215.7,1155.0 L1219.8,1159.1 L1223.9,1162.7 L1228.0,1166.0 L1232.0,1169.0 L1236.1,1172.5 L1240.2,1175.7 L1244.3,1180.9 L1248.4,1184.1 L1252.5,1187.8 L1256.6,1190.2 L1260.6,1194.4 L1264.7,1198.7 L1268.8,1201.9 L1272.9,1204.5 L1277.0,1208.8 L1281.1,1213.4 L1285.2,1215.6 L1289.2,1219.1 L1293.3,1223.3 L1297.3,1226.5 L1301.3,1231.0 L1305.3,1234.9 L1309.3,1237.0 L1313.3,1240.6 L1317.3,1244.4 L1321.3,1248.2 L1325.3,1252.2 L1329.3,1255.0 L1333.3,1259.0 L1337.3,1262.2 L1341.3,1267.6 L1345.3,1270.6 L1349.3,1272.9 L1353.3,1278.4 L1357.3,1280.1 L1361.3,1284.3 L1365.3,1289.2 L1369.3,1292.4 L1373.3,1295.8 L1377.3,1298.8 L1381.3,1301.9 L1385.3,1306.4 L1389.3,1308.9 L1393.3,1313.3 L1397.8,1316.6 L1402.2,1320.9 L1406.7,1324.0 L1411.1,1328.7 L1415.6,1333.4 L1420.0,1336.7 L1426.7,1343.3 L1433.3,1338.3 L1437.8,1339.3 L1442.2,1339.4 L1446.7,1340.0 L1451.2,1342.4 L1455.8,1344.1 L1460.4,1345.5 L1465.0,1348.3" fill="none" stroke="#94c23c" stroke-width="3.1" stroke-linejoin="round"/>
<line x1="1048.0" y1="1015.0" x2="1048.0" y2="1377.0" stroke="#2a2a2a" stroke-width="2.8"/>
<line x1="1046.4" y1="1350.7" x2="1466.0" y2="1350.7" stroke="#2a2a2a" stroke-width="2.6"/>
<text transform="translate(1036.5,1104.4) scale(1.0200,1)" font-size="24" text-anchor="end" fill="#222222">0.6</text>
<line x1="1044.6" y1="1096.0" x2="1047.0" y2="1096.0" stroke="#2a2a2a" stroke-width="2.4"/>
<text transform="translate(1036.5,1190.1) scale(1.0200,1)" font-size="24" text-anchor="end" fill="#222222">0.4</text>
<line x1="1044.6" y1="1181.7" x2="1047.0" y2="1181.7" stroke="#2a2a2a" stroke-width="2.4"/>
<text transform="translate(1036.5,1274.4) scale(1.0200,1)" font-size="24" text-anchor="end" fill="#222222">0.2</text>
<line x1="1044.6" y1="1266.0" x2="1047.0" y2="1266.0" stroke="#2a2a2a" stroke-width="2.4"/>
<text transform="translate(1036.5,1359.1) scale(1.0200,1)" font-size="24" text-anchor="end" fill="#222222">0.0</text>
<line x1="1044.6" y1="1350.7" x2="1047.0" y2="1350.7" stroke="#2a2a2a" stroke-width="2.4"/>
<text transform="translate(984.0,1216.7) rotate(-90.00) scale(1.0200,1)" font-size="24.5" text-anchor="middle" fill="#222222">Enrichment score</text>
<rect x="1390.5" y="956.5" width="16.0" height="16.0" fill="#d8207f"/>
<text transform="translate(1424.8,973.5) scale(1.0250,1)" font-size="24.2" fill="#222222">KEGG_ECM_RECEPTOR_INTERCATION</text>
<rect x="1390.5" y="990.1" width="16.0" height="16.0" fill="#5dc2c6"/>
<text transform="translate(1424.8,1007.1) scale(1.0250,1)" font-size="24.2" fill="#222222">KEGG_FOCAL_ADHESION</text>
<rect x="1390.5" y="1025.0" width="16.0" height="16.0" fill="#1c6a94"/>
<text transform="translate(1424.8,1042.0) scale(1.0250,1)" font-size="24.2" fill="#222222">KEGG_GLYCOSAMINOGLYCAN_DEGRADATION</text>
<rect x="1390.5" y="1058.6" width="16.0" height="16.0" fill="#f4981f"/>
<text transform="translate(1424.8,1075.6) scale(1.0250,1)" font-size="24.2" fill="#222222">KEGG_JAK_STAT_SIGNALING_PATHWAY</text>
<rect x="1390.5" y="1092.2" width="16.0" height="16.0" fill="#b35fa6"/>
<text transform="translate(1424.8,1109.2) scale(1.0250,1)" font-size="24.2" fill="#222222">KEGG_N_GLYCAN_BIOSYNTHESIS</text>
<rect x="1390.5" y="1127.1" width="16.0" height="16.0" fill="#c5392c"/>
<text transform="translate(1424.8,1144.1) scale(1.0250,1)" font-size="24.2" fill="#222222">KEGG_PANCREATIC_CANCER</text>
<rect x="1390.5" y="1160.7" width="16.0" height="16.0" fill="#c5d62f"/>
<text transform="translate(1424.8,1177.7) scale(1.0250,1)" font-size="24.2" fill="#222222">KEGG_PATHWAYS_IN_CANCER</text>
<rect x="1390.5" y="1199.6" width="16.0" height="16.0" fill="#5db877"/>
<text transform="translate(1424.8,1216.6) scale(1.0250,1)" font-size="24.2" fill="#222222">KEGG_PROSTATE_CANCER</text>
<rect x="1390.5" y="1230.5" width="16.0" height="16.0" fill="#e0611c"/>
<text transform="translate(1424.8,1247.5) scale(1.0250,1)" font-size="24.2" fill="#222222">KEGG_REGULATION_OF_ACTIN_CYTOSKELETON</text>
<rect x="1390.5" y="1264.8" width="16.0" height="16.0" fill="#94c23c"/>
<text transform="translate(1424.8,1281.8) scale(1.0250,1)" font-size="24.2" fill="#222222">KEGG_SMALL_CELL_LUNG_CANCER</text>
<path d="M1419.7,1439.0v7.2M1242.1,1439.0v7.2M1415.0,1439.0v7.2M1116.4,1439.0v7.2M1373.5,1439.0v7.2M1074.4,1439.0v7.2M1204.7,1439.0v7.2M1465.2,1439.0v7.2M1450.8,1439.0v7.2M1410.1,1439.0v7.2M1047.6,1439.0v7.2M1465.0,1439.0v7.2M1065.4,1439.0v7.2M1105.2,1439.0v7.2M1216.3,1439.0v7.2M1405.5,1439.0v7.2M1401.3,1439.0v7.2M1454.2,1439.0v7.2M1463.7,1439.0v7.2M1343.4,1439.0v7.2M1063.8,1439.0v7.2M1049.4,1439.0v7.2M1442.0,1439.0v7.2M1209.1,1439.0v7.2M1401.7,1439.0v7.2M1061.3,1439.0v7.2M1244.0,1439.0v7.2M1213.6,1439.0v7.2M1147.4,1439.0v7.2M1454.9,1439.0v7.2M1079.2,1439.0v7.2M1364.4,1439.0v7.2M1066.0,1439.0v7.2M1048.9,1439.0v7.2M1460.9,1439.0v7.2M1436.2,1439.0v7.2M1178.6,1439.0v7.2M1151.5,1439.0v7.2M1095.9,1439.0v7.2M1069.2,1439.0v7.2M1383.3,1439.0v7.2M1232.0,1439.0v7.2M1090.6,1439.0v7.2M1315.8,1439.0v7.2M1273.0,1439.0v7.2M1067.6,1439.0v7.2M1449.7,1439.0v7.2M1049.6,1439.0v7.2M1134.5,1439.0v7.2M1139.5,1439.0v7.2M1102.8,1439.0v7.2M1249.7,1439.0v7.2M1355.6,1439.0v7.2M1055.4,1439.0v7.2M1389.3,1439.0v7.2M1059.0,1439.0v7.2M1336.1,1439.0v7.2M1257.2,1439.0v7.2M1048.2,1439.0v7.2M1147.2,1439.0v7.2M1455.8,1439.0v7.2M1174.9,1439.0v7.2M1063.6,1439.0v7.2M1359.2,1439.0v7.2M1454.0,1439.0v7.2M1132.8,1439.0v7.2M1069.2,1439.0v7.2M1049.0,1439.0v7.2" stroke="#94c23c" stroke-width="1.2" opacity="0.36" fill="none"/>
<path d="M1085.7,1446.2v7.2M1463.0,1446.2v7.2M1234.3,1446.2v7.2M1322.1,1446.2v7.2M1415.5,1446.2v7.2M1048.1,1446.2v7.2M1241.6,1446.2v7.2M1329.9,1446.2v7.2M1149.4,1446.2v7.2M1387.4,1446.2v7.2M1277.1,1446.2v7.2M1124.9,1446.2v7.2M1346.9,1446.2v7.2M1393.1,1446.2v7.2M1343.0,1446.2v7.2M1163.9,1446.2v7.2M1411.6,1446.2v7.2M1198.1,1446.2v7.2M1134.5,1446.2v7.2M1464.6,1446.2v7.2M1321.1,1446.2v7.2M1351.9,1446.2v7.2M1179.6,1446.2v7.2M1437.1,1446.2v7.2M1082.5,1446.2v7.2M1465.4,1446.2v7.2M1431.7,1446.2v7.2M1168.0,1446.2v7.2M1410.3,1446.2v7.2M1154.4,1446.2v7.2M1074.0,1446.2v7.2M1459.5,1446.2v7.2M1239.9,1446.2v7.2M1436.9,1446.2v7.2M1184.2,1446.2v7.2M1459.7,1446.2v7.2M1203.4,1446.2v7.2M1415.5,1446.2v7.2M1134.6,1446.2v7.2M1053.9,1446.2v7.2M1363.0,1446.2v7.2M1344.8,1446.2v7.2M1163.2,1446.2v7.2M1102.3,1446.2v7.2M1061.8,1446.2v7.2M1146.4,1446.2v7.2M1450.9,1446.2v7.2M1458.0,1446.2v7.2M1464.7,1446.2v7.2M1227.5,1446.2v7.2M1171.2,1446.2v7.2M1451.5,1446.2v7.2M1465.4,1446.2v7.2M1103.2,1446.2v7.2M1211.8,1446.2v7.2M1054.3,1446.2v7.2M1147.3,1446.2v7.2M1147.6,1446.2v7.2M1370.1,1446.2v7.2M1333.6,1446.2v7.2M1107.7,1446.2v7.2M1047.6,1446.2v7.2M1390.9,1446.2v7.2M1069.6,1446.2v7.2M1167.6,1446.2v7.2M1410.3,1446.2v7.2M1442.8,1446.2v7.2M1345.3,1446.2v7.2M1250.3,1446.2v7.2M1463.0,1446.2v7.2M1408.3,1446.2v7.2M1205.0,1446.2v7.2M1352.4,1446.2v7.2M1335.1,1446.2v7.2M1403.4,1446.2v7.2M1175.4,1446.2v7.2M1315.7,1446.2v7.2M1458.8,1446.2v7.2M1457.3,1446.2v7.2M1271.9,1446.2v7.2M1450.5,1446.2v7.2M1405.2,1446.2v7.2M1050.1,1446.2v7.2M1126.0,1446.2v7.2M1430.7,1446.2v7.2M1204.5,1446.2v7.2M1201.3,1446.2v7.2M1079.6,1446.2v7.2M1462.6,1446.2v7.2M1117.5,1446.2v7.2M1362.3,1446.2v7.2M1334.6,1446.2v7.2M1333.7,1446.2v7.2M1062.7,1446.2v7.2" stroke="#e0611c" stroke-width="1.2" opacity="0.36" fill="none"/>
<path d="M1453.2,1453.3v7.2M1405.8,1453.3v7.2M1361.4,1453.3v7.2M1451.3,1453.3v7.2M1217.4,1453.3v7.2M1134.5,1453.3v7.2M1452.3,1453.3v7.2M1417.5,1453.3v7.2M1122.3,1453.3v7.2M1411.9,1453.3v7.2M1264.9,1453.3v7.2M1442.0,1453.3v7.2M1464.9,1453.3v7.2M1440.5,1453.3v7.2M1433.5,1453.3v7.2M1107.3,1453.3v7.2M1098.6,1453.3v7.2M1423.9,1453.3v7.2M1450.8,1453.3v7.2M1144.1,1453.3v7.2M1101.6,1453.3v7.2M1465.4,1453.3v7.2M1063.5,1453.3v7.2M1450.3,1453.3v7.2M1144.7,1453.3v7.2M1178.3,1453.3v7.2M1116.0,1453.3v7.2M1059.9,1453.3v7.2M1437.6,1453.3v7.2M1094.4,1453.3v7.2M1461.8,1453.3v7.2M1148.0,1453.3v7.2M1424.5,1453.3v7.2M1303.2,1453.3v7.2M1181.5,1453.3v7.2M1424.8,1453.3v7.2M1076.2,1453.3v7.2M1138.7,1453.3v7.2M1418.5,1453.3v7.2M1065.0,1453.3v7.2M1455.6,1453.3v7.2M1212.7,1453.3v7.2M1197.9,1453.3v7.2M1092.2,1453.3v7.2M1465.5,1453.3v7.2M1163.1,1453.3v7.2M1452.3,1453.3v7.2M1114.9,1453.3v7.2M1428.5,1453.3v7.2M1460.3,1453.3v7.2M1051.6,1453.3v7.2M1126.3,1453.3v7.2M1418.2,1453.3v7.2M1058.5,1453.3v7.2M1215.6,1453.3v7.2M1434.9,1453.3v7.2M1049.0,1453.3v7.2M1240.6,1453.3v7.2M1449.9,1453.3v7.2M1426.7,1453.3v7.2M1139.4,1453.3v7.2M1168.8,1453.3v7.2M1123.3,1453.3v7.2M1385.5,1453.3v7.2M1059.6,1453.3v7.2M1116.5,1453.3v7.2M1235.1,1453.3v7.2M1342.1,1453.3v7.2M1310.6,1453.3v7.2M1139.1,1453.3v7.2M1324.2,1453.3v7.2M1155.5,1453.3v7.2M1358.7,1453.3v7.2M1368.4,1453.3v7.2M1236.4,1453.3v7.2M1337.9,1453.3v7.2M1379.8,1453.3v7.2M1175.6,1453.3v7.2M1080.8,1453.3v7.2" stroke="#5db877" stroke-width="1.2" opacity="0.36" fill="none"/>
<path d="M1465.5,1460.5v7.2M1150.1,1460.5v7.2M1457.6,1460.5v7.2M1325.9,1460.5v7.2M1156.3,1460.5v7.2M1423.9,1460.5v7.2M1277.4,1460.5v7.2M1393.6,1460.5v7.2M1325.0,1460.5v7.2M1143.4,1460.5v7.2M1455.9,1460.5v7.2M1048.6,1460.5v7.2M1087.0,1460.5v7.2M1066.6,1460.5v7.2M1277.4,1460.5v7.2M1328.7,1460.5v7.2M1320.6,1460.5v7.2M1369.6,1460.5v7.2M1138.5,1460.5v7.2M1465.2,1460.5v7.2M1114.4,1460.5v7.2M1461.3,1460.5v7.2M1410.9,1460.5v7.2M1255.3,1460.5v7.2M1120.0,1460.5v7.2M1445.9,1460.5v7.2M1154.9,1460.5v7.2M1453.7,1460.5v7.2M1452.7,1460.5v7.2M1065.8,1460.5v7.2M1055.7,1460.5v7.2M1443.3,1460.5v7.2M1360.3,1460.5v7.2M1272.8,1460.5v7.2M1078.2,1460.5v7.2M1227.0,1460.5v7.2M1326.9,1460.5v7.2M1119.2,1460.5v7.2M1349.6,1460.5v7.2M1325.3,1460.5v7.2M1435.1,1460.5v7.2M1048.6,1460.5v7.2M1463.2,1460.5v7.2M1158.7,1460.5v7.2M1455.4,1460.5v7.2M1439.8,1460.5v7.2M1424.3,1460.5v7.2M1445.7,1460.5v7.2M1457.2,1460.5v7.2M1234.9,1460.5v7.2M1408.4,1460.5v7.2M1069.5,1460.5v7.2M1418.8,1460.5v7.2M1406.9,1460.5v7.2M1460.2,1460.5v7.2M1269.1,1460.5v7.2M1414.8,1460.5v7.2M1049.0,1460.5v7.2M1096.8,1460.5v7.2M1464.0,1460.5v7.2M1464.7,1460.5v7.2M1161.2,1460.5v7.2M1407.2,1460.5v7.2M1108.5,1460.5v7.2M1081.1,1460.5v7.2M1362.6,1460.5v7.2M1052.5,1460.5v7.2M1308.2,1460.5v7.2M1458.9,1460.5v7.2" stroke="#c5d62f" stroke-width="1.2" opacity="0.36" fill="none"/>
<path d="M1067.6,1467.6v7.2M1201.7,1467.6v7.2M1322.3,1467.6v7.2M1125.5,1467.6v7.2M1341.4,1467.6v7.2M1085.8,1467.6v7.2M1228.3,1467.6v7.2M1050.1,1467.6v7.2M1431.1,1467.6v7.2M1452.4,1467.6v7.2M1464.7,1467.6v7.2M1156.9,1467.6v7.2M1074.4,1467.6v7.2M1395.0,1467.6v7.2M1054.4,1467.6v7.2M1176.7,1467.6v7.2M1052.4,1467.6v7.2M1418.1,1467.6v7.2M1440.4,1467.6v7.2M1230.6,1467.6v7.2M1174.9,1467.6v7.2M1091.6,1467.6v7.2M1421.5,1467.6v7.2M1084.4,1467.6v7.2M1084.7,1467.6v7.2M1089.2,1467.6v7.2M1129.5,1467.6v7.2M1422.8,1467.6v7.2M1352.0,1467.6v7.2M1047.7,1467.6v7.2M1422.2,1467.6v7.2M1328.9,1467.6v7.2M1370.9,1467.6v7.2M1125.1,1467.6v7.2M1464.5,1467.6v7.2M1180.3,1467.6v7.2M1082.9,1467.6v7.2M1462.5,1467.6v7.2M1403.9,1467.6v7.2M1062.6,1467.6v7.2M1425.7,1467.6v7.2M1442.7,1467.6v7.2M1264.4,1467.6v7.2M1429.8,1467.6v7.2M1389.5,1467.6v7.2M1343.0,1467.6v7.2M1210.6,1467.6v7.2M1358.9,1467.6v7.2M1396.0,1467.6v7.2M1447.9,1467.6v7.2M1425.4,1467.6v7.2M1371.3,1467.6v7.2M1095.8,1467.6v7.2M1181.6,1467.6v7.2M1204.5,1467.6v7.2M1060.7,1467.6v7.2M1072.6,1467.6v7.2M1072.2,1467.6v7.2M1052.2,1467.6v7.2" stroke="#c5392c" stroke-width="1.2" opacity="0.36" fill="none"/>
<path d="M1377.4,1474.8v7.2M1049.1,1474.8v7.2M1415.6,1474.8v7.2M1062.7,1474.8v7.2M1058.5,1474.8v7.2M1064.5,1474.8v7.2M1413.7,1474.8v7.2M1058.5,1474.8v7.2M1057.2,1474.8v7.2M1451.3,1474.8v7.2M1367.8,1474.8v7.2M1455.6,1474.8v7.2M1429.7,1474.8v7.2M1125.2,1474.8v7.2M1249.2,1474.8v7.2M1048.5,1474.8v7.2M1382.5,1474.8v7.2M1120.2,1474.8v7.2M1454.5,1474.8v7.2M1322.4,1474.8v7.2M1047.6,1474.8v7.2M1445.3,1474.8v7.2M1391.1,1474.8v7.2M1461.9,1474.8v7.2M1077.4,1474.8v7.2M1226.1,1474.8v7.2M1406.1,1474.8v7.2M1158.9,1474.8v7.2M1462.2,1474.8v7.2M1465.5,1474.8v7.2M1401.2,1474.8v7.2M1082.0,1474.8v7.2M1173.7,1474.8v7.2M1108.9,1474.8v7.2M1331.9,1474.8v7.2M1358.0,1474.8v7.2M1197.7,1474.8v7.2M1244.1,1474.8v7.2M1210.6,1474.8v7.2M1124.2,1474.8v7.2" stroke="#b35fa6" stroke-width="1.2" opacity="0.36" fill="none"/>
<path d="M1461.9,1481.9v7.2M1177.7,1481.9v7.2M1049.7,1481.9v7.2M1105.9,1481.9v7.2M1446.6,1481.9v7.2M1463.9,1481.9v7.2M1104.7,1481.9v7.2M1394.3,1481.9v7.2M1465.5,1481.9v7.2M1171.6,1481.9v7.2M1129.5,1481.9v7.2M1465.5,1481.9v7.2M1381.7,1481.9v7.2M1143.6,1481.9v7.2M1087.0,1481.9v7.2M1452.5,1481.9v7.2M1090.1,1481.9v7.2M1455.9,1481.9v7.2M1178.4,1481.9v7.2M1255.2,1481.9v7.2M1388.9,1481.9v7.2M1210.8,1481.9v7.2M1054.2,1481.9v7.2M1161.6,1481.9v7.2M1460.8,1481.9v7.2M1214.4,1481.9v7.2M1464.3,1481.9v7.2M1055.7,1481.9v7.2M1093.1,1481.9v7.2M1245.6,1481.9v7.2M1116.3,1481.9v7.2M1379.5,1481.9v7.2M1208.8,1481.9v7.2M1094.1,1481.9v7.2M1091.8,1481.9v7.2M1324.4,1481.9v7.2M1401.7,1481.9v7.2M1465.4,1481.9v7.2M1080.9,1481.9v7.2M1463.8,1481.9v7.2M1115.8,1481.9v7.2M1365.9,1481.9v7.2M1461.8,1481.9v7.2M1346.2,1481.9v7.2M1447.3,1481.9v7.2M1462.6,1481.9v7.2M1323.0,1481.9v7.2M1390.6,1481.9v7.2M1129.9,1481.9v7.2M1309.6,1481.9v7.2M1050.1,1481.9v7.2M1132.8,1481.9v7.2M1449.6,1481.9v7.2M1198.5,1481.9v7.2M1463.2,1481.9v7.2M1104.2,1481.9v7.2M1274.7,1481.9v7.2M1419.6,1481.9v7.2M1241.2,1481.9v7.2M1389.2,1481.9v7.2M1463.3,1481.9v7.2M1168.1,1481.9v7.2M1148.2,1481.9v7.2M1364.5,1481.9v7.2M1125.3,1481.9v7.2M1048.0,1481.9v7.2M1272.1,1481.9v7.2M1322.7,1481.9v7.2M1159.7,1481.9v7.2M1444.2,1481.9v7.2" stroke="#f4981f" stroke-width="1.2" opacity="0.36" fill="none"/>
<path d="M1371.0,1489.0v7.2M1060.1,1489.0v7.2M1462.5,1489.0v7.2M1131.0,1489.0v7.2M1118.3,1489.0v7.2M1130.6,1489.0v7.2M1151.0,1489.0v7.2M1159.6,1489.0v7.2M1260.8,1489.0v7.2M1433.2,1489.0v7.2M1145.8,1489.0v7.2M1381.4,1489.0v7.2M1431.0,1489.0v7.2M1397.9,1489.0v7.2M1218.5,1489.0v7.2M1130.0,1489.0v7.2M1267.4,1489.0v7.2M1438.2,1489.0v7.2M1181.5,1489.0v7.2M1176.6,1489.0v7.2M1353.5,1489.0v7.2M1382.8,1489.0v7.2M1137.4,1489.0v7.2M1052.9,1489.0v7.2M1114.1,1489.0v7.2" stroke="#1c6a94" stroke-width="1.2" opacity="0.36" fill="none"/>
<path d="M1048.6,1496.2v7.2M1425.0,1496.2v7.2M1074.8,1496.2v7.2M1064.6,1496.2v7.2M1242.0,1496.2v7.2M1325.8,1496.2v7.2M1223.6,1496.2v7.2M1140.2,1496.2v7.2M1418.5,1496.2v7.2M1088.7,1496.2v7.2M1463.3,1496.2v7.2M1333.2,1496.2v7.2M1065.6,1496.2v7.2M1077.9,1496.2v7.2M1235.8,1496.2v7.2M1213.6,1496.2v7.2M1135.2,1496.2v7.2M1047.9,1496.2v7.2M1176.2,1496.2v7.2M1337.9,1496.2v7.2M1245.1,1496.2v7.2M1073.1,1496.2v7.2M1422.4,1496.2v7.2M1214.7,1496.2v7.2M1107.1,1496.2v7.2M1230.0,1496.2v7.2M1131.9,1496.2v7.2M1460.1,1496.2v7.2M1068.4,1496.2v7.2M1176.6,1496.2v7.2M1237.8,1496.2v7.2M1345.6,1496.2v7.2M1167.2,1496.2v7.2M1233.6,1496.2v7.2M1063.0,1496.2v7.2M1171.8,1496.2v7.2M1058.1,1496.2v7.2M1157.7,1496.2v7.2M1445.2,1496.2v7.2M1351.1,1496.2v7.2M1457.8,1496.2v7.2M1248.0,1496.2v7.2M1454.3,1496.2v7.2M1464.3,1496.2v7.2M1231.6,1496.2v7.2M1424.3,1496.2v7.2M1139.1,1496.2v7.2M1066.6,1496.2v7.2M1083.9,1496.2v7.2M1186.4,1496.2v7.2M1070.6,1496.2v7.2M1460.4,1496.2v7.2M1460.4,1496.2v7.2M1104.7,1496.2v7.2M1443.8,1496.2v7.2M1256.5,1496.2v7.2M1127.4,1496.2v7.2M1446.6,1496.2v7.2M1375.8,1496.2v7.2M1428.1,1496.2v7.2M1333.5,1496.2v7.2M1333.0,1496.2v7.2M1194.4,1496.2v7.2M1141.4,1496.2v7.2M1100.0,1496.2v7.2M1375.0,1496.2v7.2M1457.4,1496.2v7.2M1458.3,1496.2v7.2M1429.1,1496.2v7.2M1138.3,1496.2v7.2M1417.5,1496.2v7.2M1122.8,1496.2v7.2M1047.7,1496.2v7.2M1437.9,1496.2v7.2M1068.3,1496.2v7.2M1464.7,1496.2v7.2M1457.2,1496.2v7.2M1075.6,1496.2v7.2M1076.1,1496.2v7.2M1425.1,1496.2v7.2M1136.1,1496.2v7.2M1208.5,1496.2v7.2M1067.1,1496.2v7.2M1165.6,1496.2v7.2M1376.3,1496.2v7.2M1093.8,1496.2v7.2M1062.1,1496.2v7.2M1065.1,1496.2v7.2M1380.7,1496.2v7.2M1107.9,1496.2v7.2M1384.3,1496.2v7.2M1065.2,1496.2v7.2M1106.7,1496.2v7.2M1073.5,1496.2v7.2M1049.7,1496.2v7.2M1275.8,1496.2v7.2M1386.7,1496.2v7.2M1066.9,1496.2v7.2M1457.0,1496.2v7.2M1338.3,1496.2v7.2M1080.0,1496.2v7.2M1153.3,1496.2v7.2M1081.0,1496.2v7.2M1356.2,1496.2v7.2M1350.6,1496.2v7.2M1442.9,1496.2v7.2M1206.8,1496.2v7.2M1458.7,1496.2v7.2M1058.4,1496.2v7.2M1461.6,1496.2v7.2M1061.9,1496.2v7.2M1451.6,1496.2v7.2M1274.6,1496.2v7.2M1356.6,1496.2v7.2M1088.4,1496.2v7.2M1165.8,1496.2v7.2M1069.9,1496.2v7.2M1058.2,1496.2v7.2M1090.3,1496.2v7.2M1346.5,1496.2v7.2M1084.3,1496.2v7.2M1251.8,1496.2v7.2M1189.7,1496.2v7.2M1345.1,1496.2v7.2M1077.4,1496.2v7.2M1050.1,1496.2v7.2M1183.5,1496.2v7.2M1426.0,1496.2v7.2M1090.5,1496.2v7.2M1048.2,1496.2v7.2M1137.9,1496.2v7.2M1075.8,1496.2v7.2M1124.3,1496.2v7.2M1170.5,1496.2v7.2M1176.5,1496.2v7.2M1462.3,1496.2v7.2M1070.8,1496.2v7.2M1441.5,1496.2v7.2M1224.9,1496.2v7.2M1072.6,1496.2v7.2M1062.0,1496.2v7.2M1047.8,1496.2v7.2M1418.6,1496.2v7.2M1455.3,1496.2v7.2M1159.5,1496.2v7.2M1137.9,1496.2v7.2M1400.5,1496.2v7.2M1410.5,1496.2v7.2" stroke="#5dc2c6" stroke-width="1.2" opacity="0.36" fill="none"/>
<path d="M1148.3,1503.3v7.2M1097.3,1503.3v7.2M1049.0,1503.3v7.2M1078.4,1503.3v7.2M1454.0,1503.3v7.2M1092.2,1503.3v7.2M1461.4,1503.3v7.2M1457.1,1503.3v7.2M1080.8,1503.3v7.2M1055.1,1503.3v7.2M1393.5,1503.3v7.2M1393.8,1503.3v7.2M1090.0,1503.3v7.2M1049.1,1503.3v7.2M1048.7,1503.3v7.2M1415.3,1503.3v7.2M1450.0,1503.3v7.2M1047.8,1503.3v7.2M1234.6,1503.3v7.2M1455.5,1503.3v7.2M1460.4,1503.3v7.2M1410.1,1503.3v7.2M1199.1,1503.3v7.2M1335.6,1503.3v7.2M1407.9,1503.3v7.2M1440.8,1503.3v7.2M1070.2,1503.3v7.2M1415.2,1503.3v7.2M1241.4,1503.3v7.2M1053.8,1503.3v7.2M1451.6,1503.3v7.2M1268.0,1503.3v7.2M1059.3,1503.3v7.2M1162.4,1503.3v7.2M1047.5,1503.3v7.2M1442.8,1503.3v7.2M1112.0,1503.3v7.2M1421.5,1503.3v7.2M1419.5,1503.3v7.2M1452.5,1503.3v7.2M1081.6,1503.3v7.2M1178.5,1503.3v7.2M1394.8,1503.3v7.2M1329.6,1503.3v7.2M1114.2,1503.3v7.2M1430.3,1503.3v7.2M1445.5,1503.3v7.2M1184.1,1503.3v7.2M1457.3,1503.3v7.2M1077.9,1503.3v7.2M1116.8,1503.3v7.2M1049.1,1503.3v7.2M1051.3,1503.3v7.2M1463.6,1503.3v7.2M1378.3,1503.3v7.2M1461.6,1503.3v7.2M1411.1,1503.3v7.2M1067.0,1503.3v7.2M1372.7,1503.3v7.2M1173.5,1503.3v7.2M1173.4,1503.3v7.2M1079.4,1503.3v7.2M1361.6,1503.3v7.2M1408.7,1503.3v7.2M1382.4,1503.3v7.2M1087.2,1503.3v7.2M1457.7,1503.3v7.2M1047.6,1503.3v7.2M1336.0,1503.3v7.2M1103.4,1503.3v7.2M1439.8,1503.3v7.2M1442.5,1503.3v7.2M1460.8,1503.3v7.2M1172.6,1503.3v7.2M1048.3,1503.3v7.2M1178.4,1503.3v7.2M1097.7,1503.3v7.2M1047.8,1503.3v7.2M1431.4,1503.3v7.2M1075.3,1503.3v7.2M1398.1,1503.3v7.2M1090.0,1503.3v7.2M1379.8,1503.3v7.2M1210.2,1503.3v7.2M1421.9,1503.3v7.2M1108.9,1503.3v7.2M1051.6,1503.3v7.2M1152.6,1503.3v7.2M1463.4,1503.3v7.2M1047.7,1503.3v7.2M1462.5,1503.3v7.2M1454.5,1503.3v7.2M1109.4,1503.3v7.2M1067.8,1503.3v7.2M1049.1,1503.3v7.2M1176.8,1503.3v7.2M1058.3,1503.3v7.2M1320.0,1503.3v7.2M1225.4,1503.3v7.2M1440.4,1503.3v7.2M1213.0,1503.3v7.2M1126.0,1503.3v7.2M1408.7,1503.3v7.2M1252.7,1503.3v7.2M1463.1,1503.3v7.2M1213.2,1503.3v7.2M1461.0,1503.3v7.2M1056.9,1503.3v7.2M1049.7,1503.3v7.2M1185.7,1503.3v7.2M1116.9,1503.3v7.2M1061.4,1503.3v7.2M1052.1,1503.3v7.2M1369.5,1503.3v7.2M1386.4,1503.3v7.2M1202.4,1503.3v7.2M1368.4,1503.3v7.2M1089.7,1503.3v7.2M1215.6,1503.3v7.2" stroke="#d8207f" stroke-width="1.2" opacity="0.36" fill="none"/>
<line x1="1046.5" y1="1512.8" x2="1466.0" y2="1512.8" stroke="#2a2a2a" stroke-width="2.4"/>
<text transform="translate(1096.7,1546.0) scale(1.0200,1)" font-size="24.5" fill="#222222">High risk</text>
<text transform="translate(1194.7,1546.0) scale(1.2500,1)" font-size="26" fill="#7a7a7a" style="stroke:#7a7a7a;stroke-width:0.2px">&lt;</text>
<line x1="1218.7" y1="1537.8" x2="1318.7" y2="1537.8" stroke="#111" stroke-width="3" stroke-dasharray="7.2 1.2"/>
<text transform="translate(1321.2,1546.0) scale(1.2000,1)" font-size="26" fill="#7a7a7a" style="stroke:#7a7a7a;stroke-width:0.2px">&gt;</text>
<text transform="translate(1340.0,1546.0) scale(1.0200,1)" font-size="24.5" fill="#222222">Low risk</text>
<text transform="translate(900.6,1699.0) scale(0.8700,1)" font-size="48.5" fill="#0d0d0d">E</text>
<path d="M998.4,1817.9 L999.6,1813.9 L1000.8,1809.2 L1001.9,1805.7 L1003.1,1801.8 L1004.3,1796.6 L1005.5,1792.7 L1006.6,1788.8 L1007.8,1784.1 L1009.7,1779.5 L1011.6,1774.8 L1013.5,1771.4 L1015.3,1767.4 L1017.2,1762.3 L1021.6,1762.6 L1026.0,1762.2 L1030.4,1761.5 L1036.0,1766.0 L1041.7,1769.0 L1046.7,1768.8 L1051.7,1768.1 L1056.7,1767.1 L1061.4,1768.9 L1066.1,1770.5 L1070.8,1773.0 L1075.5,1774.7 L1079.8,1776.3 L1084.1,1779.3 L1088.4,1782.5 L1092.7,1784.8 L1097.0,1787.0 L1101.3,1788.7 L1105.6,1791.6 L1109.8,1794.4 L1114.1,1797.5 L1118.3,1800.8 L1122.6,1803.4 L1126.9,1807.0 L1131.1,1810.5 L1135.4,1812.0 L1139.6,1815.9 L1143.9,1819.2 L1148.2,1821.4 L1152.4,1824.6 L1156.7,1828.6 L1161.0,1829.8 L1165.2,1833.8 L1169.5,1836.7 L1173.6,1839.2 L1177.7,1843.7 L1181.8,1847.2 L1185.9,1849.6 L1190.1,1852.0 L1194.2,1856.2 L1198.3,1859.3 L1202.4,1862.9 L1206.5,1865.7 L1210.6,1869.2 L1214.8,1872.8 L1218.9,1875.4 L1223.0,1878.4 L1227.1,1882.7 L1231.2,1884.4 L1235.4,1888.6 L1239.5,1891.3 L1243.6,1895.2 L1247.7,1897.2 L1251.8,1902.1 L1255.9,1904.4 L1260.2,1907.1 L1264.4,1909.6 L1268.6,1913.1 L1272.9,1916.4 L1277.1,1918.7 L1281.3,1922.5 L1285.5,1925.6 L1289.8,1929.2 L1294.0,1931.6 L1298.2,1934.4 L1302.5,1937.4 L1306.7,1941.5 L1310.9,1944.9 L1315.2,1947.2 L1319.4,1949.6 L1323.6,1953.2 L1328.0,1955.7 L1332.4,1956.8 L1336.8,1958.3 L1341.2,1960.0 L1345.5,1963.2 L1349.9,1964.5 L1354.6,1963.3 L1359.3,1961.0 L1364.0,1958.8 L1368.7,1957.0 L1373.7,1957.1 L1378.7,1956.4 L1383.8,1957.0 L1385.6,1953.7 L1387.5,1948.2 L1389.4,1944.6 L1391.3,1940.7 L1393.2,1936.5 L1395.0,1931.6 L1396.9,1927.0 L1398.8,1923.2 L1399.7,1919.2 L1400.5,1914.3 L1401.4,1911.7 L1402.3,1906.7 L1403.1,1903.6 L1404.0,1898.4 L1404.9,1894.6 L1405.7,1890.3 L1406.6,1886.6 L1407.5,1882.0 L1408.3,1877.6 L1409.2,1875.0 L1410.1,1870.5 L1410.9,1865.9 L1411.8,1861.6 L1412.6,1857.4 L1413.5,1853.6 L1414.3,1849.2 L1415.2,1845.4 L1416.0,1841.2 L1416.8,1836.7" fill="none" stroke="#d8207f" stroke-width="3.2" stroke-linejoin="round"/>
<path d="M998.4,1810.4 L1000.8,1805.4 L1003.1,1801.8 L1005.5,1797.0 L1007.8,1791.6 L1012.5,1790.2 L1017.2,1791.3 L1021.9,1791.0 L1026.6,1789.7 L1028.5,1786.0 L1030.4,1780.5 L1032.3,1777.7 L1034.1,1772.8 L1036.0,1768.3 L1037.9,1762.4 L1039.8,1757.7 L1041.7,1754.0 L1046.7,1753.6 L1051.7,1751.8 L1056.7,1750.2 L1062.3,1748.2 L1068.0,1747.2 L1073.0,1750.2 L1078.0,1754.0 L1083.0,1758.5 L1087.5,1760.1 L1092.0,1763.3 L1096.5,1764.5 L1101.1,1766.2 L1105.6,1769.0 L1110.3,1770.8 L1115.0,1771.5 L1119.7,1771.2 L1124.4,1772.8 L1128.5,1777.1 L1132.7,1780.1 L1136.9,1784.0 L1141.1,1787.3 L1145.2,1791.3 L1149.4,1794.7 L1153.6,1798.3 L1157.8,1800.6 L1162.0,1805.1 L1166.1,1808.3 L1170.3,1812.3 L1174.5,1815.3 L1178.7,1819.7 L1182.8,1822.6 L1187.0,1825.6 L1191.2,1829.1 L1195.4,1832.4 L1199.5,1836.7 L1203.6,1840.0 L1207.6,1842.5 L1211.6,1846.7 L1215.7,1849.4 L1219.7,1853.5 L1223.7,1856.8 L1227.7,1860.3 L1231.8,1864.3 L1235.8,1865.9 L1239.8,1870.9 L1243.9,1873.6 L1247.9,1877.1 L1251.9,1880.7 L1255.9,1884.4 L1260.0,1886.8 L1264.0,1890.2 L1268.0,1894.7 L1272.1,1896.3 L1276.1,1900.7 L1280.1,1904.1 L1284.1,1906.2 L1288.2,1910.8 L1292.2,1914.3 L1296.2,1918.1 L1300.2,1920.3 L1304.3,1924.9 L1308.3,1927.3 L1312.3,1930.7 L1316.4,1932.5 L1320.4,1935.2 L1324.4,1935.4 L1328.4,1938.6 L1332.5,1940.3 L1336.5,1941.6 L1340.5,1944.6 L1344.6,1945.4 L1348.6,1947.5 L1352.6,1949.5 L1356.6,1951.9 L1360.7,1952.7 L1364.7,1955.0 L1368.7,1957.0 L1373.7,1958.1 L1378.7,1959.6 L1383.8,1960.8 L1385.9,1957.1 L1388.1,1951.7 L1390.2,1948.5 L1392.4,1943.4 L1394.5,1939.3 L1396.6,1934.5 L1398.8,1930.7 L1399.8,1926.6 L1400.8,1923.4 L1401.9,1918.7 L1402.9,1914.9 L1403.9,1909.8 L1404.9,1905.7 L1406.0,1901.6 L1407.0,1898.0 L1408.0,1894.0 L1409.0,1890.2 L1410.1,1885.6 L1411.0,1880.3 L1412.0,1877.4 L1413.0,1873.4 L1413.9,1868.5 L1414.9,1863.2 L1415.9,1859.4 L1416.8,1855.5" fill="none" stroke="#5dc2c6" stroke-width="3.2" stroke-linejoin="round"/>
<path d="M1015.3,1829.2 L1017.8,1824.1 L1020.4,1820.4 L1022.9,1817.8 L1025.4,1813.1 L1027.9,1809.1 L1030.4,1804.7 L1034.1,1801.1 L1037.9,1797.1 L1041.7,1792.3 L1045.4,1787.8 L1050.4,1788.7 L1055.4,1789.3 L1060.5,1789.7 L1065.5,1788.8 L1070.5,1787.4 L1075.5,1785.9 L1079.8,1787.8 L1084.1,1788.3 L1088.4,1790.6 L1092.7,1791.7 L1097.0,1793.7 L1101.3,1793.8 L1105.6,1796.1 L1109.8,1798.2 L1114.1,1800.7 L1118.3,1804.9 L1122.6,1807.9 L1126.9,1810.2 L1131.1,1812.4 L1135.4,1816.0 L1139.6,1818.7 L1143.9,1821.0 L1148.2,1823.2 L1152.4,1826.0 L1156.7,1829.0 L1161.0,1831.6 L1165.2,1834.5 L1169.5,1837.4 L1173.6,1840.8 L1177.7,1844.5 L1181.8,1845.8 L1185.9,1850.0 L1190.1,1852.0 L1194.2,1855.3 L1198.3,1859.7 L1202.4,1862.4 L1206.5,1866.2 L1210.6,1868.3 L1214.8,1870.5 L1218.9,1874.4 L1223.0,1877.9 L1227.1,1881.7 L1231.2,1884.9 L1235.4,1886.9 L1239.5,1889.9 L1243.6,1892.4 L1247.7,1896.6 L1251.8,1898.8 L1255.9,1902.5 L1260.0,1904.3 L1264.0,1906.6 L1268.0,1909.1 L1272.1,1913.1 L1276.1,1914.5 L1280.1,1918.7 L1284.1,1919.5 L1288.2,1923.6 L1292.2,1924.7 L1296.2,1927.0 L1300.2,1931.0 L1304.3,1932.6 L1308.3,1936.1 L1312.3,1938.2 L1316.5,1939.2 L1320.7,1940.6 L1324.9,1943.8 L1329.0,1945.3 L1333.2,1947.3 L1337.4,1948.7 L1341.6,1949.1 L1345.7,1951.8 L1349.9,1953.2 L1354.5,1955.5 L1359.1,1956.9 L1363.6,1959.7 L1368.2,1960.3 L1372.7,1963.6 L1377.3,1964.9 L1381.9,1966.4 L1384.0,1960.9 L1386.1,1956.5 L1388.2,1953.3 L1390.3,1949.2 L1392.5,1943.2 L1394.6,1939.2 L1396.7,1935.6 L1398.8,1930.7 L1400.1,1925.8 L1401.3,1923.0 L1402.6,1918.1 L1403.8,1913.1 L1405.1,1909.5 L1406.3,1905.8 L1407.6,1901.3 L1408.8,1897.6 L1410.1,1893.1 L1411.8,1888.1 L1413.5,1885.2 L1415.2,1880.1 L1416.8,1876.2" fill="none" stroke="#1c6a94" stroke-width="3.2" stroke-linejoin="round"/>
<path d="M998.4,1823.5 L1003.1,1820.5 L1007.8,1817.2 L1012.5,1813.5 L1017.2,1810.4 L1021.6,1812.0 L1026.0,1814.7 L1030.4,1816.0 L1034.8,1819.1 L1039.1,1821.0 L1043.5,1822.7 L1047.9,1824.4 L1052.3,1826.1 L1056.7,1829.2 L1060.5,1823.5 L1065.0,1826.7 L1069.5,1828.5 L1074.0,1831.0 L1078.5,1832.2 L1083.0,1834.8 L1087.3,1836.6 L1091.6,1839.0 L1095.9,1840.3 L1100.2,1841.5 L1104.5,1842.5 L1108.8,1844.3 L1113.1,1846.1 L1117.4,1849.8 L1121.7,1851.8 L1126.0,1855.3 L1130.3,1858.1 L1134.6,1861.7 L1138.9,1864.4 L1143.2,1866.8 L1147.3,1869.9 L1151.5,1872.9 L1155.7,1876.9 L1159.9,1880.8 L1164.0,1884.7 L1168.2,1888.7 L1172.4,1892.4 L1176.6,1894.3 L1180.8,1899.4 L1184.9,1902.9 L1189.1,1906.6 L1193.3,1909.5 L1197.5,1912.5 L1201.6,1917.2 L1205.8,1920.6 L1210.0,1923.9 L1214.2,1928.0 L1218.3,1930.7 L1222.5,1933.5 L1226.7,1936.1 L1230.9,1940.2 L1235.1,1943.8 L1239.2,1945.7 L1243.4,1950.0 L1247.6,1953.5 L1251.8,1955.2 L1255.9,1959.1 L1260.1,1962.4 L1264.3,1965.1 L1268.5,1967.7 L1272.6,1970.9 L1276.8,1975.0 L1281.0,1978.3 L1285.2,1980.7 L1289.4,1983.1 L1293.5,1987.1 L1297.7,1990.2 L1301.9,1992.6 L1306.1,1994.1 L1310.2,1997.3 L1314.4,2000.4 L1318.6,2002.9 L1322.8,2004.7 L1327.0,2007.1 L1331.1,2009.6 L1336.1,2008.5 L1341.2,2006.5 L1346.2,2005.9 L1351.8,2008.1 L1357.4,2011.5 L1358.4,2005.2 L1359.3,2000.2 L1364.0,1995.9 L1368.7,1990.8 L1373.7,1988.0 L1378.7,1985.9 L1383.8,1983.3 L1385.4,1978.8 L1387.0,1974.7 L1388.6,1969.7 L1390.2,1965.2 L1391.8,1962.8 L1393.4,1957.3 L1395.0,1953.2 L1396.3,1948.3 L1397.5,1945.1 L1398.8,1941.3 L1400.1,1935.8 L1401.3,1932.5 L1402.6,1927.9 L1403.8,1924.0 L1405.1,1918.9 L1406.3,1915.6 L1406.9,1910.6 L1407.4,1908.3 L1408.0,1903.9 L1408.5,1899.0 L1409.1,1895.0 L1409.6,1890.2 L1410.2,1887.1 L1410.7,1882.3 L1411.3,1879.1 L1411.9,1874.6 L1412.4,1870.6 L1413.0,1866.7 L1413.5,1861.1 L1414.1,1856.5 L1414.6,1852.7 L1415.2,1848.5 L1415.7,1844.2 L1416.3,1839.9 L1416.8,1836.7" fill="none" stroke="#c9831f" stroke-width="3.2" stroke-linejoin="round"/>
<path d="M998.4,1810.4 L1000.3,1806.4 L1002.2,1802.8 L1004.1,1797.9 L1005.9,1794.7 L1007.8,1789.7 L1012.8,1793.0 L1017.8,1793.8 L1022.9,1797.2 L1027.9,1794.9 L1032.9,1792.0 L1037.9,1789.7 L1042.9,1786.4 L1047.9,1785.6 L1052.9,1782.2 L1057.4,1782.1 L1062.0,1783.1 L1066.5,1783.6 L1071.0,1784.6 L1075.5,1784.1 L1080.5,1785.7 L1085.5,1786.4 L1090.5,1787.8 L1095.5,1790.8 L1100.6,1793.4 L1105.6,1797.2 L1109.8,1800.8 L1114.1,1803.5 L1118.3,1804.6 L1122.6,1806.8 L1126.9,1809.9 L1131.1,1812.7 L1135.4,1816.4 L1139.6,1819.1 L1143.9,1821.6 L1148.2,1822.6 L1152.4,1826.7 L1156.7,1829.2 L1161.0,1831.7 L1165.2,1835.0 L1169.5,1836.7 L1173.6,1838.8 L1177.7,1842.1 L1181.8,1846.3 L1185.9,1849.7 L1190.1,1852.3 L1194.2,1854.5 L1198.3,1858.2 L1202.4,1861.6 L1206.5,1863.3 L1210.6,1866.8 L1214.8,1869.7 L1218.9,1872.5 L1223.0,1876.2 L1227.1,1878.6 L1231.2,1881.8 L1235.4,1884.7 L1239.5,1888.8 L1243.6,1890.5 L1247.7,1894.9 L1251.8,1896.9 L1255.9,1900.6 L1260.1,1902.4 L1264.3,1906.9 L1268.5,1908.2 L1272.6,1912.3 L1276.8,1914.9 L1281.0,1917.7 L1285.2,1918.9 L1289.4,1922.2 L1293.5,1924.2 L1297.7,1928.6 L1301.9,1931.2 L1306.1,1933.4 L1310.2,1935.8 L1314.4,1938.3 L1318.6,1942.0 L1322.8,1944.0 L1327.0,1947.0 L1331.1,1949.5 L1335.3,1949.6 L1339.5,1950.6 L1343.7,1951.1 L1347.8,1953.2 L1352.0,1953.8 L1356.2,1953.8 L1360.4,1956.1 L1364.5,1955.7 L1368.7,1957.0 L1373.7,1958.1 L1378.7,1958.8 L1383.8,1960.8 L1385.6,1956.1 L1387.5,1953.1 L1389.4,1947.9 L1391.3,1943.4 L1393.2,1939.8 L1395.0,1935.3 L1396.9,1932.3 L1398.8,1926.6 L1400.7,1923.2 L1401.5,1920.0 L1402.4,1914.1 L1403.2,1911.6 L1404.1,1907.1 L1404.9,1902.1 L1405.8,1898.5 L1406.7,1894.0 L1407.5,1889.9 L1408.4,1885.7 L1409.2,1881.9 L1410.1,1878.0 L1410.9,1874.8 L1411.8,1870.6 L1412.6,1866.2 L1413.5,1860.3 L1414.3,1856.5 L1415.2,1853.5 L1416.0,1847.6 L1416.8,1844.2" fill="none" stroke="#b35fa6" stroke-width="3.2" stroke-linejoin="round"/>
<path d="M998.4,1821.7 L999.5,1818.0 L1000.6,1813.1 L1001.7,1810.4 L1002.8,1804.4 L1003.9,1801.9 L1005.0,1796.9 L1006.1,1792.4 L1007.2,1788.1 L1008.3,1785.7 L1009.4,1781.0 L1010.5,1776.2 L1011.6,1772.8 L1017.2,1767.1 L1021.6,1768.3 L1026.0,1770.5 L1030.4,1770.9 L1034.9,1770.0 L1039.4,1770.3 L1043.9,1769.1 L1048.4,1768.8 L1052.9,1769.0 L1057.4,1771.1 L1062.0,1772.5 L1066.5,1772.9 L1071.0,1774.2 L1075.5,1776.5 L1079.8,1778.1 L1084.1,1781.6 L1088.4,1783.8 L1092.7,1785.8 L1097.0,1788.0 L1101.3,1791.3 L1105.6,1793.5 L1109.8,1796.9 L1114.1,1800.1 L1118.3,1802.6 L1122.6,1804.9 L1126.9,1807.6 L1131.1,1812.0 L1135.4,1814.3 L1139.6,1818.0 L1143.9,1819.6 L1148.2,1824.2 L1152.4,1826.2 L1156.7,1830.2 L1161.0,1833.3 L1165.2,1835.5 L1169.5,1838.6 L1173.6,1840.9 L1177.7,1846.0 L1181.8,1848.5 L1185.9,1852.6 L1190.1,1854.7 L1194.2,1857.8 L1198.3,1862.4 L1202.4,1864.8 L1206.5,1867.7 L1210.6,1871.4 L1214.8,1875.2 L1218.9,1877.3 L1223.0,1881.7 L1227.1,1884.8 L1231.2,1888.3 L1235.4,1890.8 L1239.5,1895.3 L1243.6,1898.8 L1247.7,1902.2 L1251.8,1904.5 L1255.9,1908.1 L1260.1,1911.5 L1264.3,1913.7 L1268.5,1917.4 L1272.6,1918.9 L1276.8,1923.5 L1281.0,1926.6 L1285.2,1928.6 L1289.4,1931.5 L1293.5,1934.5 L1297.7,1937.4 L1301.9,1939.3 L1306.1,1944.1 L1310.2,1945.6 L1314.4,1948.4 L1318.6,1951.2 L1322.8,1954.4 L1327.0,1958.5 L1331.1,1960.8 L1336.1,1962.3 L1341.2,1965.0 L1346.2,1968.3 L1349.9,1963.0 L1353.7,1957.0 L1358.1,1955.1 L1362.5,1953.5 L1366.8,1953.4 L1371.2,1952.1 L1375.6,1950.8 L1380.0,1949.5 L1385.6,1942.0 L1387.0,1938.2 L1388.3,1932.9 L1389.6,1930.3 L1390.9,1925.8 L1392.2,1920.4 L1393.5,1916.4 L1394.8,1913.0 L1396.2,1908.9 L1397.5,1904.3 L1398.8,1900.6 L1400.1,1895.5 L1401.3,1891.6 L1402.6,1886.7 L1403.8,1883.2 L1405.1,1879.4 L1406.3,1874.3 L1407.6,1869.2 L1408.8,1865.7 L1410.1,1861.6 L1411.3,1856.1 L1412.6,1853.0 L1413.8,1848.0 L1415.3,1843.2 L1416.8,1836.7" fill="none" stroke="#c5392c" stroke-width="3.2" stroke-linejoin="round"/>
<path d="M1024.7,1855.5 L1028.8,1857.8 L1032.9,1860.3 L1037.0,1863.7 L1041.0,1865.6 L1045.1,1867.8 L1049.2,1870.5 L1053.4,1873.3 L1057.6,1874.8 L1061.9,1875.8 L1066.1,1877.5 L1070.3,1879.6 L1074.5,1881.7 L1078.8,1884.6 L1083.0,1885.6 L1088.0,1885.9 L1093.0,1885.9 L1098.0,1884.8 L1103.7,1883.9 L1109.3,1881.8 L1113.6,1884.6 L1117.8,1885.1 L1122.0,1888.2 L1126.2,1891.2 L1130.5,1893.2 L1134.7,1894.0 L1138.9,1896.5 L1143.2,1898.7 L1147.3,1902.2 L1151.5,1904.9 L1155.7,1908.5 L1159.9,1910.8 L1164.0,1914.8 L1168.2,1918.2 L1172.4,1920.4 L1176.6,1923.9 L1180.8,1928.8 L1184.9,1931.6 L1189.1,1935.2 L1193.3,1937.8 L1197.5,1941.4 L1201.6,1944.8 L1205.8,1948.0 L1210.0,1949.6 L1214.2,1954.0 L1218.3,1957.0 L1222.5,1959.7 L1226.7,1963.6 L1230.9,1965.9 L1235.1,1969.6 L1239.2,1973.5 L1243.4,1976.0 L1247.6,1978.4 L1251.8,1982.1 L1255.9,1985.1 L1260.1,1989.2 L1264.3,1991.0 L1268.5,1994.2 L1272.6,1998.0 L1276.8,2000.1 L1281.0,2004.2 L1285.2,2008.0 L1289.4,2010.3 L1293.5,2013.4 L1297.8,2015.9 L1302.1,2019.2 L1306.4,2022.3 L1310.7,2024.5 L1315.0,2027.4 L1319.3,2030.4 L1323.6,2034.1 L1327.8,2034.1 L1332.1,2034.8 L1336.3,2035.0 L1340.5,2035.4 L1344.8,2035.6 L1349.0,2037.0 L1353.2,2038.0 L1357.4,2037.8 L1361.8,2036.2 L1366.2,2034.2 L1370.6,2032.5 L1375.0,2029.7 L1379.4,2028.8 L1383.8,2026.5 L1384.8,2022.4 L1385.9,2018.6 L1387.0,2014.7 L1388.1,2010.4 L1389.1,2006.0 L1390.2,2001.9 L1391.3,1998.3 L1393.2,1993.1 L1395.0,1989.0 L1396.9,1984.0 L1398.8,1979.5 L1399.7,1975.5 L1400.7,1970.1 L1401.6,1966.6 L1402.6,1963.4 L1403.5,1957.9 L1404.4,1954.3 L1405.4,1949.9 L1406.3,1945.7 L1406.8,1941.2 L1407.2,1938.5 L1407.6,1933.1 L1408.1,1930.0 L1408.5,1924.7 L1408.9,1920.4 L1409.4,1917.9 L1409.8,1913.0 L1410.3,1908.2 L1410.7,1904.8 L1411.1,1900.8 L1411.6,1897.3 L1412.0,1892.0 L1412.5,1888.1 L1412.9,1885.5 L1413.3,1881.0 L1413.8,1875.8 L1414.2,1872.1 L1414.6,1868.0 L1415.1,1864.6 L1415.5,1860.4 L1416.0,1856.8 L1416.4,1852.7 L1416.8,1848.0" fill="none" stroke="#d9cf35" stroke-width="3.2" stroke-linejoin="round"/>
<path d="M998.4,1831.1 L1002.8,1833.6 L1007.2,1836.5 L1011.6,1839.1 L1016.0,1841.6 L1020.4,1843.5 L1024.7,1846.1 L1030.4,1842.3 L1034.9,1844.8 L1039.4,1846.5 L1043.9,1848.8 L1048.4,1849.1 L1052.9,1851.7 L1057.4,1853.2 L1062.0,1852.2 L1066.5,1854.5 L1071.0,1854.9 L1075.5,1855.5 L1080.0,1857.4 L1084.5,1860.2 L1089.0,1861.3 L1093.5,1862.8 L1098.0,1864.9 L1101.8,1861.1 L1106.3,1864.3 L1110.8,1867.1 L1115.3,1869.2 L1119.8,1871.4 L1124.4,1874.3 L1129.1,1876.1 L1133.8,1878.0 L1138.5,1880.4 L1143.2,1881.8 L1147.3,1884.9 L1151.5,1888.7 L1155.7,1892.6 L1159.9,1895.8 L1164.0,1899.2 L1168.2,1903.7 L1172.4,1907.4 L1176.6,1910.2 L1180.8,1913.6 L1184.9,1916.7 L1189.1,1920.5 L1193.3,1923.7 L1197.5,1928.1 L1201.6,1931.7 L1205.8,1934.2 L1210.0,1939.5 L1214.2,1941.8 L1218.3,1945.7 L1222.5,1949.4 L1226.7,1952.4 L1230.9,1955.7 L1235.1,1957.2 L1239.2,1960.7 L1243.4,1964.7 L1247.6,1965.9 L1251.8,1969.0 L1255.9,1973.1 L1260.1,1976.0 L1264.3,1979.9 L1268.5,1982.6 L1272.6,1985.2 L1276.8,1989.1 L1281.0,1991.2 L1285.2,1994.2 L1289.4,1997.6 L1293.5,2000.2 L1297.8,2002.4 L1302.1,2004.8 L1306.4,2007.7 L1310.7,2009.6 L1315.0,2013.2 L1319.3,2015.1 L1323.6,2017.1 L1328.1,2018.3 L1332.6,2018.6 L1337.1,2020.3 L1341.7,2021.5 L1346.2,2022.8 L1351.8,2022.0 L1357.4,2020.9 L1363.1,2018.2 L1368.7,2015.3 L1373.7,2012.9 L1378.7,2009.9 L1383.8,2005.9 L1385.2,2001.6 L1386.6,1997.3 L1388.0,1993.4 L1389.4,1989.9 L1390.8,1984.4 L1392.2,1980.5 L1393.6,1976.9 L1395.0,1972.0 L1396.0,1967.3 L1396.9,1963.5 L1397.9,1960.8 L1398.8,1956.4 L1399.7,1951.7 L1400.7,1946.8 L1401.6,1944.3 L1402.6,1939.8 L1403.5,1936.0 L1404.4,1932.3 L1405.4,1928.0 L1406.3,1923.2 L1406.9,1918.8 L1407.5,1914.1 L1408.1,1910.2 L1408.7,1906.5 L1409.2,1902.3 L1409.8,1897.5 L1410.4,1893.3 L1411.0,1890.0 L1411.6,1885.8 L1412.2,1881.1 L1412.7,1878.2 L1413.3,1873.3 L1413.9,1867.9 L1414.5,1864.5 L1415.1,1861.1 L1415.7,1855.9 L1416.3,1852.5 L1416.8,1848.0" fill="none" stroke="#5db877" stroke-width="3.2" stroke-linejoin="round"/>
<path d="M998.4,1821.7 L1001.2,1816.0 L1004.1,1811.9 L1006.9,1808.2 L1009.7,1802.9 L1010.5,1798.7 L1011.3,1794.6 L1012.1,1789.4 L1012.9,1785.7 L1013.7,1781.5 L1014.5,1776.6 L1015.3,1772.8 L1015.8,1769.1 L1016.3,1764.8 L1016.7,1761.7 L1017.2,1756.9 L1017.7,1752.6 L1018.2,1748.0 L1018.6,1744.0 L1019.1,1741.2 L1019.6,1735.9 L1020.0,1731.9 L1020.5,1728.0 L1021.0,1724.7 L1025.0,1727.0 L1029.0,1729.9 L1033.1,1731.8 L1037.1,1734.5 L1041.1,1735.3 L1045.1,1737.5 L1049.2,1740.8 L1053.4,1743.6 L1057.6,1744.9 L1061.9,1747.9 L1066.1,1749.4 L1070.3,1751.2 L1074.5,1753.6 L1078.8,1755.5 L1083.0,1758.5 L1083.9,1753.7 L1084.9,1747.2 L1089.6,1747.4 L1094.3,1747.2 L1098.4,1750.3 L1102.4,1753.9 L1106.5,1757.1 L1110.6,1759.9 L1114.6,1764.9 L1118.7,1767.7 L1122.8,1771.8 L1126.9,1774.2 L1130.9,1777.9 L1135.0,1780.6 L1139.1,1783.5 L1143.2,1787.8 L1147.3,1791.4 L1151.5,1794.0 L1155.7,1795.6 L1159.9,1799.5 L1164.0,1802.0 L1168.2,1803.7 L1172.4,1807.0 L1176.6,1810.5 L1180.8,1812.3 L1185.0,1815.7 L1189.3,1820.1 L1193.6,1822.2 L1197.9,1826.0 L1202.2,1830.1 L1206.5,1832.6 L1210.8,1836.7 L1215.0,1839.5 L1219.1,1843.8 L1223.2,1846.2 L1227.4,1850.1 L1231.5,1852.2 L1235.6,1855.2 L1239.8,1858.8 L1243.9,1861.6 L1248.0,1866.4 L1252.2,1868.2 L1256.3,1872.0 L1260.5,1874.3 L1264.6,1878.3 L1268.7,1881.2 L1272.9,1884.4 L1277.0,1887.0 L1281.1,1890.3 L1285.3,1894.9 L1289.4,1897.1 L1293.5,1900.6 L1297.8,1902.5 L1302.1,1904.8 L1306.4,1907.4 L1310.7,1909.7 L1315.0,1911.8 L1319.3,1915.4 L1323.6,1917.5 L1327.6,1919.8 L1331.7,1921.9 L1335.7,1925.6 L1339.7,1926.9 L1343.7,1929.8 L1347.8,1933.5 L1351.8,1934.6 L1355.8,1937.8 L1359.9,1941.2 L1363.9,1943.6 L1367.9,1944.9 L1371.9,1947.8 L1376.0,1951.1 L1380.0,1953.2 L1385.6,1956.7 L1391.3,1960.8 L1396.0,1956.0 L1400.7,1949.5 L1401.6,1944.5 L1402.6,1941.6 L1403.5,1936.3 L1404.4,1931.4 L1405.4,1927.4 L1406.3,1923.2 L1406.9,1918.4 L1407.5,1915.5 L1408.1,1910.5 L1408.6,1907.8 L1409.2,1903.1 L1409.8,1898.6 L1410.4,1894.3 L1410.9,1891.0 L1411.5,1886.1 L1412.1,1883.4 L1412.7,1877.9 L1413.3,1874.6 L1413.8,1870.5 L1414.2,1866.4 L1414.6,1861.6 L1415.0,1858.4 L1415.3,1853.4 L1415.7,1849.7 L1416.1,1845.3 L1416.5,1840.5 L1416.8,1836.7" fill="none" stroke="#e0611c" stroke-width="3.2" stroke-linejoin="round"/>
<path d="M1078.5,1903.6 L1082.6,1906.7 L1086.6,1909.5 L1090.7,1913.0 L1094.7,1917.7 L1098.8,1920.0 L1102.8,1924.0 L1106.9,1926.3 L1111.0,1930.5 L1115.0,1933.5 L1119.1,1937.1 L1123.1,1940.0 L1127.2,1942.9 L1131.2,1946.8 L1135.3,1949.9 L1139.4,1953.1 L1143.4,1957.6 L1147.5,1960.1 L1151.5,1963.7 L1155.6,1968.0 L1159.6,1971.1 L1163.7,1974.7 L1167.8,1978.0 L1171.8,1979.9 L1175.9,1983.5 L1179.9,1986.4 L1184.0,1991.0 L1188.0,1994.3 L1192.1,1997.1 L1196.2,2000.5 L1200.2,2004.4 L1204.3,2007.8 L1208.3,2010.2 L1212.4,2014.8 L1216.4,2017.1 L1220.5,2021.0 L1224.6,2023.5 L1228.6,2026.7 L1232.7,2031.7 L1236.7,2034.6 L1240.8,2038.0 L1244.8,2040.0 L1248.9,2043.3 L1253.0,2046.9 L1257.0,2050.3 L1261.1,2053.9 L1265.1,2057.4 L1269.2,2060.0 L1273.2,2063.9 L1277.3,2067.9 L1281.4,2070.4 L1285.4,2075.0 L1289.5,2077.8 L1293.5,2081.1 L1297.7,2084.0 L1301.9,2085.6 L1306.1,2088.4 L1310.2,2091.4 L1314.4,2093.3 L1318.6,2095.1 L1322.8,2099.3 L1327.0,2101.7 L1331.1,2103.6 L1335.3,2105.4 L1339.4,2107.2 L1343.5,2111.1 L1347.7,2112.8 L1351.8,2114.9 L1356.0,2112.1 L1360.3,2110.6 L1364.5,2108.5 L1368.7,2107.4 L1373.7,2105.4 L1378.7,2101.8 L1383.8,2099.8 L1385.0,2096.3 L1386.3,2091.6 L1387.5,2085.9 L1388.8,2082.7 L1390.0,2077.7 L1391.3,2073.5 L1392.4,2069.7 L1393.4,2065.6 L1394.5,2060.2 L1395.6,2055.5 L1396.6,2052.9 L1397.7,2047.6 L1398.8,2043.5 L1399.5,2040.2 L1400.2,2035.6 L1400.8,2031.6 L1401.5,2027.7 L1402.2,2023.2 L1402.9,2018.8 L1403.6,2013.9 L1404.3,2011.0 L1404.9,2006.4 L1405.6,2002.5 L1406.3,1998.3 L1406.7,1995.0 L1407.2,1989.2 L1407.6,1986.3 L1408.0,1980.7 L1408.4,1977.9 L1408.8,1973.9 L1409.2,1968.6 L1409.7,1965.0 L1410.1,1961.7 L1410.5,1956.8 L1410.9,1952.5 L1411.3,1947.7 L1411.7,1943.2 L1412.2,1939.6 L1412.6,1935.5 L1413.0,1930.9 L1413.4,1927.0 L1413.8,1923.2 L1414.0,1918.3 L1414.3,1915.2 L1414.5,1911.0 L1414.7,1905.9 L1414.9,1901.8 L1415.1,1898.1 L1415.3,1893.8 L1415.5,1890.6 L1415.7,1885.3 L1415.9,1881.0 L1416.1,1878.0 L1416.3,1872.3 L1416.5,1869.0 L1416.8,1864.3 L1417.0,1861.1 L1417.2,1856.4 L1417.4,1852.7 L1417.6,1848.0" fill="none" stroke="#94c23c" stroke-width="3.2" stroke-linejoin="round"/>
<line x1="995.8" y1="1712.5" x2="995.8" y2="2130.0" stroke="#2a2a2a" stroke-width="3.2"/>
<line x1="994.2" y1="1836.7" x2="1426.0" y2="1836.7" stroke="#2a2a2a" stroke-width="3.0"/>
<text transform="translate(982.5,1757.4) scale(1.0200,1)" font-size="24" text-anchor="end" fill="#222222">0.25</text>
<line x1="992.0" y1="1749.0" x2="994.5" y2="1749.0" stroke="#2a2a2a" stroke-width="2.4"/>
<text transform="translate(982.5,1845.1) scale(1.0200,1)" font-size="24" text-anchor="end" fill="#222222">0.00</text>
<line x1="992.0" y1="1836.7" x2="994.5" y2="1836.7" stroke="#2a2a2a" stroke-width="2.4"/>
<text transform="translate(982.5,1933.4) scale(1.0200,1)" font-size="24" text-anchor="end" fill="#222222">−0.25</text>
<line x1="992.0" y1="1925.0" x2="994.5" y2="1925.0" stroke="#2a2a2a" stroke-width="2.4"/>
<text transform="translate(982.5,2021.8) scale(1.0200,1)" font-size="24" text-anchor="end" fill="#222222">−0.50</text>
<line x1="992.0" y1="2013.4" x2="994.5" y2="2013.4" stroke="#2a2a2a" stroke-width="2.4"/>
<text transform="translate(982.5,2110.1) scale(1.0200,1)" font-size="24" text-anchor="end" fill="#222222">−0.75</text>
<line x1="992.0" y1="2101.7" x2="994.5" y2="2101.7" stroke="#2a2a2a" stroke-width="2.4"/>
<text transform="translate(914.5,1950.6) rotate(-90.00) scale(1.0200,1)" font-size="24.5" text-anchor="middle" fill="#222222">Enrichment score</text>
<rect x="1429.0" y="1738.6" width="15.8" height="15.8" fill="#d8207f"/>
<text transform="translate(1464.5,1755.7) scale(1.0280,1)" font-size="24.2" fill="#222222">KEGG_ALZHEIMERS_DISEASE</text>
<rect x="1429.0" y="1773.1" width="15.8" height="15.8" fill="#5dc2c6"/>
<text transform="translate(1464.5,1790.2) scale(1.0280,1)" font-size="24.2" fill="#222222">KEGG_AMYOTROPHIC_LATERAL_SCLEROSIS</text>
<rect x="1429.0" y="1806.7" width="15.8" height="15.8" fill="#1c6a94"/>
<text transform="translate(1464.5,1823.8) scale(1.0280,1)" font-size="24.2" fill="#222222">KEGG_BUTANOATE_METABOLISM</text>
<rect x="1429.0" y="1840.8" width="15.8" height="15.8" fill="#f4981f"/>
<text transform="translate(1464.5,1857.9) scale(1.0280,1)" font-size="24.2" fill="#222222">KEGG_CARDIAC_MUSCLE_CONTRACTION</text>
<rect x="1429.0" y="1874.5" width="15.8" height="15.8" fill="#b35fa6"/>
<text transform="translate(1464.5,1891.6) scale(1.0280,1)" font-size="24.2" fill="#222222">KEGG_HUNTINGTONS_DISEASE</text>
<rect x="1429.0" y="1908.1" width="15.8" height="15.8" fill="#c5392c"/>
<text transform="translate(1464.5,1925.2) scale(1.0280,1)" font-size="24.2" fill="#222222">KEGG_LONG_TERM_POTENTIATION</text>
<rect x="1429.0" y="1942.6" width="15.8" height="15.8" fill="#c5d62f"/>
<text transform="translate(1464.5,1959.7) scale(1.0280,1)" font-size="24.2" fill="#222222">KEGG_OXIDATIVE_PHOSPHORLYATION</text>
<rect x="1429.0" y="1976.2" width="15.8" height="15.8" fill="#5db877"/>
<text transform="translate(1464.5,1993.3) scale(1.0280,1)" font-size="24.2" fill="#222222">KEGG_PARKINSONS_DISEASE</text>
<rect x="1429.0" y="2009.9" width="15.8" height="15.8" fill="#e0611c"/>
<text transform="translate(1464.5,2027.0) scale(1.0280,1)" font-size="24.2" fill="#222222">KEGG_PROPANOATE_METABOLISM</text>
<rect x="1429.0" y="2043.5" width="15.8" height="15.8" fill="#94c23c"/>
<text transform="translate(1464.5,2060.6) scale(1.0280,1)" font-size="24.2" fill="#222222">KEGG_RIBOSOME</text>
<path d="M1057.7,2191.5v8.2M1419.3,2191.5v8.2M1359.3,2191.5v8.2M1416.4,2191.5v8.2M1352.4,2191.5v8.2M1348.8,2191.5v8.2M1419.2,2191.5v8.2M1360.1,2191.5v8.2M1214.2,2191.5v8.2M1420.2,2191.5v8.2M1293.6,2191.5v8.2M1278.0,2191.5v8.2M1377.2,2191.5v8.2M1375.6,2191.5v8.2M1342.0,2191.5v8.2M1292.9,2191.5v8.2M1266.9,2191.5v8.2M1411.8,2191.5v8.2M1160.2,2191.5v8.2M1417.5,2191.5v8.2M1420.7,2191.5v8.2M1301.2,2191.5v8.2M1385.2,2191.5v8.2M1394.5,2191.5v8.2M1186.4,2191.5v8.2M1400.2,2191.5v8.2M1182.2,2191.5v8.2M1151.2,2191.5v8.2M1313.5,2191.5v8.2M1291.9,2191.5v8.2M1413.0,2191.5v8.2M1420.3,2191.5v8.2M1420.9,2191.5v8.2M1242.2,2191.5v8.2M1057.5,2191.5v8.2M1023.5,2191.5v8.2M1381.5,2191.5v8.2M1373.3,2191.5v8.2M1419.6,2191.5v8.2M1409.6,2191.5v8.2M1056.1,2191.5v8.2M1418.2,2191.5v8.2M1412.8,2191.5v8.2M1162.4,2191.5v8.2M1359.9,2191.5v8.2M1352.4,2191.5v8.2M1103.4,2191.5v8.2M1101.2,2191.5v8.2M1362.8,2191.5v8.2M1150.3,2191.5v8.2M1403.6,2191.5v8.2M1363.7,2191.5v8.2M1308.4,2191.5v8.2M1152.7,2191.5v8.2M1272.7,2191.5v8.2M1307.3,2191.5v8.2M1402.0,2191.5v8.2M1419.5,2191.5v8.2M1315.0,2191.5v8.2M1306.7,2191.5v8.2M1350.7,2191.5v8.2M1421.0,2191.5v8.2M1181.0,2191.5v8.2M1122.6,2191.5v8.2M1359.7,2191.5v8.2M1316.2,2191.5v8.2M1321.7,2191.5v8.2M1098.4,2191.5v8.2M1115.6,2191.5v8.2M1333.1,2191.5v8.2M1387.8,2191.5v8.2" stroke="#94c23c" stroke-width="1.2" opacity="0.36" fill="none"/>
<path d="M1018.9,2199.7v8.2M1138.1,2199.7v8.2M1041.0,2199.7v8.2M1196.7,2199.7v8.2M1411.2,2199.7v8.2M994.5,2199.7v8.2M1013.0,2199.7v8.2M1207.3,2199.7v8.2M1050.5,2199.7v8.2M1076.3,2199.7v8.2M1170.9,2199.7v8.2M1168.1,2199.7v8.2M1220.4,2199.7v8.2M1420.7,2199.7v8.2M1109.9,2199.7v8.2M999.0,2199.7v8.2M1030.3,2199.7v8.2M1397.5,2199.7v8.2M1408.1,2199.7v8.2M1192.9,2199.7v8.2M1416.7,2199.7v8.2M1383.1,2199.7v8.2M991.7,2199.7v8.2M1418.1,2199.7v8.2M1388.0,2199.7v8.2M1372.2,2199.7v8.2M1319.5,2199.7v8.2M1368.4,2199.7v8.2M997.8,2199.7v8.2M1170.4,2199.7v8.2M1042.5,2199.7v8.2M1091.3,2199.7v8.2M1310.1,2199.7v8.2M1029.4,2199.7v8.2M1337.6,2199.7v8.2" stroke="#e0611c" stroke-width="1.2" opacity="0.36" fill="none"/>
<path d="M1389.6,2207.8v8.2M1029.5,2207.8v8.2M1416.5,2207.8v8.2M1188.8,2207.8v8.2M1420.7,2207.8v8.2M1220.4,2207.8v8.2M1317.9,2207.8v8.2M1364.6,2207.8v8.2M1388.7,2207.8v8.2M1155.2,2207.8v8.2M1362.3,2207.8v8.2M1388.8,2207.8v8.2M1352.1,2207.8v8.2M1156.1,2207.8v8.2M1041.6,2207.8v8.2M1276.9,2207.8v8.2M1284.3,2207.8v8.2M1029.6,2207.8v8.2M1357.2,2207.8v8.2M1142.8,2207.8v8.2M1371.8,2207.8v8.2M1420.8,2207.8v8.2M1035.3,2207.8v8.2M1229.6,2207.8v8.2M1397.6,2207.8v8.2M1287.2,2207.8v8.2M1294.1,2207.8v8.2M1314.7,2207.8v8.2M1419.9,2207.8v8.2M1415.1,2207.8v8.2M1390.1,2207.8v8.2M1204.2,2207.8v8.2M1319.4,2207.8v8.2M1381.2,2207.8v8.2M1398.4,2207.8v8.2M1334.8,2207.8v8.2M1177.6,2207.8v8.2M1045.6,2207.8v8.2M1177.8,2207.8v8.2M1096.5,2207.8v8.2M1241.1,2207.8v8.2M1417.7,2207.8v8.2M1039.7,2207.8v8.2M1152.2,2207.8v8.2M1419.4,2207.8v8.2M1223.0,2207.8v8.2M1272.4,2207.8v8.2M1397.7,2207.8v8.2M1019.7,2207.8v8.2M1116.4,2207.8v8.2M1213.8,2207.8v8.2M1419.8,2207.8v8.2M1412.1,2207.8v8.2M1420.1,2207.8v8.2M1415.4,2207.8v8.2M1421.0,2207.8v8.2M1198.4,2207.8v8.2M1301.6,2207.8v8.2M1270.0,2207.8v8.2M1173.4,2207.8v8.2M1296.1,2207.8v8.2M1094.2,2207.8v8.2M1133.1,2207.8v8.2M1386.3,2207.8v8.2M1282.5,2207.8v8.2M1408.1,2207.8v8.2M1174.3,2207.8v8.2M1415.6,2207.8v8.2M1034.5,2207.8v8.2M1357.9,2207.8v8.2M1164.7,2207.8v8.2M1317.2,2207.8v8.2M1071.5,2207.8v8.2M1143.6,2207.8v8.2M1288.3,2207.8v8.2M1224.0,2207.8v8.2M1085.2,2207.8v8.2M1329.0,2207.8v8.2M1408.5,2207.8v8.2M1027.6,2207.8v8.2" stroke="#5db877" stroke-width="1.2" opacity="0.36" fill="none"/>
<path d="M1418.5,2215.9v8.2M1375.3,2215.9v8.2M1347.3,2215.9v8.2M1311.4,2215.9v8.2M1420.7,2215.9v8.2M1021.1,2215.9v8.2M1213.0,2215.9v8.2M1306.3,2215.9v8.2M1198.5,2215.9v8.2M1420.4,2215.9v8.2M1398.9,2215.9v8.2M1345.6,2215.9v8.2M1383.5,2215.9v8.2M1357.9,2215.9v8.2M1176.3,2215.9v8.2M1412.3,2215.9v8.2M1061.2,2215.9v8.2M1129.4,2215.9v8.2M1190.3,2215.9v8.2M1044.9,2215.9v8.2M1271.5,2215.9v8.2M1415.3,2215.9v8.2M1320.1,2215.9v8.2M1054.1,2215.9v8.2M1277.8,2215.9v8.2M1060.2,2215.9v8.2M1211.0,2215.9v8.2M1365.9,2215.9v8.2M1414.4,2215.9v8.2M1384.0,2215.9v8.2M1419.4,2215.9v8.2M1380.3,2215.9v8.2M1184.4,2215.9v8.2M1137.8,2215.9v8.2M1417.4,2215.9v8.2M1405.3,2215.9v8.2M1358.9,2215.9v8.2M1402.4,2215.9v8.2M1274.9,2215.9v8.2M1400.6,2215.9v8.2M1036.7,2215.9v8.2M1029.5,2215.9v8.2M1414.9,2215.9v8.2M1206.9,2215.9v8.2M1383.1,2215.9v8.2M1294.1,2215.9v8.2M1420.4,2215.9v8.2M1388.9,2215.9v8.2M1417.4,2215.9v8.2M1417.5,2215.9v8.2M1355.6,2215.9v8.2M1379.2,2215.9v8.2M1205.8,2215.9v8.2M1214.8,2215.9v8.2M1134.3,2215.9v8.2M1096.4,2215.9v8.2M1395.8,2215.9v8.2M1189.9,2215.9v8.2M1216.6,2215.9v8.2M1154.1,2215.9v8.2M1267.9,2215.9v8.2M1340.8,2215.9v8.2M1086.6,2215.9v8.2M1354.2,2215.9v8.2M1108.7,2215.9v8.2M1410.2,2215.9v8.2M1114.5,2215.9v8.2" stroke="#c5d62f" stroke-width="1.2" opacity="0.36" fill="none"/>
<path d="M1419.2,2224.1v8.2M1101.4,2224.1v8.2M1416.5,2224.1v8.2M1392.6,2224.1v8.2M1419.0,2224.1v8.2M1034.3,2224.1v8.2M1038.2,2224.1v8.2M1363.3,2224.1v8.2M1161.0,2224.1v8.2M1009.6,2224.1v8.2M1408.0,2224.1v8.2M994.3,2224.1v8.2M1003.7,2224.1v8.2M1009.5,2224.1v8.2M1414.2,2224.1v8.2M1421.0,2224.1v8.2M1128.1,2224.1v8.2M1039.2,2224.1v8.2M1055.5,2224.1v8.2" stroke="#c5392c" stroke-width="1.2" opacity="0.36" fill="none"/>
<path d="M1420.0,2232.2v8.2M1107.5,2232.2v8.2M1418.3,2232.2v8.2M1003.8,2232.2v8.2M1010.7,2232.2v8.2M994.4,2232.2v8.2M1218.5,2232.2v8.2M1382.2,2232.2v8.2M1011.2,2232.2v8.2M1105.2,2232.2v8.2M1060.7,2232.2v8.2M1312.5,2232.2v8.2M1037.3,2232.2v8.2M1080.2,2232.2v8.2M1133.6,2232.2v8.2M1227.2,2232.2v8.2M1316.2,2232.2v8.2M1343.4,2232.2v8.2M1419.8,2232.2v8.2M1314.0,2232.2v8.2M1406.1,2232.2v8.2M1259.0,2232.2v8.2M1144.7,2232.2v8.2M1009.7,2232.2v8.2M1015.2,2232.2v8.2M1161.9,2232.2v8.2M1349.2,2232.2v8.2M1085.9,2232.2v8.2M1062.3,2232.2v8.2M1041.9,2232.2v8.2M994.6,2232.2v8.2M1420.6,2232.2v8.2M1034.5,2232.2v8.2M1151.6,2232.2v8.2M1005.3,2232.2v8.2M1067.0,2232.2v8.2M1420.4,2232.2v8.2M1290.3,2232.2v8.2M1000.7,2232.2v8.2M1171.5,2232.2v8.2M1417.3,2232.2v8.2M1309.0,2232.2v8.2M1409.3,2232.2v8.2M1124.8,2232.2v8.2M1003.6,2232.2v8.2M1412.8,2232.2v8.2M1028.6,2232.2v8.2M1294.4,2232.2v8.2M1374.5,2232.2v8.2M1415.7,2232.2v8.2M1319.1,2232.2v8.2M1184.8,2232.2v8.2M1420.2,2232.2v8.2M1358.7,2232.2v8.2M1376.4,2232.2v8.2M1134.4,2232.2v8.2M1404.4,2232.2v8.2M1404.7,2232.2v8.2M998.5,2232.2v8.2M1389.5,2232.2v8.2M1258.3,2232.2v8.2M1000.8,2232.2v8.2M1133.0,2232.2v8.2M1400.0,2232.2v8.2M1074.0,2232.2v8.2M1066.0,2232.2v8.2M1021.7,2232.2v8.2M1411.7,2232.2v8.2M1075.7,2232.2v8.2M1056.0,2232.2v8.2M1014.3,2232.2v8.2M1056.4,2232.2v8.2M1069.3,2232.2v8.2M1392.9,2232.2v8.2M1383.0,2232.2v8.2M1416.2,2232.2v8.2M1396.7,2232.2v8.2M1367.6,2232.2v8.2M1222.3,2232.2v8.2M991.6,2232.2v8.2M1112.6,2232.2v8.2M1127.4,2232.2v8.2M1018.1,2232.2v8.2M1420.9,2232.2v8.2M1227.4,2232.2v8.2M1398.2,2232.2v8.2M1236.0,2232.2v8.2M1033.2,2232.2v8.2M1334.0,2232.2v8.2M1417.6,2232.2v8.2M1021.6,2232.2v8.2M996.4,2232.2v8.2M1418.0,2232.2v8.2M991.7,2232.2v8.2M1362.2,2232.2v8.2M1207.0,2232.2v8.2M1313.6,2232.2v8.2M1293.7,2232.2v8.2M1014.3,2232.2v8.2M991.7,2232.2v8.2M1368.5,2232.2v8.2M1131.7,2232.2v8.2M1015.5,2232.2v8.2M1009.0,2232.2v8.2M1202.0,2232.2v8.2M1307.8,2232.2v8.2M1401.4,2232.2v8.2M1025.9,2232.2v8.2M1181.1,2232.2v8.2M1402.2,2232.2v8.2" stroke="#b35fa6" stroke-width="1.2" opacity="0.36" fill="none"/>
<path d="M1317.0,2240.4v8.2M1410.3,2240.4v8.2M1356.3,2240.4v8.2M1211.8,2240.4v8.2M1300.8,2240.4v8.2M1079.7,2240.4v8.2M1090.7,2240.4v8.2M1226.9,2240.4v8.2M1146.0,2240.4v8.2M1151.9,2240.4v8.2M1412.9,2240.4v8.2M1045.2,2240.4v8.2M1382.2,2240.4v8.2M1100.0,2240.4v8.2M1379.5,2240.4v8.2M1174.1,2240.4v8.2M1355.2,2240.4v8.2M1396.7,2240.4v8.2M1109.1,2240.4v8.2M993.4,2240.4v8.2M992.7,2240.4v8.2M1028.9,2240.4v8.2M1049.1,2240.4v8.2M1008.7,2240.4v8.2M1017.0,2240.4v8.2M1057.3,2240.4v8.2M1420.4,2240.4v8.2M1047.2,2240.4v8.2M1262.9,2240.4v8.2M1216.3,2240.4v8.2" stroke="#f4981f" stroke-width="1.2" opacity="0.36" fill="none"/>
<path d="M1318.6,2248.6v8.2M1008.2,2248.6v8.2M1146.4,2248.6v8.2M1187.0,2248.6v8.2M1202.0,2248.6v8.2M1395.6,2248.6v8.2M1221.5,2248.6v8.2M1415.9,2248.6v8.2M1417.8,2248.6v8.2M994.5,2248.6v8.2M1018.1,2248.6v8.2M1052.0,2248.6v8.2M991.7,2248.6v8.2M1408.7,2248.6v8.2M1069.7,2248.6v8.2M992.8,2248.6v8.2M1408.8,2248.6v8.2M1103.1,2248.6v8.2M1411.7,2248.6v8.2M1410.4,2248.6v8.2M1048.4,2248.6v8.2M1008.3,2248.6v8.2M1322.3,2248.6v8.2M1226.3,2248.6v8.2M1168.3,2248.6v8.2" stroke="#1c6a94" stroke-width="1.2" opacity="0.36" fill="none"/>
<path d="M1184.6,2256.7v8.2M1306.7,2256.7v8.2M1035.8,2256.7v8.2M1143.1,2256.7v8.2M1049.7,2256.7v8.2M1001.5,2256.7v8.2M997.5,2256.7v8.2M1018.8,2256.7v8.2M1188.7,2256.7v8.2M1334.0,2256.7v8.2M1022.2,2256.7v8.2M1008.6,2256.7v8.2M1014.7,2256.7v8.2M1013.4,2256.7v8.2M1412.9,2256.7v8.2M1420.8,2256.7v8.2M1342.0,2256.7v8.2M1417.9,2256.7v8.2M999.7,2256.7v8.2M1342.9,2256.7v8.2M1363.2,2256.7v8.2M1093.2,2256.7v8.2M1369.6,2256.7v8.2M1169.5,2256.7v8.2M1075.0,2256.7v8.2M992.9,2256.7v8.2M1144.7,2256.7v8.2M1221.7,2256.7v8.2M1417.4,2256.7v8.2M1385.9,2256.7v8.2M1409.8,2256.7v8.2M1204.7,2256.7v8.2M1375.4,2256.7v8.2M1336.0,2256.7v8.2M1143.6,2256.7v8.2M1417.6,2256.7v8.2M1223.8,2256.7v8.2M1379.5,2256.7v8.2M1360.1,2256.7v8.2M1127.1,2256.7v8.2M1401.8,2256.7v8.2M1206.7,2256.7v8.2M1154.7,2256.7v8.2M1015.4,2256.7v8.2M1414.3,2256.7v8.2M1045.4,2256.7v8.2M1357.1,2256.7v8.2M1420.6,2256.7v8.2M996.4,2256.7v8.2M1049.2,2256.7v8.2M997.6,2256.7v8.2M1058.4,2256.7v8.2M1312.8,2256.7v8.2M1044.5,2256.7v8.2M1280.0,2256.7v8.2M1018.6,2256.7v8.2M1100.8,2256.7v8.2M1081.1,2256.7v8.2M1376.4,2256.7v8.2" stroke="#5dc2c6" stroke-width="1.2" opacity="0.36" fill="none"/>
<path d="M1191.0,2264.8v8.2M1029.2,2264.8v8.2M1016.9,2264.8v8.2M1097.1,2264.8v8.2M1010.0,2264.8v8.2M1357.4,2264.8v8.2M1127.1,2264.8v8.2M1270.7,2264.8v8.2M1335.6,2264.8v8.2M1023.8,2264.8v8.2M1008.4,2264.8v8.2M1377.3,2264.8v8.2M994.3,2264.8v8.2M1006.1,2264.8v8.2M1091.7,2264.8v8.2M1221.0,2264.8v8.2M1394.3,2264.8v8.2M1131.3,2264.8v8.2M1417.7,2264.8v8.2M1110.3,2264.8v8.2M1417.0,2264.8v8.2M1034.0,2264.8v8.2M1319.9,2264.8v8.2M1032.1,2264.8v8.2M1067.7,2264.8v8.2M1144.6,2264.8v8.2M1386.9,2264.8v8.2M1420.4,2264.8v8.2M1410.5,2264.8v8.2M1198.3,2264.8v8.2M1397.6,2264.8v8.2M1016.1,2264.8v8.2M1343.9,2264.8v8.2M991.5,2264.8v8.2M1000.8,2264.8v8.2M1417.1,2264.8v8.2M1387.1,2264.8v8.2M1129.0,2264.8v8.2M1024.9,2264.8v8.2M1412.3,2264.8v8.2M1119.4,2264.8v8.2M1420.2,2264.8v8.2M1046.0,2264.8v8.2M1071.0,2264.8v8.2M1332.9,2264.8v8.2M1101.7,2264.8v8.2M996.4,2264.8v8.2M1330.5,2264.8v8.2M992.0,2264.8v8.2M1078.7,2264.8v8.2M1207.1,2264.8v8.2M1129.6,2264.8v8.2M1156.5,2264.8v8.2M1066.8,2264.8v8.2M1371.3,2264.8v8.2M1332.5,2264.8v8.2M1308.8,2264.8v8.2M992.0,2264.8v8.2M1131.4,2264.8v8.2M1384.4,2264.8v8.2M1420.9,2264.8v8.2M1303.3,2264.8v8.2M1377.3,2264.8v8.2M1417.7,2264.8v8.2M1259.7,2264.8v8.2M999.1,2264.8v8.2M1408.0,2264.8v8.2M1158.5,2264.8v8.2M1299.3,2264.8v8.2M1396.2,2264.8v8.2M1094.7,2264.8v8.2M1051.9,2264.8v8.2M1419.5,2264.8v8.2M1199.4,2264.8v8.2M1129.7,2264.8v8.2M1282.5,2264.8v8.2M1190.9,2264.8v8.2M1348.0,2264.8v8.2M991.7,2264.8v8.2M1225.0,2264.8v8.2M1377.5,2264.8v8.2M995.4,2264.8v8.2M1213.2,2264.8v8.2M1117.2,2264.8v8.2M1214.4,2264.8v8.2M1405.9,2264.8v8.2M1416.7,2264.8v8.2M1420.2,2264.8v8.2M1419.1,2264.8v8.2M1134.0,2264.8v8.2M1417.2,2264.8v8.2M1182.1,2264.8v8.2M1014.3,2264.8v8.2M1300.5,2264.8v8.2M1387.3,2264.8v8.2M1402.3,2264.8v8.2M1108.5,2264.8v8.2M1056.3,2264.8v8.2M1323.2,2264.8v8.2M1421.0,2264.8v8.2M1296.0,2264.8v8.2M1004.1,2264.8v8.2M997.5,2264.8v8.2M1059.8,2264.8v8.2M1388.6,2264.8v8.2M1350.0,2264.8v8.2M1409.3,2264.8v8.2M1383.9,2264.8v8.2M1017.7,2264.8v8.2" stroke="#d8207f" stroke-width="1.2" opacity="0.36" fill="none"/>
<line x1="990.5" y1="2275.3" x2="1422.0" y2="2275.3" stroke="#2a2a2a" stroke-width="3.2"/>
<text transform="translate(1053.4,2308.0) scale(1.0200,1)" font-size="24.5" fill="#222222">High risk</text>
<text transform="translate(1151.4,2308.0) scale(1.2500,1)" font-size="26" fill="#7a7a7a" style="stroke:#7a7a7a;stroke-width:0.2px">&lt;</text>
<line x1="1175.4" y1="2299.8" x2="1275.4" y2="2299.8" stroke="#111" stroke-width="3" stroke-dasharray="7.2 1.2"/>
<text transform="translate(1277.9,2308.0) scale(1.2000,1)" font-size="26" fill="#7a7a7a" style="stroke:#7a7a7a;stroke-width:0.2px">&gt;</text>
<text transform="translate(1296.7,2308.0) scale(1.0200,1)" font-size="24.5" fill="#222222">Low risk</text>
<line x1="952.4" y1="2380.0" x2="1037.0" y2="2426.5" stroke="#8a8a8a" stroke-width="1.8"/>
<line x1="1020.3" y1="2440.0" x2="1022.5" y2="2527.0" stroke="#8a8a8a" stroke-width="1.8"/>
<line x1="1223.1" y1="2467.9" x2="1251.4" y2="2538.8" stroke="#8a8a8a" stroke-width="1.8"/>
<line x1="1031.9" y1="2540.2" x2="1251.4" y2="2538.8" stroke="#8a8a8a" stroke-width="1.8"/>
<line x1="1251.4" y1="2538.8" x2="1442.9" y2="2556.2" stroke="#8a8a8a" stroke-width="1.8"/>
<line x1="1251.4" y1="2538.8" x2="1095.9" y2="2608.6" stroke="#8a8a8a" stroke-width="1.8"/>
<line x1="1031.9" y1="2540.2" x2="889.8" y2="2655.4" stroke="#8a8a8a" stroke-width="1.8"/>
<line x1="830.3" y1="2553.7" x2="889.8" y2="2655.4" stroke="#8a8a8a" stroke-width="1.8"/>
<line x1="509.0" y1="2570.4" x2="696.2" y2="2610.7" stroke="#8a8a8a" stroke-width="1.8"/>
<line x1="696.2" y1="2610.7" x2="889.8" y2="2655.4" stroke="#8a8a8a" stroke-width="1.8"/>
<line x1="696.2" y1="2610.7" x2="863.3" y2="2696.9" stroke="#8a8a8a" stroke-width="1.8"/>
<line x1="1095.9" y1="2608.6" x2="889.8" y2="2655.4" stroke="#8a8a8a" stroke-width="1.8"/>
<line x1="664.2" y1="2671.4" x2="889.8" y2="2655.4" stroke="#8a8a8a" stroke-width="1.8"/>
<line x1="664.2" y1="2671.4" x2="863.3" y2="2696.9" stroke="#8a8a8a" stroke-width="1.8"/>
<line x1="1052.3" y1="2682.3" x2="889.8" y2="2655.4" stroke="#8a8a8a" stroke-width="1.8"/>
<line x1="1052.3" y1="2682.3" x2="863.3" y2="2696.9" stroke="#8a8a8a" stroke-width="1.8"/>
<line x1="692.9" y1="2733.6" x2="863.3" y2="2696.9" stroke="#8a8a8a" stroke-width="1.8"/>
<line x1="1019.9" y1="2739.4" x2="889.8" y2="2655.4" stroke="#8a8a8a" stroke-width="1.8"/>
<line x1="1019.9" y1="2739.4" x2="863.3" y2="2696.9" stroke="#8a8a8a" stroke-width="1.8"/>
<line x1="797.5" y1="2775.4" x2="889.8" y2="2655.4" stroke="#8a8a8a" stroke-width="1.8"/>
<line x1="797.5" y1="2775.4" x2="863.3" y2="2696.9" stroke="#8a8a8a" stroke-width="1.8"/>
<line x1="925.5" y1="2775.4" x2="889.8" y2="2655.4" stroke="#8a8a8a" stroke-width="1.8"/>
<line x1="925.5" y1="2775.4" x2="863.3" y2="2696.9" stroke="#8a8a8a" stroke-width="1.8"/>
<line x1="725.2" y1="2846.9" x2="510.8" y2="2862.6" stroke="#8a8a8a" stroke-width="1.8"/>
<line x1="725.2" y1="2846.9" x2="803.7" y2="2887.6" stroke="#8a8a8a" stroke-width="1.8"/>
<line x1="725.2" y1="2846.9" x2="671.4" y2="2907.6" stroke="#8a8a8a" stroke-width="1.8"/>
<line x1="1008.7" y1="2836.4" x2="998.5" y2="2896.4" stroke="#8a8a8a" stroke-width="1.8"/>
<rect x="886.6" y="2365.4" width="131.6" height="29.1" fill="#d9261c"/>
<rect x="946.9" y="2411.2" width="180.2" height="30.5" fill="#6bb33c"/>
<rect x="1157.7" y="2452.7" width="130.8" height="30.5" fill="#d9261c"/>
<rect x="959.3" y="2525.3" width="145.4" height="29.8" fill="#d9261c"/>
<rect x="1167.1" y="2523.2" width="168.6" height="31.3" fill="#6bb33c"/>
<rect x="1377.2" y="2541.3" width="131.6" height="29.8" fill="#d9261c"/>
<rect x="758.7" y="2538.4" width="143.2" height="30.5" fill="#d9261c"/>
<rect x="420.0" y="2555.9" width="178.1" height="29.1" fill="#6bb33c"/>
<rect x="630.7" y="2595.8" width="130.8" height="29.8" fill="#d9261c"/>
<rect x="1030.5" y="2593.7" width="130.8" height="29.8" fill="#d9261c"/>
<rect x="818.3" y="2640.2" width="143.2" height="30.5" fill="#6bb33c"/>
<rect x="598.8" y="2656.2" width="130.8" height="30.5" fill="#d9261c"/>
<rect x="986.9" y="2667.1" width="130.8" height="30.5" fill="#d9261c"/>
<rect x="774.7" y="2681.6" width="177.3" height="30.5" fill="#6bb33c"/>
<rect x="624.2" y="2717.9" width="137.4" height="31.3" fill="#d9261c"/>
<rect x="954.9" y="2723.7" width="130.1" height="31.3" fill="#d9261c"/>
<rect x="729.6" y="2760.1" width="135.9" height="30.5" fill="#d9261c"/>
<rect x="859.7" y="2760.1" width="131.6" height="30.5" fill="#d9261c"/>
<rect x="635.8" y="2832.0" width="178.8" height="29.8" fill="#6bb33c"/>
<rect x="436.0" y="2847.3" width="149.7" height="30.5" fill="#d9261c"/>
<rect x="917.8" y="2821.1" width="181.7" height="30.5" fill="#6bb33c"/>
<rect x="738.3" y="2872.7" width="130.8" height="29.8" fill="#d9261c"/>
<rect x="603.1" y="2892.4" width="136.6" height="30.5" fill="#d9261c"/>
<rect x="926.6" y="2881.5" width="143.9" height="29.8" fill="#d9261c"/>
<text transform="translate(959.4,2386.8) scale(1.5700,1)" font-size="18.5" text-anchor="middle" font-weight="700" fill="#1c1410">SDC2</text>
<text transform="translate(1037.0,2433.3) scale(1.5700,1)" font-size="18.5" text-anchor="middle" font-weight="700" fill="#1c1410">AC007098.1</text>
<text transform="translate(1224.1,2474.7) scale(1.5700,1)" font-size="18.5" text-anchor="middle" font-weight="700" fill="#1c1410">AK4</text>
<text transform="translate(1034.9,2547.0) scale(1.5700,1)" font-size="18.5" text-anchor="middle" font-weight="700" fill="#1c1410">CASP6</text>
<text transform="translate(1251.4,2545.6) scale(1.5700,1)" font-size="18.5" text-anchor="middle" font-weight="700" fill="#1c1410">LINC02587</text>
<text transform="translate(1449.9,2563.0) scale(1.5700,1)" font-size="18.5" text-anchor="middle" font-weight="700" fill="#1c1410">EGFR</text>
<text transform="translate(835.3,2560.5) scale(1.5700,1)" font-size="18.5" text-anchor="middle" font-weight="700" fill="#1c1410">GMPPB</text>
<text transform="translate(509.0,2577.2) scale(1.5700,1)" font-size="18.5" text-anchor="middle" font-weight="700" fill="#1c1410">RHOQ-AS1</text>
<text transform="translate(701.6,2617.5) scale(1.5700,1)" font-size="18.5" text-anchor="middle" font-weight="700" fill="#1c1410">NASP</text>
<text transform="translate(1099.9,2615.4) scale(1.5700,1)" font-size="18.5" text-anchor="middle" font-weight="700" fill="#1c1410">GUSB</text>
<text transform="translate(891.5,2662.2) scale(1.5700,1)" font-size="18.5" text-anchor="middle" font-weight="700" fill="#1c1410">CRNDE</text>
<text transform="translate(668.7,2678.2) scale(1.5700,1)" font-size="18.5" text-anchor="middle" font-weight="700" fill="#1c1410">CDK1</text>
<text transform="translate(1057.3,2689.1) scale(1.5700,1)" font-size="18.5" text-anchor="middle" font-weight="700" fill="#1c1410">CENPA</text>
<text transform="translate(863.3,2703.7) scale(1.5700,1)" font-size="18.5" text-anchor="middle" font-weight="700" fill="#1c1410">AL133215.2</text>
<text transform="translate(696.2,2740.4) scale(1.5700,1)" font-size="18.5" text-anchor="middle" font-weight="700" fill="#1c1410">KIF20A</text>
<text transform="translate(1027.9,2746.2) scale(1.5700,1)" font-size="18.5" text-anchor="middle" font-weight="700" fill="#1c1410">AURKA</text>
<text transform="translate(804.9,2782.2) scale(1.5700,1)" font-size="18.5" text-anchor="middle" font-weight="700" fill="#1c1410">DEPDC1</text>
<text transform="translate(925.5,2782.2) scale(1.5700,1)" font-size="18.5" text-anchor="middle" font-weight="700" fill="#1c1410">HMMR</text>
<text transform="translate(725.2,2853.7) scale(1.5700,1)" font-size="18.5" text-anchor="middle" font-weight="700" fill="#1c1410">AL159169.2</text>
<text transform="translate(510.8,2869.4) scale(1.5700,1)" font-size="18.5" text-anchor="middle" font-weight="700" fill="#1c1410">ANKZF1</text>
<text transform="translate(1008.7,2843.2) scale(1.5700,1)" font-size="18.5" text-anchor="middle" font-weight="700" fill="#1c1410">AC022034.1</text>
<text transform="translate(807.0,2894.4) scale(1.5700,1)" font-size="18.5" text-anchor="middle" font-weight="700" fill="#1c1410">IDUA</text>
<text transform="translate(672.4,2914.4) scale(1.5700,1)" font-size="18.5" text-anchor="middle" font-weight="700" fill="#1c1410">ABCB6</text>
<text transform="translate(1001.5,2903.2) scale(1.5700,1)" font-size="18.5" text-anchor="middle" font-weight="700" fill="#1c1410">CHST6</text>
<text transform="translate(390.6,2398.4) scale(0.8800,1)" font-size="48.5" fill="#0d0d0d">F</text>
</svg></body></html>
